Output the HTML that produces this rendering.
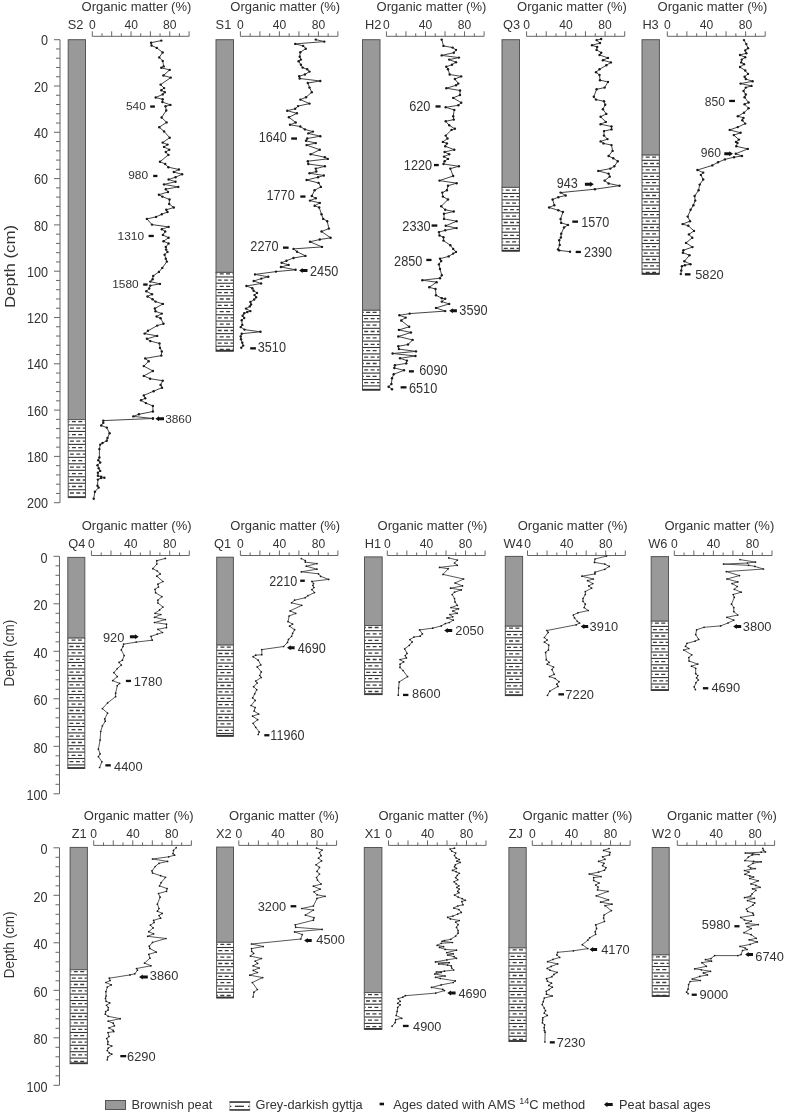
<!DOCTYPE html>
<html><head><meta charset="utf-8"><style>
html,body{margin:0;padding:0;background:#fff;}
svg{display:block;will-change:transform;}
text{font-family:"Liberation Sans", sans-serif;}
</style></head><body>
<svg width="787" height="1115" viewBox="0 0 787 1115">
<rect width="787" height="1115" fill="#fff"/>
<line x1="60" y1="39.7" x2="60" y2="502.7" stroke="#666" stroke-width="1"/>
<line x1="54" y1="39.70" x2="60" y2="39.70" stroke="#666" stroke-width="1"/>
<text transform="translate(40.90,45.30) scale(1.0,1.09)" text-anchor="start" font-size="12.6" fill="#333">0</text>
<line x1="56" y1="48.96" x2="60" y2="48.96" stroke="#666" stroke-width="1"/>
<line x1="56" y1="58.22" x2="60" y2="58.22" stroke="#666" stroke-width="1"/>
<line x1="56" y1="67.48" x2="60" y2="67.48" stroke="#666" stroke-width="1"/>
<line x1="56" y1="76.74" x2="60" y2="76.74" stroke="#666" stroke-width="1"/>
<line x1="54" y1="86.00" x2="60" y2="86.00" stroke="#666" stroke-width="1"/>
<text transform="translate(33.89,91.60) scale(1.0,1.09)" text-anchor="start" font-size="12.6" fill="#333">20</text>
<line x1="56" y1="95.26" x2="60" y2="95.26" stroke="#666" stroke-width="1"/>
<line x1="56" y1="104.52" x2="60" y2="104.52" stroke="#666" stroke-width="1"/>
<line x1="56" y1="113.78" x2="60" y2="113.78" stroke="#666" stroke-width="1"/>
<line x1="56" y1="123.04" x2="60" y2="123.04" stroke="#666" stroke-width="1"/>
<line x1="54" y1="132.30" x2="60" y2="132.30" stroke="#666" stroke-width="1"/>
<text transform="translate(33.89,137.90) scale(1.0,1.09)" text-anchor="start" font-size="12.6" fill="#333">40</text>
<line x1="56" y1="141.56" x2="60" y2="141.56" stroke="#666" stroke-width="1"/>
<line x1="56" y1="150.82" x2="60" y2="150.82" stroke="#666" stroke-width="1"/>
<line x1="56" y1="160.08" x2="60" y2="160.08" stroke="#666" stroke-width="1"/>
<line x1="56" y1="169.34" x2="60" y2="169.34" stroke="#666" stroke-width="1"/>
<line x1="54" y1="178.60" x2="60" y2="178.60" stroke="#666" stroke-width="1"/>
<text transform="translate(33.89,184.20) scale(1.0,1.09)" text-anchor="start" font-size="12.6" fill="#333">60</text>
<line x1="56" y1="187.86" x2="60" y2="187.86" stroke="#666" stroke-width="1"/>
<line x1="56" y1="197.12" x2="60" y2="197.12" stroke="#666" stroke-width="1"/>
<line x1="56" y1="206.38" x2="60" y2="206.38" stroke="#666" stroke-width="1"/>
<line x1="56" y1="215.64" x2="60" y2="215.64" stroke="#666" stroke-width="1"/>
<line x1="54" y1="224.90" x2="60" y2="224.90" stroke="#666" stroke-width="1"/>
<text transform="translate(33.89,230.50) scale(1.0,1.09)" text-anchor="start" font-size="12.6" fill="#333">80</text>
<line x1="56" y1="234.16" x2="60" y2="234.16" stroke="#666" stroke-width="1"/>
<line x1="56" y1="243.42" x2="60" y2="243.42" stroke="#666" stroke-width="1"/>
<line x1="56" y1="252.68" x2="60" y2="252.68" stroke="#666" stroke-width="1"/>
<line x1="56" y1="261.94" x2="60" y2="261.94" stroke="#666" stroke-width="1"/>
<line x1="54" y1="271.20" x2="60" y2="271.20" stroke="#666" stroke-width="1"/>
<text transform="translate(26.89,276.80) scale(1.0,1.09)" text-anchor="start" font-size="12.6" fill="#333">100</text>
<line x1="56" y1="280.46" x2="60" y2="280.46" stroke="#666" stroke-width="1"/>
<line x1="56" y1="289.72" x2="60" y2="289.72" stroke="#666" stroke-width="1"/>
<line x1="56" y1="298.98" x2="60" y2="298.98" stroke="#666" stroke-width="1"/>
<line x1="56" y1="308.24" x2="60" y2="308.24" stroke="#666" stroke-width="1"/>
<line x1="54" y1="317.50" x2="60" y2="317.50" stroke="#666" stroke-width="1"/>
<text transform="translate(26.89,323.10) scale(1.0,1.09)" text-anchor="start" font-size="12.6" fill="#333">120</text>
<line x1="56" y1="326.76" x2="60" y2="326.76" stroke="#666" stroke-width="1"/>
<line x1="56" y1="336.02" x2="60" y2="336.02" stroke="#666" stroke-width="1"/>
<line x1="56" y1="345.28" x2="60" y2="345.28" stroke="#666" stroke-width="1"/>
<line x1="56" y1="354.54" x2="60" y2="354.54" stroke="#666" stroke-width="1"/>
<line x1="54" y1="363.80" x2="60" y2="363.80" stroke="#666" stroke-width="1"/>
<text transform="translate(26.89,369.40) scale(1.0,1.09)" text-anchor="start" font-size="12.6" fill="#333">140</text>
<line x1="56" y1="373.06" x2="60" y2="373.06" stroke="#666" stroke-width="1"/>
<line x1="56" y1="382.32" x2="60" y2="382.32" stroke="#666" stroke-width="1"/>
<line x1="56" y1="391.58" x2="60" y2="391.58" stroke="#666" stroke-width="1"/>
<line x1="56" y1="400.84" x2="60" y2="400.84" stroke="#666" stroke-width="1"/>
<line x1="54" y1="410.10" x2="60" y2="410.10" stroke="#666" stroke-width="1"/>
<text transform="translate(26.89,415.70) scale(1.0,1.09)" text-anchor="start" font-size="12.6" fill="#333">160</text>
<line x1="56" y1="419.36" x2="60" y2="419.36" stroke="#666" stroke-width="1"/>
<line x1="56" y1="428.62" x2="60" y2="428.62" stroke="#666" stroke-width="1"/>
<line x1="56" y1="437.88" x2="60" y2="437.88" stroke="#666" stroke-width="1"/>
<line x1="56" y1="447.14" x2="60" y2="447.14" stroke="#666" stroke-width="1"/>
<line x1="54" y1="456.40" x2="60" y2="456.40" stroke="#666" stroke-width="1"/>
<text transform="translate(26.89,462.00) scale(1.0,1.09)" text-anchor="start" font-size="12.6" fill="#333">180</text>
<line x1="56" y1="465.66" x2="60" y2="465.66" stroke="#666" stroke-width="1"/>
<line x1="56" y1="474.92" x2="60" y2="474.92" stroke="#666" stroke-width="1"/>
<line x1="56" y1="484.18" x2="60" y2="484.18" stroke="#666" stroke-width="1"/>
<line x1="56" y1="493.44" x2="60" y2="493.44" stroke="#666" stroke-width="1"/>
<line x1="54" y1="502.70" x2="60" y2="502.70" stroke="#666" stroke-width="1"/>
<text transform="translate(26.89,508.30) scale(1.0,1.09)" text-anchor="start" font-size="12.6" fill="#333">200</text>
<text transform="translate(14.6,266.5) rotate(-90) scale(1.16,1)" text-anchor="middle" font-size="14.5" fill="#333">Depth (cm)</text>
<line x1="59.5" y1="556.3" x2="59.5" y2="793.8" stroke="#666" stroke-width="1"/>
<line x1="53.5" y1="556.30" x2="59.5" y2="556.30" stroke="#666" stroke-width="1"/>
<text transform="translate(40.50,562.50) scale(1.0,1.09)" text-anchor="start" font-size="12.6" fill="#333">0</text>
<line x1="55.5" y1="565.80" x2="59.5" y2="565.80" stroke="#666" stroke-width="1"/>
<line x1="55.5" y1="575.30" x2="59.5" y2="575.30" stroke="#666" stroke-width="1"/>
<line x1="55.5" y1="584.80" x2="59.5" y2="584.80" stroke="#666" stroke-width="1"/>
<line x1="55.5" y1="594.30" x2="59.5" y2="594.30" stroke="#666" stroke-width="1"/>
<line x1="53.5" y1="603.80" x2="59.5" y2="603.80" stroke="#666" stroke-width="1"/>
<text transform="translate(33.49,610.00) scale(1.0,1.09)" text-anchor="start" font-size="12.6" fill="#333">20</text>
<line x1="55.5" y1="613.30" x2="59.5" y2="613.30" stroke="#666" stroke-width="1"/>
<line x1="55.5" y1="622.80" x2="59.5" y2="622.80" stroke="#666" stroke-width="1"/>
<line x1="55.5" y1="632.30" x2="59.5" y2="632.30" stroke="#666" stroke-width="1"/>
<line x1="55.5" y1="641.80" x2="59.5" y2="641.80" stroke="#666" stroke-width="1"/>
<line x1="53.5" y1="651.30" x2="59.5" y2="651.30" stroke="#666" stroke-width="1"/>
<text transform="translate(33.49,657.50) scale(1.0,1.09)" text-anchor="start" font-size="12.6" fill="#333">40</text>
<line x1="55.5" y1="660.80" x2="59.5" y2="660.80" stroke="#666" stroke-width="1"/>
<line x1="55.5" y1="670.30" x2="59.5" y2="670.30" stroke="#666" stroke-width="1"/>
<line x1="55.5" y1="679.80" x2="59.5" y2="679.80" stroke="#666" stroke-width="1"/>
<line x1="55.5" y1="689.30" x2="59.5" y2="689.30" stroke="#666" stroke-width="1"/>
<line x1="53.5" y1="698.80" x2="59.5" y2="698.80" stroke="#666" stroke-width="1"/>
<text transform="translate(33.49,705.00) scale(1.0,1.09)" text-anchor="start" font-size="12.6" fill="#333">60</text>
<line x1="55.5" y1="708.30" x2="59.5" y2="708.30" stroke="#666" stroke-width="1"/>
<line x1="55.5" y1="717.80" x2="59.5" y2="717.80" stroke="#666" stroke-width="1"/>
<line x1="55.5" y1="727.30" x2="59.5" y2="727.30" stroke="#666" stroke-width="1"/>
<line x1="55.5" y1="736.80" x2="59.5" y2="736.80" stroke="#666" stroke-width="1"/>
<line x1="53.5" y1="746.30" x2="59.5" y2="746.30" stroke="#666" stroke-width="1"/>
<text transform="translate(33.49,752.50) scale(1.0,1.09)" text-anchor="start" font-size="12.6" fill="#333">80</text>
<line x1="55.5" y1="755.80" x2="59.5" y2="755.80" stroke="#666" stroke-width="1"/>
<line x1="55.5" y1="765.30" x2="59.5" y2="765.30" stroke="#666" stroke-width="1"/>
<line x1="55.5" y1="774.80" x2="59.5" y2="774.80" stroke="#666" stroke-width="1"/>
<line x1="55.5" y1="784.30" x2="59.5" y2="784.30" stroke="#666" stroke-width="1"/>
<line x1="53.5" y1="793.80" x2="59.5" y2="793.80" stroke="#666" stroke-width="1"/>
<text transform="translate(26.49,800.00) scale(1.0,1.09)" text-anchor="start" font-size="12.6" fill="#333">100</text>
<text transform="translate(14.3,653.1) rotate(-90) scale(0.9,1)" text-anchor="middle" font-size="15" fill="#333">Depth (cm)</text>
<line x1="59.5" y1="847.8" x2="59.5" y2="1085.3" stroke="#666" stroke-width="1"/>
<line x1="53.5" y1="847.80" x2="59.5" y2="847.80" stroke="#666" stroke-width="1"/>
<text transform="translate(40.50,854.00) scale(1.0,1.09)" text-anchor="start" font-size="12.6" fill="#333">0</text>
<line x1="55.5" y1="857.30" x2="59.5" y2="857.30" stroke="#666" stroke-width="1"/>
<line x1="55.5" y1="866.80" x2="59.5" y2="866.80" stroke="#666" stroke-width="1"/>
<line x1="55.5" y1="876.30" x2="59.5" y2="876.30" stroke="#666" stroke-width="1"/>
<line x1="55.5" y1="885.80" x2="59.5" y2="885.80" stroke="#666" stroke-width="1"/>
<line x1="53.5" y1="895.30" x2="59.5" y2="895.30" stroke="#666" stroke-width="1"/>
<text transform="translate(33.49,901.50) scale(1.0,1.09)" text-anchor="start" font-size="12.6" fill="#333">20</text>
<line x1="55.5" y1="904.80" x2="59.5" y2="904.80" stroke="#666" stroke-width="1"/>
<line x1="55.5" y1="914.30" x2="59.5" y2="914.30" stroke="#666" stroke-width="1"/>
<line x1="55.5" y1="923.80" x2="59.5" y2="923.80" stroke="#666" stroke-width="1"/>
<line x1="55.5" y1="933.30" x2="59.5" y2="933.30" stroke="#666" stroke-width="1"/>
<line x1="53.5" y1="942.80" x2="59.5" y2="942.80" stroke="#666" stroke-width="1"/>
<text transform="translate(33.49,949.00) scale(1.0,1.09)" text-anchor="start" font-size="12.6" fill="#333">40</text>
<line x1="55.5" y1="952.30" x2="59.5" y2="952.30" stroke="#666" stroke-width="1"/>
<line x1="55.5" y1="961.80" x2="59.5" y2="961.80" stroke="#666" stroke-width="1"/>
<line x1="55.5" y1="971.30" x2="59.5" y2="971.30" stroke="#666" stroke-width="1"/>
<line x1="55.5" y1="980.80" x2="59.5" y2="980.80" stroke="#666" stroke-width="1"/>
<line x1="53.5" y1="990.30" x2="59.5" y2="990.30" stroke="#666" stroke-width="1"/>
<text transform="translate(33.49,996.50) scale(1.0,1.09)" text-anchor="start" font-size="12.6" fill="#333">60</text>
<line x1="55.5" y1="999.80" x2="59.5" y2="999.80" stroke="#666" stroke-width="1"/>
<line x1="55.5" y1="1009.30" x2="59.5" y2="1009.30" stroke="#666" stroke-width="1"/>
<line x1="55.5" y1="1018.80" x2="59.5" y2="1018.80" stroke="#666" stroke-width="1"/>
<line x1="55.5" y1="1028.30" x2="59.5" y2="1028.30" stroke="#666" stroke-width="1"/>
<line x1="53.5" y1="1037.80" x2="59.5" y2="1037.80" stroke="#666" stroke-width="1"/>
<text transform="translate(33.49,1044.00) scale(1.0,1.09)" text-anchor="start" font-size="12.6" fill="#333">80</text>
<line x1="55.5" y1="1047.30" x2="59.5" y2="1047.30" stroke="#666" stroke-width="1"/>
<line x1="55.5" y1="1056.80" x2="59.5" y2="1056.80" stroke="#666" stroke-width="1"/>
<line x1="55.5" y1="1066.30" x2="59.5" y2="1066.30" stroke="#666" stroke-width="1"/>
<line x1="55.5" y1="1075.80" x2="59.5" y2="1075.80" stroke="#666" stroke-width="1"/>
<line x1="53.5" y1="1085.30" x2="59.5" y2="1085.30" stroke="#666" stroke-width="1"/>
<text transform="translate(26.49,1091.50) scale(1.0,1.09)" text-anchor="start" font-size="12.6" fill="#333">100</text>
<text transform="translate(14.3,944.8) rotate(-90) scale(0.9,1)" text-anchor="middle" font-size="15" fill="#333">Depth (cm)</text>
<rect x="68.2" y="39.7" width="17.30" height="379.90" fill="#999" stroke="#555" stroke-width="1"/>
<rect x="68.2" y="419.6" width="17.30" height="78.00" fill="#fff" stroke="#555" stroke-width="1"/>
<line x1="68.70" y1="421.70" x2="85.00" y2="421.70" stroke="#3a3a3a" stroke-width="1.3" stroke-dasharray="4.0 2.4" stroke-dashoffset="3.2"/>
<line x1="68.2" y1="424.94" x2="85.5" y2="424.94" stroke="#333" stroke-width="1.1"/>
<line x1="68.70" y1="428.18" x2="85.00" y2="428.18" stroke="#3a3a3a" stroke-width="1.3" stroke-dasharray="4.0 2.4" stroke-dashoffset="5.2"/>
<line x1="68.2" y1="431.42" x2="85.5" y2="431.42" stroke="#333" stroke-width="1.1"/>
<line x1="68.70" y1="434.66" x2="85.00" y2="434.66" stroke="#3a3a3a" stroke-width="1.3" stroke-dasharray="4.0 2.4" stroke-dashoffset="3.2"/>
<line x1="68.2" y1="437.90" x2="85.5" y2="437.90" stroke="#333" stroke-width="1.1"/>
<line x1="68.70" y1="441.14" x2="85.00" y2="441.14" stroke="#3a3a3a" stroke-width="1.3" stroke-dasharray="4.0 2.4" stroke-dashoffset="5.2"/>
<line x1="68.2" y1="444.38" x2="85.5" y2="444.38" stroke="#333" stroke-width="1.1"/>
<line x1="68.70" y1="447.62" x2="85.00" y2="447.62" stroke="#3a3a3a" stroke-width="1.3" stroke-dasharray="4.0 2.4" stroke-dashoffset="3.2"/>
<line x1="68.2" y1="450.86" x2="85.5" y2="450.86" stroke="#333" stroke-width="1.1"/>
<line x1="68.70" y1="454.10" x2="85.00" y2="454.10" stroke="#3a3a3a" stroke-width="1.3" stroke-dasharray="4.0 2.4" stroke-dashoffset="5.2"/>
<line x1="68.2" y1="457.34" x2="85.5" y2="457.34" stroke="#333" stroke-width="1.1"/>
<line x1="68.70" y1="460.58" x2="85.00" y2="460.58" stroke="#3a3a3a" stroke-width="1.3" stroke-dasharray="4.0 2.4" stroke-dashoffset="3.2"/>
<line x1="68.2" y1="463.82" x2="85.5" y2="463.82" stroke="#333" stroke-width="1.1"/>
<line x1="68.70" y1="467.06" x2="85.00" y2="467.06" stroke="#3a3a3a" stroke-width="1.3" stroke-dasharray="4.0 2.4" stroke-dashoffset="5.2"/>
<line x1="68.2" y1="470.30" x2="85.5" y2="470.30" stroke="#333" stroke-width="1.1"/>
<line x1="68.70" y1="473.54" x2="85.00" y2="473.54" stroke="#3a3a3a" stroke-width="1.3" stroke-dasharray="4.0 2.4" stroke-dashoffset="3.2"/>
<line x1="68.2" y1="476.78" x2="85.5" y2="476.78" stroke="#333" stroke-width="1.1"/>
<line x1="68.70" y1="480.02" x2="85.00" y2="480.02" stroke="#3a3a3a" stroke-width="1.3" stroke-dasharray="4.0 2.4" stroke-dashoffset="5.2"/>
<line x1="68.2" y1="483.26" x2="85.5" y2="483.26" stroke="#333" stroke-width="1.1"/>
<line x1="68.70" y1="486.50" x2="85.00" y2="486.50" stroke="#3a3a3a" stroke-width="1.3" stroke-dasharray="4.0 2.4" stroke-dashoffset="3.2"/>
<line x1="68.2" y1="489.74" x2="85.5" y2="489.74" stroke="#333" stroke-width="1.1"/>
<line x1="68.70" y1="492.98" x2="85.00" y2="492.98" stroke="#3a3a3a" stroke-width="1.3" stroke-dasharray="4.0 2.4" stroke-dashoffset="5.2"/>
<line x1="68.2" y1="497.00" x2="85.5" y2="497.00" stroke="#333" stroke-width="1.6"/>
<line x1="92.3" y1="36.3" x2="189.1" y2="36.3" stroke="#666" stroke-width="1"/>
<line x1="92.30" y1="31.299999999999997" x2="92.30" y2="36.3" stroke="#666" stroke-width="1"/>
<line x1="101.98" y1="33.3" x2="101.98" y2="36.3" stroke="#666" stroke-width="1"/>
<line x1="111.66" y1="31.299999999999997" x2="111.66" y2="36.3" stroke="#666" stroke-width="1"/>
<line x1="121.34" y1="33.3" x2="121.34" y2="36.3" stroke="#666" stroke-width="1"/>
<line x1="131.02" y1="31.299999999999997" x2="131.02" y2="36.3" stroke="#666" stroke-width="1"/>
<line x1="140.70" y1="33.3" x2="140.70" y2="36.3" stroke="#666" stroke-width="1"/>
<line x1="150.38" y1="31.299999999999997" x2="150.38" y2="36.3" stroke="#666" stroke-width="1"/>
<line x1="160.06" y1="33.3" x2="160.06" y2="36.3" stroke="#666" stroke-width="1"/>
<line x1="169.74" y1="31.299999999999997" x2="169.74" y2="36.3" stroke="#666" stroke-width="1"/>
<line x1="179.42" y1="33.3" x2="179.42" y2="36.3" stroke="#666" stroke-width="1"/>
<line x1="189.10" y1="31.299999999999997" x2="189.10" y2="36.3" stroke="#666" stroke-width="1"/>
<text transform="translate(88.94,28.70) scale(1.0,1.0)" text-anchor="start" font-size="12.1" fill="#333">0</text>
<text transform="translate(124.40,28.70) scale(1.0,1.0)" text-anchor="start" font-size="12.1" fill="#333">40</text>
<text transform="translate(162.99,28.70) scale(1.0,1.0)" text-anchor="start" font-size="12.1" fill="#333">80</text>
<text transform="translate(81.52,11.20) scale(1.0,1.0)" text-anchor="start" font-size="13.0" fill="#333">Organic matter (%)</text>
<text transform="translate(67.80,28.60) scale(1.0,1.0)" text-anchor="start" font-size="12.8" fill="#333">S2</text>
<rect x="216" y="39.7" width="17.50" height="232.70" fill="#999" stroke="#555" stroke-width="1"/>
<rect x="216" y="272.4" width="17.50" height="78.80" fill="#fff" stroke="#555" stroke-width="1"/>
<line x1="216.50" y1="273.80" x2="233.00" y2="273.80" stroke="#3a3a3a" stroke-width="1.3" stroke-dasharray="4.0 2.4" stroke-dashoffset="3.2"/>
<line x1="216" y1="276.95" x2="233.5" y2="276.95" stroke="#333" stroke-width="1.1"/>
<line x1="216.50" y1="280.10" x2="233.00" y2="280.10" stroke="#3a3a3a" stroke-width="1.3" stroke-dasharray="4.0 2.4" stroke-dashoffset="5.2"/>
<line x1="216" y1="283.25" x2="233.5" y2="283.25" stroke="#333" stroke-width="1.1"/>
<line x1="216.50" y1="286.40" x2="233.00" y2="286.40" stroke="#3a3a3a" stroke-width="1.3" stroke-dasharray="4.0 2.4" stroke-dashoffset="3.2"/>
<line x1="216" y1="289.55" x2="233.5" y2="289.55" stroke="#333" stroke-width="1.1"/>
<line x1="216.50" y1="292.70" x2="233.00" y2="292.70" stroke="#3a3a3a" stroke-width="1.3" stroke-dasharray="4.0 2.4" stroke-dashoffset="5.2"/>
<line x1="216" y1="295.85" x2="233.5" y2="295.85" stroke="#333" stroke-width="1.1"/>
<line x1="216.50" y1="299.00" x2="233.00" y2="299.00" stroke="#3a3a3a" stroke-width="1.3" stroke-dasharray="4.0 2.4" stroke-dashoffset="3.2"/>
<line x1="216" y1="302.15" x2="233.5" y2="302.15" stroke="#333" stroke-width="1.1"/>
<line x1="216.50" y1="305.30" x2="233.00" y2="305.30" stroke="#3a3a3a" stroke-width="1.3" stroke-dasharray="4.0 2.4" stroke-dashoffset="5.2"/>
<line x1="216" y1="308.45" x2="233.5" y2="308.45" stroke="#333" stroke-width="1.1"/>
<line x1="216.50" y1="311.60" x2="233.00" y2="311.60" stroke="#3a3a3a" stroke-width="1.3" stroke-dasharray="4.0 2.4" stroke-dashoffset="3.2"/>
<line x1="216" y1="314.75" x2="233.5" y2="314.75" stroke="#333" stroke-width="1.1"/>
<line x1="216.50" y1="317.90" x2="233.00" y2="317.90" stroke="#3a3a3a" stroke-width="1.3" stroke-dasharray="4.0 2.4" stroke-dashoffset="5.2"/>
<line x1="216" y1="321.05" x2="233.5" y2="321.05" stroke="#333" stroke-width="1.1"/>
<line x1="216.50" y1="324.20" x2="233.00" y2="324.20" stroke="#3a3a3a" stroke-width="1.3" stroke-dasharray="4.0 2.4" stroke-dashoffset="3.2"/>
<line x1="216" y1="327.35" x2="233.5" y2="327.35" stroke="#333" stroke-width="1.1"/>
<line x1="216.50" y1="330.50" x2="233.00" y2="330.50" stroke="#3a3a3a" stroke-width="1.3" stroke-dasharray="4.0 2.4" stroke-dashoffset="5.2"/>
<line x1="216" y1="333.65" x2="233.5" y2="333.65" stroke="#333" stroke-width="1.1"/>
<line x1="216.50" y1="336.80" x2="233.00" y2="336.80" stroke="#3a3a3a" stroke-width="1.3" stroke-dasharray="4.0 2.4" stroke-dashoffset="3.2"/>
<line x1="216" y1="339.95" x2="233.5" y2="339.95" stroke="#333" stroke-width="1.1"/>
<line x1="216.50" y1="343.10" x2="233.00" y2="343.10" stroke="#3a3a3a" stroke-width="1.3" stroke-dasharray="4.0 2.4" stroke-dashoffset="5.2"/>
<line x1="216" y1="346.25" x2="233.5" y2="346.25" stroke="#333" stroke-width="1.1"/>
<line x1="216.50" y1="349.40" x2="233.00" y2="349.40" stroke="#3a3a3a" stroke-width="1.3" stroke-dasharray="4.0 2.4" stroke-dashoffset="3.2"/>
<line x1="216" y1="350.60" x2="233.5" y2="350.60" stroke="#333" stroke-width="1.6"/>
<line x1="240.4" y1="36.3" x2="337.9" y2="36.3" stroke="#666" stroke-width="1"/>
<line x1="240.40" y1="31.299999999999997" x2="240.40" y2="36.3" stroke="#666" stroke-width="1"/>
<line x1="250.15" y1="33.3" x2="250.15" y2="36.3" stroke="#666" stroke-width="1"/>
<line x1="259.90" y1="31.299999999999997" x2="259.90" y2="36.3" stroke="#666" stroke-width="1"/>
<line x1="269.65" y1="33.3" x2="269.65" y2="36.3" stroke="#666" stroke-width="1"/>
<line x1="279.40" y1="31.299999999999997" x2="279.40" y2="36.3" stroke="#666" stroke-width="1"/>
<line x1="289.15" y1="33.3" x2="289.15" y2="36.3" stroke="#666" stroke-width="1"/>
<line x1="298.90" y1="31.299999999999997" x2="298.90" y2="36.3" stroke="#666" stroke-width="1"/>
<line x1="308.65" y1="33.3" x2="308.65" y2="36.3" stroke="#666" stroke-width="1"/>
<line x1="318.40" y1="31.299999999999997" x2="318.40" y2="36.3" stroke="#666" stroke-width="1"/>
<line x1="328.15" y1="33.3" x2="328.15" y2="36.3" stroke="#666" stroke-width="1"/>
<line x1="337.90" y1="31.299999999999997" x2="337.90" y2="36.3" stroke="#666" stroke-width="1"/>
<text transform="translate(237.04,28.70) scale(1.0,1.0)" text-anchor="start" font-size="12.1" fill="#333">0</text>
<text transform="translate(272.78,28.70) scale(1.0,1.0)" text-anchor="start" font-size="12.1" fill="#333">40</text>
<text transform="translate(311.65,28.70) scale(1.0,1.0)" text-anchor="start" font-size="12.1" fill="#333">80</text>
<text transform="translate(230.32,11.20) scale(1.0,1.0)" text-anchor="start" font-size="13.0" fill="#333">Organic matter (%)</text>
<text transform="translate(215.60,28.60) scale(1.0,1.0)" text-anchor="start" font-size="12.8" fill="#333">S1</text>
<rect x="362.5" y="39.7" width="17.50" height="270.60" fill="#999" stroke="#555" stroke-width="1"/>
<rect x="362.5" y="310.3" width="17.50" height="79.90" fill="#fff" stroke="#555" stroke-width="1"/>
<line x1="363.00" y1="312.30" x2="379.50" y2="312.30" stroke="#3a3a3a" stroke-width="1.3" stroke-dasharray="4.0 2.4" stroke-dashoffset="3.2"/>
<line x1="362.5" y1="315.50" x2="380" y2="315.50" stroke="#333" stroke-width="1.1"/>
<line x1="363.00" y1="318.70" x2="379.50" y2="318.70" stroke="#3a3a3a" stroke-width="1.3" stroke-dasharray="4.0 2.4" stroke-dashoffset="5.2"/>
<line x1="362.5" y1="321.90" x2="380" y2="321.90" stroke="#333" stroke-width="1.1"/>
<line x1="363.00" y1="325.10" x2="379.50" y2="325.10" stroke="#3a3a3a" stroke-width="1.3" stroke-dasharray="4.0 2.4" stroke-dashoffset="3.2"/>
<line x1="362.5" y1="328.30" x2="380" y2="328.30" stroke="#333" stroke-width="1.1"/>
<line x1="363.00" y1="331.50" x2="379.50" y2="331.50" stroke="#3a3a3a" stroke-width="1.3" stroke-dasharray="4.0 2.4" stroke-dashoffset="5.2"/>
<line x1="362.5" y1="334.70" x2="380" y2="334.70" stroke="#333" stroke-width="1.1"/>
<line x1="363.00" y1="337.90" x2="379.50" y2="337.90" stroke="#3a3a3a" stroke-width="1.3" stroke-dasharray="4.0 2.4" stroke-dashoffset="3.2"/>
<line x1="362.5" y1="341.10" x2="380" y2="341.10" stroke="#333" stroke-width="1.1"/>
<line x1="363.00" y1="344.30" x2="379.50" y2="344.30" stroke="#3a3a3a" stroke-width="1.3" stroke-dasharray="4.0 2.4" stroke-dashoffset="5.2"/>
<line x1="362.5" y1="347.50" x2="380" y2="347.50" stroke="#333" stroke-width="1.1"/>
<line x1="363.00" y1="350.70" x2="379.50" y2="350.70" stroke="#3a3a3a" stroke-width="1.3" stroke-dasharray="4.0 2.4" stroke-dashoffset="3.2"/>
<line x1="362.5" y1="353.90" x2="380" y2="353.90" stroke="#333" stroke-width="1.1"/>
<line x1="363.00" y1="357.10" x2="379.50" y2="357.10" stroke="#3a3a3a" stroke-width="1.3" stroke-dasharray="4.0 2.4" stroke-dashoffset="5.2"/>
<line x1="362.5" y1="360.30" x2="380" y2="360.30" stroke="#333" stroke-width="1.1"/>
<line x1="363.00" y1="363.50" x2="379.50" y2="363.50" stroke="#3a3a3a" stroke-width="1.3" stroke-dasharray="4.0 2.4" stroke-dashoffset="3.2"/>
<line x1="362.5" y1="366.70" x2="380" y2="366.70" stroke="#333" stroke-width="1.1"/>
<line x1="363.00" y1="369.90" x2="379.50" y2="369.90" stroke="#3a3a3a" stroke-width="1.3" stroke-dasharray="4.0 2.4" stroke-dashoffset="5.2"/>
<line x1="362.5" y1="373.10" x2="380" y2="373.10" stroke="#333" stroke-width="1.1"/>
<line x1="363.00" y1="376.30" x2="379.50" y2="376.30" stroke="#3a3a3a" stroke-width="1.3" stroke-dasharray="4.0 2.4" stroke-dashoffset="3.2"/>
<line x1="362.5" y1="379.50" x2="380" y2="379.50" stroke="#333" stroke-width="1.1"/>
<line x1="363.00" y1="382.70" x2="379.50" y2="382.70" stroke="#3a3a3a" stroke-width="1.3" stroke-dasharray="4.0 2.4" stroke-dashoffset="5.2"/>
<line x1="362.5" y1="385.90" x2="380" y2="385.90" stroke="#333" stroke-width="1.1"/>
<line x1="362.5" y1="389.60" x2="380" y2="389.60" stroke="#333" stroke-width="1.6"/>
<line x1="386.4" y1="36.3" x2="484.1" y2="36.3" stroke="#666" stroke-width="1"/>
<line x1="386.40" y1="31.299999999999997" x2="386.40" y2="36.3" stroke="#666" stroke-width="1"/>
<line x1="396.17" y1="33.3" x2="396.17" y2="36.3" stroke="#666" stroke-width="1"/>
<line x1="405.94" y1="31.299999999999997" x2="405.94" y2="36.3" stroke="#666" stroke-width="1"/>
<line x1="415.71" y1="33.3" x2="415.71" y2="36.3" stroke="#666" stroke-width="1"/>
<line x1="425.48" y1="31.299999999999997" x2="425.48" y2="36.3" stroke="#666" stroke-width="1"/>
<line x1="435.25" y1="33.3" x2="435.25" y2="36.3" stroke="#666" stroke-width="1"/>
<line x1="445.02" y1="31.299999999999997" x2="445.02" y2="36.3" stroke="#666" stroke-width="1"/>
<line x1="454.79" y1="33.3" x2="454.79" y2="36.3" stroke="#666" stroke-width="1"/>
<line x1="464.56" y1="31.299999999999997" x2="464.56" y2="36.3" stroke="#666" stroke-width="1"/>
<line x1="474.33" y1="33.3" x2="474.33" y2="36.3" stroke="#666" stroke-width="1"/>
<line x1="484.10" y1="31.299999999999997" x2="484.10" y2="36.3" stroke="#666" stroke-width="1"/>
<text transform="translate(383.04,28.70) scale(1.0,1.0)" text-anchor="start" font-size="12.1" fill="#333">0</text>
<text transform="translate(418.86,28.70) scale(1.0,1.0)" text-anchor="start" font-size="12.1" fill="#333">40</text>
<text transform="translate(457.81,28.70) scale(1.0,1.0)" text-anchor="start" font-size="12.1" fill="#333">80</text>
<text transform="translate(376.52,11.20) scale(1.0,1.0)" text-anchor="start" font-size="13.0" fill="#333">Organic matter (%)</text>
<text transform="translate(365.02,28.60) scale(1.0,1.0)" text-anchor="start" font-size="12.8" fill="#333">H2</text>
<rect x="502" y="39.7" width="17.50" height="147.70" fill="#999" stroke="#555" stroke-width="1"/>
<rect x="502" y="187.4" width="17.50" height="63.80" fill="#fff" stroke="#555" stroke-width="1"/>
<line x1="502.50" y1="190.20" x2="519.00" y2="190.20" stroke="#3a3a3a" stroke-width="1.3" stroke-dasharray="4.0 2.4" stroke-dashoffset="3.2"/>
<line x1="502" y1="193.43" x2="519.5" y2="193.43" stroke="#333" stroke-width="1.1"/>
<line x1="502.50" y1="196.66" x2="519.00" y2="196.66" stroke="#3a3a3a" stroke-width="1.3" stroke-dasharray="4.0 2.4" stroke-dashoffset="5.2"/>
<line x1="502" y1="199.89" x2="519.5" y2="199.89" stroke="#333" stroke-width="1.1"/>
<line x1="502.50" y1="203.12" x2="519.00" y2="203.12" stroke="#3a3a3a" stroke-width="1.3" stroke-dasharray="4.0 2.4" stroke-dashoffset="3.2"/>
<line x1="502" y1="206.35" x2="519.5" y2="206.35" stroke="#333" stroke-width="1.1"/>
<line x1="502.50" y1="209.58" x2="519.00" y2="209.58" stroke="#3a3a3a" stroke-width="1.3" stroke-dasharray="4.0 2.4" stroke-dashoffset="5.2"/>
<line x1="502" y1="212.81" x2="519.5" y2="212.81" stroke="#333" stroke-width="1.1"/>
<line x1="502.50" y1="216.04" x2="519.00" y2="216.04" stroke="#3a3a3a" stroke-width="1.3" stroke-dasharray="4.0 2.4" stroke-dashoffset="3.2"/>
<line x1="502" y1="219.27" x2="519.5" y2="219.27" stroke="#333" stroke-width="1.1"/>
<line x1="502.50" y1="222.50" x2="519.00" y2="222.50" stroke="#3a3a3a" stroke-width="1.3" stroke-dasharray="4.0 2.4" stroke-dashoffset="5.2"/>
<line x1="502" y1="225.73" x2="519.5" y2="225.73" stroke="#333" stroke-width="1.1"/>
<line x1="502.50" y1="228.96" x2="519.00" y2="228.96" stroke="#3a3a3a" stroke-width="1.3" stroke-dasharray="4.0 2.4" stroke-dashoffset="3.2"/>
<line x1="502" y1="232.19" x2="519.5" y2="232.19" stroke="#333" stroke-width="1.1"/>
<line x1="502.50" y1="235.42" x2="519.00" y2="235.42" stroke="#3a3a3a" stroke-width="1.3" stroke-dasharray="4.0 2.4" stroke-dashoffset="5.2"/>
<line x1="502" y1="238.65" x2="519.5" y2="238.65" stroke="#333" stroke-width="1.1"/>
<line x1="502.50" y1="241.88" x2="519.00" y2="241.88" stroke="#3a3a3a" stroke-width="1.3" stroke-dasharray="4.0 2.4" stroke-dashoffset="3.2"/>
<line x1="502" y1="245.11" x2="519.5" y2="245.11" stroke="#333" stroke-width="1.1"/>
<line x1="502.50" y1="248.34" x2="519.00" y2="248.34" stroke="#3a3a3a" stroke-width="1.3" stroke-dasharray="4.0 2.4" stroke-dashoffset="5.2"/>
<line x1="502" y1="250.60" x2="519.5" y2="250.60" stroke="#333" stroke-width="1.6"/>
<line x1="526.6" y1="36.3" x2="624.7" y2="36.3" stroke="#666" stroke-width="1"/>
<line x1="526.60" y1="31.299999999999997" x2="526.60" y2="36.3" stroke="#666" stroke-width="1"/>
<line x1="536.41" y1="33.3" x2="536.41" y2="36.3" stroke="#666" stroke-width="1"/>
<line x1="546.22" y1="31.299999999999997" x2="546.22" y2="36.3" stroke="#666" stroke-width="1"/>
<line x1="556.03" y1="33.3" x2="556.03" y2="36.3" stroke="#666" stroke-width="1"/>
<line x1="565.84" y1="31.299999999999997" x2="565.84" y2="36.3" stroke="#666" stroke-width="1"/>
<line x1="575.65" y1="33.3" x2="575.65" y2="36.3" stroke="#666" stroke-width="1"/>
<line x1="585.46" y1="31.299999999999997" x2="585.46" y2="36.3" stroke="#666" stroke-width="1"/>
<line x1="595.27" y1="33.3" x2="595.27" y2="36.3" stroke="#666" stroke-width="1"/>
<line x1="605.08" y1="31.299999999999997" x2="605.08" y2="36.3" stroke="#666" stroke-width="1"/>
<line x1="614.89" y1="33.3" x2="614.89" y2="36.3" stroke="#666" stroke-width="1"/>
<line x1="624.70" y1="31.299999999999997" x2="624.70" y2="36.3" stroke="#666" stroke-width="1"/>
<text transform="translate(523.24,28.70) scale(1.0,1.0)" text-anchor="start" font-size="12.1" fill="#333">0</text>
<text transform="translate(559.22,28.70) scale(1.0,1.0)" text-anchor="start" font-size="12.1" fill="#333">40</text>
<text transform="translate(598.33,28.70) scale(1.0,1.0)" text-anchor="start" font-size="12.1" fill="#333">80</text>
<text transform="translate(517.12,11.20) scale(1.0,1.0)" text-anchor="start" font-size="13.0" fill="#333">Organic matter (%)</text>
<text transform="translate(502.95,28.60) scale(1.0,1.0)" text-anchor="start" font-size="12.8" fill="#333">Q3</text>
<rect x="642" y="39.7" width="17.40" height="115.40" fill="#999" stroke="#555" stroke-width="1"/>
<rect x="642" y="155.1" width="17.40" height="119.20" fill="#fff" stroke="#555" stroke-width="1"/>
<line x1="642.50" y1="157.10" x2="658.90" y2="157.10" stroke="#3a3a3a" stroke-width="1.3" stroke-dasharray="4.0 2.4" stroke-dashoffset="3.2"/>
<line x1="642" y1="160.30" x2="659.4" y2="160.30" stroke="#333" stroke-width="1.1"/>
<line x1="642.50" y1="163.50" x2="658.90" y2="163.50" stroke="#3a3a3a" stroke-width="1.3" stroke-dasharray="4.0 2.4" stroke-dashoffset="5.2"/>
<line x1="642" y1="166.70" x2="659.4" y2="166.70" stroke="#333" stroke-width="1.1"/>
<line x1="642.50" y1="169.90" x2="658.90" y2="169.90" stroke="#3a3a3a" stroke-width="1.3" stroke-dasharray="4.0 2.4" stroke-dashoffset="3.2"/>
<line x1="642" y1="173.10" x2="659.4" y2="173.10" stroke="#333" stroke-width="1.1"/>
<line x1="642.50" y1="176.30" x2="658.90" y2="176.30" stroke="#3a3a3a" stroke-width="1.3" stroke-dasharray="4.0 2.4" stroke-dashoffset="5.2"/>
<line x1="642" y1="179.50" x2="659.4" y2="179.50" stroke="#333" stroke-width="1.1"/>
<line x1="642.50" y1="182.70" x2="658.90" y2="182.70" stroke="#3a3a3a" stroke-width="1.3" stroke-dasharray="4.0 2.4" stroke-dashoffset="3.2"/>
<line x1="642" y1="185.90" x2="659.4" y2="185.90" stroke="#333" stroke-width="1.1"/>
<line x1="642.50" y1="189.10" x2="658.90" y2="189.10" stroke="#3a3a3a" stroke-width="1.3" stroke-dasharray="4.0 2.4" stroke-dashoffset="5.2"/>
<line x1="642" y1="192.30" x2="659.4" y2="192.30" stroke="#333" stroke-width="1.1"/>
<line x1="642.50" y1="195.50" x2="658.90" y2="195.50" stroke="#3a3a3a" stroke-width="1.3" stroke-dasharray="4.0 2.4" stroke-dashoffset="3.2"/>
<line x1="642" y1="198.70" x2="659.4" y2="198.70" stroke="#333" stroke-width="1.1"/>
<line x1="642.50" y1="201.90" x2="658.90" y2="201.90" stroke="#3a3a3a" stroke-width="1.3" stroke-dasharray="4.0 2.4" stroke-dashoffset="5.2"/>
<line x1="642" y1="205.10" x2="659.4" y2="205.10" stroke="#333" stroke-width="1.1"/>
<line x1="642.50" y1="208.30" x2="658.90" y2="208.30" stroke="#3a3a3a" stroke-width="1.3" stroke-dasharray="4.0 2.4" stroke-dashoffset="3.2"/>
<line x1="642" y1="211.50" x2="659.4" y2="211.50" stroke="#333" stroke-width="1.1"/>
<line x1="642.50" y1="214.70" x2="658.90" y2="214.70" stroke="#3a3a3a" stroke-width="1.3" stroke-dasharray="4.0 2.4" stroke-dashoffset="5.2"/>
<line x1="642" y1="217.90" x2="659.4" y2="217.90" stroke="#333" stroke-width="1.1"/>
<line x1="642.50" y1="221.10" x2="658.90" y2="221.10" stroke="#3a3a3a" stroke-width="1.3" stroke-dasharray="4.0 2.4" stroke-dashoffset="3.2"/>
<line x1="642" y1="224.30" x2="659.4" y2="224.30" stroke="#333" stroke-width="1.1"/>
<line x1="642.50" y1="227.50" x2="658.90" y2="227.50" stroke="#3a3a3a" stroke-width="1.3" stroke-dasharray="4.0 2.4" stroke-dashoffset="5.2"/>
<line x1="642" y1="230.70" x2="659.4" y2="230.70" stroke="#333" stroke-width="1.1"/>
<line x1="642.50" y1="233.90" x2="658.90" y2="233.90" stroke="#3a3a3a" stroke-width="1.3" stroke-dasharray="4.0 2.4" stroke-dashoffset="3.2"/>
<line x1="642" y1="237.10" x2="659.4" y2="237.10" stroke="#333" stroke-width="1.1"/>
<line x1="642.50" y1="240.30" x2="658.90" y2="240.30" stroke="#3a3a3a" stroke-width="1.3" stroke-dasharray="4.0 2.4" stroke-dashoffset="5.2"/>
<line x1="642" y1="243.50" x2="659.4" y2="243.50" stroke="#333" stroke-width="1.1"/>
<line x1="642.50" y1="246.70" x2="658.90" y2="246.70" stroke="#3a3a3a" stroke-width="1.3" stroke-dasharray="4.0 2.4" stroke-dashoffset="3.2"/>
<line x1="642" y1="249.90" x2="659.4" y2="249.90" stroke="#333" stroke-width="1.1"/>
<line x1="642.50" y1="253.10" x2="658.90" y2="253.10" stroke="#3a3a3a" stroke-width="1.3" stroke-dasharray="4.0 2.4" stroke-dashoffset="5.2"/>
<line x1="642" y1="256.30" x2="659.4" y2="256.30" stroke="#333" stroke-width="1.1"/>
<line x1="642.50" y1="259.50" x2="658.90" y2="259.50" stroke="#3a3a3a" stroke-width="1.3" stroke-dasharray="4.0 2.4" stroke-dashoffset="3.2"/>
<line x1="642" y1="262.70" x2="659.4" y2="262.70" stroke="#333" stroke-width="1.1"/>
<line x1="642.50" y1="265.90" x2="658.90" y2="265.90" stroke="#3a3a3a" stroke-width="1.3" stroke-dasharray="4.0 2.4" stroke-dashoffset="5.2"/>
<line x1="642" y1="269.10" x2="659.4" y2="269.10" stroke="#333" stroke-width="1.1"/>
<line x1="642.50" y1="272.30" x2="658.90" y2="272.30" stroke="#3a3a3a" stroke-width="1.3" stroke-dasharray="4.0 2.4" stroke-dashoffset="3.2"/>
<line x1="642" y1="273.70" x2="659.4" y2="273.70" stroke="#333" stroke-width="1.6"/>
<line x1="667.3" y1="36.3" x2="765.2" y2="36.3" stroke="#666" stroke-width="1"/>
<line x1="667.30" y1="31.299999999999997" x2="667.30" y2="36.3" stroke="#666" stroke-width="1"/>
<line x1="677.09" y1="33.3" x2="677.09" y2="36.3" stroke="#666" stroke-width="1"/>
<line x1="686.88" y1="31.299999999999997" x2="686.88" y2="36.3" stroke="#666" stroke-width="1"/>
<line x1="696.67" y1="33.3" x2="696.67" y2="36.3" stroke="#666" stroke-width="1"/>
<line x1="706.46" y1="31.299999999999997" x2="706.46" y2="36.3" stroke="#666" stroke-width="1"/>
<line x1="716.25" y1="33.3" x2="716.25" y2="36.3" stroke="#666" stroke-width="1"/>
<line x1="726.04" y1="31.299999999999997" x2="726.04" y2="36.3" stroke="#666" stroke-width="1"/>
<line x1="735.83" y1="33.3" x2="735.83" y2="36.3" stroke="#666" stroke-width="1"/>
<line x1="745.62" y1="31.299999999999997" x2="745.62" y2="36.3" stroke="#666" stroke-width="1"/>
<line x1="755.41" y1="33.3" x2="755.41" y2="36.3" stroke="#666" stroke-width="1"/>
<line x1="765.20" y1="31.299999999999997" x2="765.20" y2="36.3" stroke="#666" stroke-width="1"/>
<text transform="translate(663.94,28.70) scale(1.0,1.0)" text-anchor="start" font-size="12.1" fill="#333">0</text>
<text transform="translate(699.84,28.70) scale(1.0,1.0)" text-anchor="start" font-size="12.1" fill="#333">40</text>
<text transform="translate(738.87,28.70) scale(1.0,1.0)" text-anchor="start" font-size="12.1" fill="#333">80</text>
<text transform="translate(657.62,11.20) scale(1.0,1.0)" text-anchor="start" font-size="13.0" fill="#333">Organic matter (%)</text>
<text transform="translate(642.38,28.60) scale(1.0,1.0)" text-anchor="start" font-size="12.8" fill="#333">H3</text>
<polyline points="161.3,40.6 151.1,42.7 151.5,45.5 156.8,47.9 162.7,52.5 159.2,57.4 162.7,60.9 163.7,66.4 161.3,67.8 169.7,69.9 163.4,75.5 170.8,77.6 160.6,84.6 164.1,88.1 161.3,90.2 164.8,92.3 162.7,94.4 155.7,97.5 162.7,99.3 162.4,102.0 170.4,104.9 165.5,106.3 166.2,110.5 161.6,117.5 166.6,122.4 159.2,127.2 164.1,131.4 169.7,137.7 162.7,142.6 167.5,144.6 164.0,146.9 169.2,149.7 165.8,152.0 168.4,154.9 160.0,161.7 165.2,164.0 168.4,167.2 178.9,169.5 173.8,172.0 182.1,174.3 175.5,177.2 168.6,179.5 175.5,181.7 164.0,184.4 178.3,186.9 165.8,189.2 168.0,192.0 158.9,194.7 162.3,196.6 169.5,199.5 169.2,204.0 173.8,207.5 166.3,209.8 167.5,212.0 161.8,214.3 156.0,216.9 146.9,218.9 152.0,224.6 168.6,226.9 161.8,229.2 165.2,231.5 162.9,234.9 168.6,237.8 163.5,241.2 168.6,243.5 165.8,246.9 166.1,249.6 167.5,251.9 164.6,254.7 165.8,258.7 166.9,261.6 162.3,267.9 158.9,271.9 153.2,275.9 152.6,279.3 150.3,281.6 160.0,283.9 150.3,285.6 149.2,288.5 146.3,291.3 152.0,294.2 147.5,296.5 152.6,299.3 155.5,301.6 162.9,303.9 154.9,308.5 155.5,311.3 161.8,313.6 156.6,316.5 160.6,318.2 163.5,323.7 157.2,325.6 148.0,330.8 144.6,333.6 157.2,335.9 146.9,338.8 150.3,341.1 159.5,343.4 160.0,347.9 161.8,351.4 161.3,355.6 145.2,358.4 148.7,361.2 143.8,366.1 152.9,371.0 143.8,375.9 150.1,378.7 162.7,380.7 160.6,384.9 162.0,387.7 153.6,391.2 143.8,395.4 145.2,398.2 141.0,400.3 145.9,403.1 152.9,405.9 152.9,411.5 138.9,414.3 133.3,416.4 152.9,418.5" fill="none" stroke="#3a3a3a" stroke-width="0.95" stroke-linejoin="round"/>
<circle cx="161.3" cy="40.6" r="1.2" fill="#1a1a1a"/>
<circle cx="151.1" cy="42.7" r="1.2" fill="#1a1a1a"/>
<circle cx="151.5" cy="45.5" r="1.2" fill="#1a1a1a"/>
<circle cx="156.8" cy="47.9" r="1.2" fill="#1a1a1a"/>
<circle cx="162.7" cy="52.5" r="1.2" fill="#1a1a1a"/>
<circle cx="159.2" cy="57.4" r="1.2" fill="#1a1a1a"/>
<circle cx="162.7" cy="60.9" r="1.2" fill="#1a1a1a"/>
<circle cx="163.7" cy="66.4" r="1.2" fill="#1a1a1a"/>
<circle cx="161.3" cy="67.8" r="1.2" fill="#1a1a1a"/>
<circle cx="169.7" cy="69.9" r="1.2" fill="#1a1a1a"/>
<circle cx="163.4" cy="75.5" r="1.2" fill="#1a1a1a"/>
<circle cx="170.8" cy="77.6" r="1.2" fill="#1a1a1a"/>
<circle cx="160.6" cy="84.6" r="1.2" fill="#1a1a1a"/>
<circle cx="164.1" cy="88.1" r="1.2" fill="#1a1a1a"/>
<circle cx="161.3" cy="90.2" r="1.2" fill="#1a1a1a"/>
<circle cx="164.8" cy="92.3" r="1.2" fill="#1a1a1a"/>
<circle cx="162.7" cy="94.4" r="1.2" fill="#1a1a1a"/>
<circle cx="155.7" cy="97.5" r="1.2" fill="#1a1a1a"/>
<circle cx="162.7" cy="99.3" r="1.2" fill="#1a1a1a"/>
<circle cx="162.4" cy="102.0" r="1.2" fill="#1a1a1a"/>
<circle cx="170.4" cy="104.9" r="1.2" fill="#1a1a1a"/>
<circle cx="165.5" cy="106.3" r="1.2" fill="#1a1a1a"/>
<circle cx="166.2" cy="110.5" r="1.2" fill="#1a1a1a"/>
<circle cx="161.6" cy="117.5" r="1.2" fill="#1a1a1a"/>
<circle cx="166.6" cy="122.4" r="1.2" fill="#1a1a1a"/>
<circle cx="159.2" cy="127.2" r="1.2" fill="#1a1a1a"/>
<circle cx="164.1" cy="131.4" r="1.2" fill="#1a1a1a"/>
<circle cx="169.7" cy="137.7" r="1.2" fill="#1a1a1a"/>
<circle cx="162.7" cy="142.6" r="1.2" fill="#1a1a1a"/>
<circle cx="167.5" cy="144.6" r="1.2" fill="#1a1a1a"/>
<circle cx="164.0" cy="146.9" r="1.2" fill="#1a1a1a"/>
<circle cx="169.2" cy="149.7" r="1.2" fill="#1a1a1a"/>
<circle cx="165.8" cy="152.0" r="1.2" fill="#1a1a1a"/>
<circle cx="168.4" cy="154.9" r="1.2" fill="#1a1a1a"/>
<circle cx="160.0" cy="161.7" r="1.2" fill="#1a1a1a"/>
<circle cx="165.2" cy="164.0" r="1.2" fill="#1a1a1a"/>
<circle cx="168.4" cy="167.2" r="1.2" fill="#1a1a1a"/>
<circle cx="178.9" cy="169.5" r="1.2" fill="#1a1a1a"/>
<circle cx="173.8" cy="172.0" r="1.2" fill="#1a1a1a"/>
<circle cx="182.1" cy="174.3" r="1.2" fill="#1a1a1a"/>
<circle cx="175.5" cy="177.2" r="1.2" fill="#1a1a1a"/>
<circle cx="168.6" cy="179.5" r="1.2" fill="#1a1a1a"/>
<circle cx="175.5" cy="181.7" r="1.2" fill="#1a1a1a"/>
<circle cx="164.0" cy="184.4" r="1.2" fill="#1a1a1a"/>
<circle cx="178.3" cy="186.9" r="1.2" fill="#1a1a1a"/>
<circle cx="165.8" cy="189.2" r="1.2" fill="#1a1a1a"/>
<circle cx="168.0" cy="192.0" r="1.2" fill="#1a1a1a"/>
<circle cx="158.9" cy="194.7" r="1.2" fill="#1a1a1a"/>
<circle cx="162.3" cy="196.6" r="1.2" fill="#1a1a1a"/>
<circle cx="169.5" cy="199.5" r="1.2" fill="#1a1a1a"/>
<circle cx="169.2" cy="204.0" r="1.2" fill="#1a1a1a"/>
<circle cx="173.8" cy="207.5" r="1.2" fill="#1a1a1a"/>
<circle cx="166.3" cy="209.8" r="1.2" fill="#1a1a1a"/>
<circle cx="167.5" cy="212.0" r="1.2" fill="#1a1a1a"/>
<circle cx="161.8" cy="214.3" r="1.2" fill="#1a1a1a"/>
<circle cx="156.0" cy="216.9" r="1.2" fill="#1a1a1a"/>
<circle cx="146.9" cy="218.9" r="1.2" fill="#1a1a1a"/>
<circle cx="152.0" cy="224.6" r="1.2" fill="#1a1a1a"/>
<circle cx="168.6" cy="226.9" r="1.2" fill="#1a1a1a"/>
<circle cx="161.8" cy="229.2" r="1.2" fill="#1a1a1a"/>
<circle cx="165.2" cy="231.5" r="1.2" fill="#1a1a1a"/>
<circle cx="162.9" cy="234.9" r="1.2" fill="#1a1a1a"/>
<circle cx="168.6" cy="237.8" r="1.2" fill="#1a1a1a"/>
<circle cx="163.5" cy="241.2" r="1.2" fill="#1a1a1a"/>
<circle cx="168.6" cy="243.5" r="1.2" fill="#1a1a1a"/>
<circle cx="165.8" cy="246.9" r="1.2" fill="#1a1a1a"/>
<circle cx="166.1" cy="249.6" r="1.2" fill="#1a1a1a"/>
<circle cx="167.5" cy="251.9" r="1.2" fill="#1a1a1a"/>
<circle cx="164.6" cy="254.7" r="1.2" fill="#1a1a1a"/>
<circle cx="165.8" cy="258.7" r="1.2" fill="#1a1a1a"/>
<circle cx="166.9" cy="261.6" r="1.2" fill="#1a1a1a"/>
<circle cx="162.3" cy="267.9" r="1.2" fill="#1a1a1a"/>
<circle cx="158.9" cy="271.9" r="1.2" fill="#1a1a1a"/>
<circle cx="153.2" cy="275.9" r="1.2" fill="#1a1a1a"/>
<circle cx="152.6" cy="279.3" r="1.2" fill="#1a1a1a"/>
<circle cx="150.3" cy="281.6" r="1.2" fill="#1a1a1a"/>
<circle cx="160.0" cy="283.9" r="1.2" fill="#1a1a1a"/>
<circle cx="150.3" cy="285.6" r="1.2" fill="#1a1a1a"/>
<circle cx="149.2" cy="288.5" r="1.2" fill="#1a1a1a"/>
<circle cx="146.3" cy="291.3" r="1.2" fill="#1a1a1a"/>
<circle cx="152.0" cy="294.2" r="1.2" fill="#1a1a1a"/>
<circle cx="147.5" cy="296.5" r="1.2" fill="#1a1a1a"/>
<circle cx="152.6" cy="299.3" r="1.2" fill="#1a1a1a"/>
<circle cx="155.5" cy="301.6" r="1.2" fill="#1a1a1a"/>
<circle cx="162.9" cy="303.9" r="1.2" fill="#1a1a1a"/>
<circle cx="154.9" cy="308.5" r="1.2" fill="#1a1a1a"/>
<circle cx="155.5" cy="311.3" r="1.2" fill="#1a1a1a"/>
<circle cx="161.8" cy="313.6" r="1.2" fill="#1a1a1a"/>
<circle cx="156.6" cy="316.5" r="1.2" fill="#1a1a1a"/>
<circle cx="160.6" cy="318.2" r="1.2" fill="#1a1a1a"/>
<circle cx="163.5" cy="323.7" r="1.2" fill="#1a1a1a"/>
<circle cx="157.2" cy="325.6" r="1.2" fill="#1a1a1a"/>
<circle cx="148.0" cy="330.8" r="1.2" fill="#1a1a1a"/>
<circle cx="144.6" cy="333.6" r="1.2" fill="#1a1a1a"/>
<circle cx="157.2" cy="335.9" r="1.2" fill="#1a1a1a"/>
<circle cx="146.9" cy="338.8" r="1.2" fill="#1a1a1a"/>
<circle cx="150.3" cy="341.1" r="1.2" fill="#1a1a1a"/>
<circle cx="159.5" cy="343.4" r="1.2" fill="#1a1a1a"/>
<circle cx="160.0" cy="347.9" r="1.2" fill="#1a1a1a"/>
<circle cx="161.8" cy="351.4" r="1.2" fill="#1a1a1a"/>
<circle cx="161.3" cy="355.6" r="1.2" fill="#1a1a1a"/>
<circle cx="145.2" cy="358.4" r="1.2" fill="#1a1a1a"/>
<circle cx="148.7" cy="361.2" r="1.2" fill="#1a1a1a"/>
<circle cx="143.8" cy="366.1" r="1.2" fill="#1a1a1a"/>
<circle cx="152.9" cy="371.0" r="1.2" fill="#1a1a1a"/>
<circle cx="143.8" cy="375.9" r="1.2" fill="#1a1a1a"/>
<circle cx="150.1" cy="378.7" r="1.2" fill="#1a1a1a"/>
<circle cx="162.7" cy="380.7" r="1.2" fill="#1a1a1a"/>
<circle cx="160.6" cy="384.9" r="1.2" fill="#1a1a1a"/>
<circle cx="162.0" cy="387.7" r="1.2" fill="#1a1a1a"/>
<circle cx="153.6" cy="391.2" r="1.2" fill="#1a1a1a"/>
<circle cx="143.8" cy="395.4" r="1.2" fill="#1a1a1a"/>
<circle cx="145.2" cy="398.2" r="1.2" fill="#1a1a1a"/>
<circle cx="141.0" cy="400.3" r="1.2" fill="#1a1a1a"/>
<circle cx="145.9" cy="403.1" r="1.2" fill="#1a1a1a"/>
<circle cx="152.9" cy="405.9" r="1.2" fill="#1a1a1a"/>
<circle cx="152.9" cy="411.5" r="1.2" fill="#1a1a1a"/>
<circle cx="138.9" cy="414.3" r="1.2" fill="#1a1a1a"/>
<circle cx="133.3" cy="416.4" r="1.2" fill="#1a1a1a"/>
<circle cx="152.9" cy="418.5" r="1.2" fill="#1a1a1a"/>
<polyline points="152.9,418.5 103.3,420.6 103.3,422.7 101.2,425.5 106.8,427.6 109.6,433.2 107.5,438.0 106.7,440.8 102.5,443.0 100.2,444.6 99.4,449.1 99.4,457.5 98.3,460.2 100.2,462.5 97.5,465.2 98.7,468.2 100.2,470.9 97.9,472.8 97.9,475.8 101.0,476.6 104.4,477.7 101.0,478.1 97.9,479.6 97.5,485.7 98.7,487.6 94.9,491.8 93.7,498.7" fill="none" stroke="#3a3a3a" stroke-width="0.95" stroke-linejoin="round"/>
<circle cx="152.9" cy="418.5" r="1.2" fill="#1a1a1a"/>
<circle cx="103.3" cy="420.6" r="1.2" fill="#1a1a1a"/>
<circle cx="103.3" cy="422.7" r="1.2" fill="#1a1a1a"/>
<circle cx="101.2" cy="425.5" r="1.2" fill="#1a1a1a"/>
<circle cx="106.8" cy="427.6" r="1.2" fill="#1a1a1a"/>
<circle cx="109.6" cy="433.2" r="1.2" fill="#1a1a1a"/>
<circle cx="107.5" cy="438.0" r="1.2" fill="#1a1a1a"/>
<circle cx="106.7" cy="440.8" r="1.2" fill="#1a1a1a"/>
<circle cx="102.5" cy="443.0" r="1.2" fill="#1a1a1a"/>
<circle cx="100.2" cy="444.6" r="1.2" fill="#1a1a1a"/>
<circle cx="99.4" cy="449.1" r="1.2" fill="#1a1a1a"/>
<circle cx="99.4" cy="457.5" r="1.2" fill="#1a1a1a"/>
<circle cx="98.3" cy="460.2" r="1.2" fill="#1a1a1a"/>
<circle cx="100.2" cy="462.5" r="1.2" fill="#1a1a1a"/>
<circle cx="97.5" cy="465.2" r="1.2" fill="#1a1a1a"/>
<circle cx="98.7" cy="468.2" r="1.2" fill="#1a1a1a"/>
<circle cx="100.2" cy="470.9" r="1.2" fill="#1a1a1a"/>
<circle cx="97.9" cy="472.8" r="1.2" fill="#1a1a1a"/>
<circle cx="97.9" cy="475.8" r="1.2" fill="#1a1a1a"/>
<circle cx="101.0" cy="476.6" r="1.2" fill="#1a1a1a"/>
<circle cx="104.4" cy="477.7" r="1.2" fill="#1a1a1a"/>
<circle cx="101.0" cy="478.1" r="1.2" fill="#1a1a1a"/>
<circle cx="97.9" cy="479.6" r="1.2" fill="#1a1a1a"/>
<circle cx="97.5" cy="485.7" r="1.2" fill="#1a1a1a"/>
<circle cx="98.7" cy="487.6" r="1.2" fill="#1a1a1a"/>
<circle cx="94.9" cy="491.8" r="1.2" fill="#1a1a1a"/>
<circle cx="93.7" cy="498.7" r="1.2" fill="#1a1a1a"/>
<polyline points="315.8,39.6 324.3,41.6 295.2,43.9 303.2,45.9 305.8,48.7 300.3,52.2 299.7,56.7 300.9,59.6 298.6,61.3 300.9,64.7 302.6,67.6 307.2,69.3 309.5,71.6 304.9,74.5 299.2,76.2 299.7,78.5 320.3,81.0 307.8,83.0 309.5,87.6 311.8,92.2 306.0,97.3 300.3,99.6 309.5,103.6 298.0,106.1 295.2,108.8 287.2,110.7 296.9,113.3 288.9,117.3 295.7,122.5 290.0,124.8 300.3,126.5 304.9,129.4 312.9,131.6 308.3,133.4 320.3,136.2 307.2,138.5 306.0,140.8 315.8,143.1 306.6,145.1 319.8,149.7 310.6,154.3 324.9,157.2 327.8,158.9 307.8,161.2 308.3,164.0 324.9,166.3 315.8,168.6 316.3,171.5 309.5,173.2 323.8,175.5 318.0,177.2 306.6,180.0 318.6,182.9 320.9,186.9 314.6,190.3 311.8,196.0 315.8,198.3 310.0,200.6 319.8,202.9 314.6,205.8 319.2,207.5 321.5,214.3 323.2,218.9 327.2,221.2 328.9,228.6 321.5,231.5 330.6,237.8 319.8,239.5 310.0,241.8 322.0,246.9 293.5,248.9 297.0,251.7 305.4,255.9 293.5,258.0 286.5,260.7 281.6,262.8 288.6,264.9 280.9,267.0 295.6,269.8 276.0,271.6 255.0,274.4 268.3,276.8 261.3,278.6 253.7,281.0 261.1,283.5 246.4,286.0 252.3,288.2 253.6,290.7 257.0,292.9 254.5,295.1 256.1,297.3 254.2,299.5 250.4,302.0 251.1,304.5 249.8,306.4 246.0,308.6 250.4,311.1 247.3,312.0 244.2,313.3 242.6,315.8 244.2,318.0 241.7,320.2 242.3,324.9 240.7,327.1 244.5,329.6 260.5,331.8 241.7,333.7 240.7,336.5 241.0,339.3 242.3,342.8 243.2,345.6 241.3,347.8" fill="none" stroke="#3a3a3a" stroke-width="0.95" stroke-linejoin="round"/>
<circle cx="315.8" cy="39.6" r="1.2" fill="#1a1a1a"/>
<circle cx="324.3" cy="41.6" r="1.2" fill="#1a1a1a"/>
<circle cx="295.2" cy="43.9" r="1.2" fill="#1a1a1a"/>
<circle cx="303.2" cy="45.9" r="1.2" fill="#1a1a1a"/>
<circle cx="305.8" cy="48.7" r="1.2" fill="#1a1a1a"/>
<circle cx="300.3" cy="52.2" r="1.2" fill="#1a1a1a"/>
<circle cx="299.7" cy="56.7" r="1.2" fill="#1a1a1a"/>
<circle cx="300.9" cy="59.6" r="1.2" fill="#1a1a1a"/>
<circle cx="298.6" cy="61.3" r="1.2" fill="#1a1a1a"/>
<circle cx="300.9" cy="64.7" r="1.2" fill="#1a1a1a"/>
<circle cx="302.6" cy="67.6" r="1.2" fill="#1a1a1a"/>
<circle cx="307.2" cy="69.3" r="1.2" fill="#1a1a1a"/>
<circle cx="309.5" cy="71.6" r="1.2" fill="#1a1a1a"/>
<circle cx="304.9" cy="74.5" r="1.2" fill="#1a1a1a"/>
<circle cx="299.2" cy="76.2" r="1.2" fill="#1a1a1a"/>
<circle cx="299.7" cy="78.5" r="1.2" fill="#1a1a1a"/>
<circle cx="320.3" cy="81.0" r="1.2" fill="#1a1a1a"/>
<circle cx="307.8" cy="83.0" r="1.2" fill="#1a1a1a"/>
<circle cx="309.5" cy="87.6" r="1.2" fill="#1a1a1a"/>
<circle cx="311.8" cy="92.2" r="1.2" fill="#1a1a1a"/>
<circle cx="306.0" cy="97.3" r="1.2" fill="#1a1a1a"/>
<circle cx="300.3" cy="99.6" r="1.2" fill="#1a1a1a"/>
<circle cx="309.5" cy="103.6" r="1.2" fill="#1a1a1a"/>
<circle cx="298.0" cy="106.1" r="1.2" fill="#1a1a1a"/>
<circle cx="295.2" cy="108.8" r="1.2" fill="#1a1a1a"/>
<circle cx="287.2" cy="110.7" r="1.2" fill="#1a1a1a"/>
<circle cx="296.9" cy="113.3" r="1.2" fill="#1a1a1a"/>
<circle cx="288.9" cy="117.3" r="1.2" fill="#1a1a1a"/>
<circle cx="295.7" cy="122.5" r="1.2" fill="#1a1a1a"/>
<circle cx="290.0" cy="124.8" r="1.2" fill="#1a1a1a"/>
<circle cx="300.3" cy="126.5" r="1.2" fill="#1a1a1a"/>
<circle cx="304.9" cy="129.4" r="1.2" fill="#1a1a1a"/>
<circle cx="312.9" cy="131.6" r="1.2" fill="#1a1a1a"/>
<circle cx="308.3" cy="133.4" r="1.2" fill="#1a1a1a"/>
<circle cx="320.3" cy="136.2" r="1.2" fill="#1a1a1a"/>
<circle cx="307.2" cy="138.5" r="1.2" fill="#1a1a1a"/>
<circle cx="306.0" cy="140.8" r="1.2" fill="#1a1a1a"/>
<circle cx="315.8" cy="143.1" r="1.2" fill="#1a1a1a"/>
<circle cx="306.6" cy="145.1" r="1.2" fill="#1a1a1a"/>
<circle cx="319.8" cy="149.7" r="1.2" fill="#1a1a1a"/>
<circle cx="310.6" cy="154.3" r="1.2" fill="#1a1a1a"/>
<circle cx="324.9" cy="157.2" r="1.2" fill="#1a1a1a"/>
<circle cx="327.8" cy="158.9" r="1.2" fill="#1a1a1a"/>
<circle cx="307.8" cy="161.2" r="1.2" fill="#1a1a1a"/>
<circle cx="308.3" cy="164.0" r="1.2" fill="#1a1a1a"/>
<circle cx="324.9" cy="166.3" r="1.2" fill="#1a1a1a"/>
<circle cx="315.8" cy="168.6" r="1.2" fill="#1a1a1a"/>
<circle cx="316.3" cy="171.5" r="1.2" fill="#1a1a1a"/>
<circle cx="309.5" cy="173.2" r="1.2" fill="#1a1a1a"/>
<circle cx="323.8" cy="175.5" r="1.2" fill="#1a1a1a"/>
<circle cx="318.0" cy="177.2" r="1.2" fill="#1a1a1a"/>
<circle cx="306.6" cy="180.0" r="1.2" fill="#1a1a1a"/>
<circle cx="318.6" cy="182.9" r="1.2" fill="#1a1a1a"/>
<circle cx="320.9" cy="186.9" r="1.2" fill="#1a1a1a"/>
<circle cx="314.6" cy="190.3" r="1.2" fill="#1a1a1a"/>
<circle cx="311.8" cy="196.0" r="1.2" fill="#1a1a1a"/>
<circle cx="315.8" cy="198.3" r="1.2" fill="#1a1a1a"/>
<circle cx="310.0" cy="200.6" r="1.2" fill="#1a1a1a"/>
<circle cx="319.8" cy="202.9" r="1.2" fill="#1a1a1a"/>
<circle cx="314.6" cy="205.8" r="1.2" fill="#1a1a1a"/>
<circle cx="319.2" cy="207.5" r="1.2" fill="#1a1a1a"/>
<circle cx="321.5" cy="214.3" r="1.2" fill="#1a1a1a"/>
<circle cx="323.2" cy="218.9" r="1.2" fill="#1a1a1a"/>
<circle cx="327.2" cy="221.2" r="1.2" fill="#1a1a1a"/>
<circle cx="328.9" cy="228.6" r="1.2" fill="#1a1a1a"/>
<circle cx="321.5" cy="231.5" r="1.2" fill="#1a1a1a"/>
<circle cx="330.6" cy="237.8" r="1.2" fill="#1a1a1a"/>
<circle cx="319.8" cy="239.5" r="1.2" fill="#1a1a1a"/>
<circle cx="310.0" cy="241.8" r="1.2" fill="#1a1a1a"/>
<circle cx="322.0" cy="246.9" r="1.2" fill="#1a1a1a"/>
<circle cx="293.5" cy="248.9" r="1.2" fill="#1a1a1a"/>
<circle cx="297.0" cy="251.7" r="1.2" fill="#1a1a1a"/>
<circle cx="305.4" cy="255.9" r="1.2" fill="#1a1a1a"/>
<circle cx="293.5" cy="258.0" r="1.2" fill="#1a1a1a"/>
<circle cx="286.5" cy="260.7" r="1.2" fill="#1a1a1a"/>
<circle cx="281.6" cy="262.8" r="1.2" fill="#1a1a1a"/>
<circle cx="288.6" cy="264.9" r="1.2" fill="#1a1a1a"/>
<circle cx="280.9" cy="267.0" r="1.2" fill="#1a1a1a"/>
<circle cx="295.6" cy="269.8" r="1.2" fill="#1a1a1a"/>
<circle cx="276.0" cy="271.6" r="1.2" fill="#1a1a1a"/>
<circle cx="255.0" cy="274.4" r="1.2" fill="#1a1a1a"/>
<circle cx="268.3" cy="276.8" r="1.2" fill="#1a1a1a"/>
<circle cx="261.3" cy="278.6" r="1.2" fill="#1a1a1a"/>
<circle cx="253.7" cy="281.0" r="1.2" fill="#1a1a1a"/>
<circle cx="261.1" cy="283.5" r="1.2" fill="#1a1a1a"/>
<circle cx="246.4" cy="286.0" r="1.2" fill="#1a1a1a"/>
<circle cx="252.3" cy="288.2" r="1.2" fill="#1a1a1a"/>
<circle cx="253.6" cy="290.7" r="1.2" fill="#1a1a1a"/>
<circle cx="257.0" cy="292.9" r="1.2" fill="#1a1a1a"/>
<circle cx="254.5" cy="295.1" r="1.2" fill="#1a1a1a"/>
<circle cx="256.1" cy="297.3" r="1.2" fill="#1a1a1a"/>
<circle cx="254.2" cy="299.5" r="1.2" fill="#1a1a1a"/>
<circle cx="250.4" cy="302.0" r="1.2" fill="#1a1a1a"/>
<circle cx="251.1" cy="304.5" r="1.2" fill="#1a1a1a"/>
<circle cx="249.8" cy="306.4" r="1.2" fill="#1a1a1a"/>
<circle cx="246.0" cy="308.6" r="1.2" fill="#1a1a1a"/>
<circle cx="250.4" cy="311.1" r="1.2" fill="#1a1a1a"/>
<circle cx="247.3" cy="312.0" r="1.2" fill="#1a1a1a"/>
<circle cx="244.2" cy="313.3" r="1.2" fill="#1a1a1a"/>
<circle cx="242.6" cy="315.8" r="1.2" fill="#1a1a1a"/>
<circle cx="244.2" cy="318.0" r="1.2" fill="#1a1a1a"/>
<circle cx="241.7" cy="320.2" r="1.2" fill="#1a1a1a"/>
<circle cx="242.3" cy="324.9" r="1.2" fill="#1a1a1a"/>
<circle cx="240.7" cy="327.1" r="1.2" fill="#1a1a1a"/>
<circle cx="244.5" cy="329.6" r="1.2" fill="#1a1a1a"/>
<circle cx="260.5" cy="331.8" r="1.2" fill="#1a1a1a"/>
<circle cx="241.7" cy="333.7" r="1.2" fill="#1a1a1a"/>
<circle cx="240.7" cy="336.5" r="1.2" fill="#1a1a1a"/>
<circle cx="241.0" cy="339.3" r="1.2" fill="#1a1a1a"/>
<circle cx="242.3" cy="342.8" r="1.2" fill="#1a1a1a"/>
<circle cx="243.2" cy="345.6" r="1.2" fill="#1a1a1a"/>
<circle cx="241.3" cy="347.8" r="1.2" fill="#1a1a1a"/>
<polyline points="441.7,39.6 443.5,45.9 452.6,47.6 456.0,49.9 453.8,52.7 441.7,55.4 458.9,57.6 449.2,59.6 456.0,62.2 452.0,64.7 446.3,66.8 448.0,69.3 449.7,74.5 461.2,76.4 454.9,79.0 458.3,83.6 456.0,85.3 446.3,88.2 460.0,90.5 460.0,95.0 453.2,97.9 461.2,102.7 458.3,105.3 445.7,107.3 454.3,109.9 453.2,116.2 453.8,119.6 445.7,121.3 449.2,125.3 454.9,128.8 451.5,129.9 445.7,135.6 447.5,138.5 442.9,141.9 446.9,143.4 445.2,146.3 454.3,149.7 444.6,152.0 449.2,154.3 444.0,156.6 448.0,158.9 444.6,161.2 443.5,164.0 458.9,166.3 450.3,168.6 453.2,176.0 439.5,180.6 456.6,183.2 448.0,185.7 446.9,190.3 442.3,192.6 442.9,196.6 448.0,199.5 441.2,206.3 445.2,209.8 453.8,211.5 444.0,213.8 444.0,218.9 456.6,221.2 445.7,225.8 456.6,228.1 445.2,230.3 438.9,232.1 439.5,235.5 443.5,237.2 443.5,240.6 450.3,245.2 453.2,249.0 456.0,251.9 453.2,253.6 448.6,256.4 440.0,258.7 441.2,261.0 438.9,264.4 440.0,269.0 441.8,275.3 440.0,278.2 422.3,280.2 436.6,282.2 429.2,287.3 435.5,289.0 436.0,295.3 441.8,298.2 445.2,298.8 441.8,301.6 449.2,303.9 436.0,307.9 445.2,311.1 409.7,313.6 399.4,315.3 405.7,317.6 401.2,320.5 409.2,326.8 398.9,329.9 410.9,332.5 398.3,336.5 412.6,339.9 408.0,344.5 398.3,346.3 398.9,349.1 416.0,351.4 392.6,353.5 415.5,356.0 400.0,358.3 406.9,360.6 406.3,363.4 394.9,365.2 394.3,368.0 404.0,370.3 393.7,374.3 392.0,378.3 391.4,384.0 388.6,386.7 392.0,389.2" fill="none" stroke="#3a3a3a" stroke-width="0.95" stroke-linejoin="round"/>
<circle cx="441.7" cy="39.6" r="1.2" fill="#1a1a1a"/>
<circle cx="443.5" cy="45.9" r="1.2" fill="#1a1a1a"/>
<circle cx="452.6" cy="47.6" r="1.2" fill="#1a1a1a"/>
<circle cx="456.0" cy="49.9" r="1.2" fill="#1a1a1a"/>
<circle cx="453.8" cy="52.7" r="1.2" fill="#1a1a1a"/>
<circle cx="441.7" cy="55.4" r="1.2" fill="#1a1a1a"/>
<circle cx="458.9" cy="57.6" r="1.2" fill="#1a1a1a"/>
<circle cx="449.2" cy="59.6" r="1.2" fill="#1a1a1a"/>
<circle cx="456.0" cy="62.2" r="1.2" fill="#1a1a1a"/>
<circle cx="452.0" cy="64.7" r="1.2" fill="#1a1a1a"/>
<circle cx="446.3" cy="66.8" r="1.2" fill="#1a1a1a"/>
<circle cx="448.0" cy="69.3" r="1.2" fill="#1a1a1a"/>
<circle cx="449.7" cy="74.5" r="1.2" fill="#1a1a1a"/>
<circle cx="461.2" cy="76.4" r="1.2" fill="#1a1a1a"/>
<circle cx="454.9" cy="79.0" r="1.2" fill="#1a1a1a"/>
<circle cx="458.3" cy="83.6" r="1.2" fill="#1a1a1a"/>
<circle cx="456.0" cy="85.3" r="1.2" fill="#1a1a1a"/>
<circle cx="446.3" cy="88.2" r="1.2" fill="#1a1a1a"/>
<circle cx="460.0" cy="90.5" r="1.2" fill="#1a1a1a"/>
<circle cx="460.0" cy="95.0" r="1.2" fill="#1a1a1a"/>
<circle cx="453.2" cy="97.9" r="1.2" fill="#1a1a1a"/>
<circle cx="461.2" cy="102.7" r="1.2" fill="#1a1a1a"/>
<circle cx="458.3" cy="105.3" r="1.2" fill="#1a1a1a"/>
<circle cx="445.7" cy="107.3" r="1.2" fill="#1a1a1a"/>
<circle cx="454.3" cy="109.9" r="1.2" fill="#1a1a1a"/>
<circle cx="453.2" cy="116.2" r="1.2" fill="#1a1a1a"/>
<circle cx="453.8" cy="119.6" r="1.2" fill="#1a1a1a"/>
<circle cx="445.7" cy="121.3" r="1.2" fill="#1a1a1a"/>
<circle cx="449.2" cy="125.3" r="1.2" fill="#1a1a1a"/>
<circle cx="454.9" cy="128.8" r="1.2" fill="#1a1a1a"/>
<circle cx="451.5" cy="129.9" r="1.2" fill="#1a1a1a"/>
<circle cx="445.7" cy="135.6" r="1.2" fill="#1a1a1a"/>
<circle cx="447.5" cy="138.5" r="1.2" fill="#1a1a1a"/>
<circle cx="442.9" cy="141.9" r="1.2" fill="#1a1a1a"/>
<circle cx="446.9" cy="143.4" r="1.2" fill="#1a1a1a"/>
<circle cx="445.2" cy="146.3" r="1.2" fill="#1a1a1a"/>
<circle cx="454.3" cy="149.7" r="1.2" fill="#1a1a1a"/>
<circle cx="444.6" cy="152.0" r="1.2" fill="#1a1a1a"/>
<circle cx="449.2" cy="154.3" r="1.2" fill="#1a1a1a"/>
<circle cx="444.0" cy="156.6" r="1.2" fill="#1a1a1a"/>
<circle cx="448.0" cy="158.9" r="1.2" fill="#1a1a1a"/>
<circle cx="444.6" cy="161.2" r="1.2" fill="#1a1a1a"/>
<circle cx="443.5" cy="164.0" r="1.2" fill="#1a1a1a"/>
<circle cx="458.9" cy="166.3" r="1.2" fill="#1a1a1a"/>
<circle cx="450.3" cy="168.6" r="1.2" fill="#1a1a1a"/>
<circle cx="453.2" cy="176.0" r="1.2" fill="#1a1a1a"/>
<circle cx="439.5" cy="180.6" r="1.2" fill="#1a1a1a"/>
<circle cx="456.6" cy="183.2" r="1.2" fill="#1a1a1a"/>
<circle cx="448.0" cy="185.7" r="1.2" fill="#1a1a1a"/>
<circle cx="446.9" cy="190.3" r="1.2" fill="#1a1a1a"/>
<circle cx="442.3" cy="192.6" r="1.2" fill="#1a1a1a"/>
<circle cx="442.9" cy="196.6" r="1.2" fill="#1a1a1a"/>
<circle cx="448.0" cy="199.5" r="1.2" fill="#1a1a1a"/>
<circle cx="441.2" cy="206.3" r="1.2" fill="#1a1a1a"/>
<circle cx="445.2" cy="209.8" r="1.2" fill="#1a1a1a"/>
<circle cx="453.8" cy="211.5" r="1.2" fill="#1a1a1a"/>
<circle cx="444.0" cy="213.8" r="1.2" fill="#1a1a1a"/>
<circle cx="444.0" cy="218.9" r="1.2" fill="#1a1a1a"/>
<circle cx="456.6" cy="221.2" r="1.2" fill="#1a1a1a"/>
<circle cx="445.7" cy="225.8" r="1.2" fill="#1a1a1a"/>
<circle cx="456.6" cy="228.1" r="1.2" fill="#1a1a1a"/>
<circle cx="445.2" cy="230.3" r="1.2" fill="#1a1a1a"/>
<circle cx="438.9" cy="232.1" r="1.2" fill="#1a1a1a"/>
<circle cx="439.5" cy="235.5" r="1.2" fill="#1a1a1a"/>
<circle cx="443.5" cy="237.2" r="1.2" fill="#1a1a1a"/>
<circle cx="443.5" cy="240.6" r="1.2" fill="#1a1a1a"/>
<circle cx="450.3" cy="245.2" r="1.2" fill="#1a1a1a"/>
<circle cx="453.2" cy="249.0" r="1.2" fill="#1a1a1a"/>
<circle cx="456.0" cy="251.9" r="1.2" fill="#1a1a1a"/>
<circle cx="453.2" cy="253.6" r="1.2" fill="#1a1a1a"/>
<circle cx="448.6" cy="256.4" r="1.2" fill="#1a1a1a"/>
<circle cx="440.0" cy="258.7" r="1.2" fill="#1a1a1a"/>
<circle cx="441.2" cy="261.0" r="1.2" fill="#1a1a1a"/>
<circle cx="438.9" cy="264.4" r="1.2" fill="#1a1a1a"/>
<circle cx="440.0" cy="269.0" r="1.2" fill="#1a1a1a"/>
<circle cx="441.8" cy="275.3" r="1.2" fill="#1a1a1a"/>
<circle cx="440.0" cy="278.2" r="1.2" fill="#1a1a1a"/>
<circle cx="422.3" cy="280.2" r="1.2" fill="#1a1a1a"/>
<circle cx="436.6" cy="282.2" r="1.2" fill="#1a1a1a"/>
<circle cx="429.2" cy="287.3" r="1.2" fill="#1a1a1a"/>
<circle cx="435.5" cy="289.0" r="1.2" fill="#1a1a1a"/>
<circle cx="436.0" cy="295.3" r="1.2" fill="#1a1a1a"/>
<circle cx="441.8" cy="298.2" r="1.2" fill="#1a1a1a"/>
<circle cx="445.2" cy="298.8" r="1.2" fill="#1a1a1a"/>
<circle cx="441.8" cy="301.6" r="1.2" fill="#1a1a1a"/>
<circle cx="449.2" cy="303.9" r="1.2" fill="#1a1a1a"/>
<circle cx="436.0" cy="307.9" r="1.2" fill="#1a1a1a"/>
<circle cx="445.2" cy="311.1" r="1.2" fill="#1a1a1a"/>
<circle cx="409.7" cy="313.6" r="1.2" fill="#1a1a1a"/>
<circle cx="399.4" cy="315.3" r="1.2" fill="#1a1a1a"/>
<circle cx="405.7" cy="317.6" r="1.2" fill="#1a1a1a"/>
<circle cx="401.2" cy="320.5" r="1.2" fill="#1a1a1a"/>
<circle cx="409.2" cy="326.8" r="1.2" fill="#1a1a1a"/>
<circle cx="398.9" cy="329.9" r="1.2" fill="#1a1a1a"/>
<circle cx="410.9" cy="332.5" r="1.2" fill="#1a1a1a"/>
<circle cx="398.3" cy="336.5" r="1.2" fill="#1a1a1a"/>
<circle cx="412.6" cy="339.9" r="1.2" fill="#1a1a1a"/>
<circle cx="408.0" cy="344.5" r="1.2" fill="#1a1a1a"/>
<circle cx="398.3" cy="346.3" r="1.2" fill="#1a1a1a"/>
<circle cx="398.9" cy="349.1" r="1.2" fill="#1a1a1a"/>
<circle cx="416.0" cy="351.4" r="1.2" fill="#1a1a1a"/>
<circle cx="392.6" cy="353.5" r="1.2" fill="#1a1a1a"/>
<circle cx="415.5" cy="356.0" r="1.2" fill="#1a1a1a"/>
<circle cx="400.0" cy="358.3" r="1.2" fill="#1a1a1a"/>
<circle cx="406.9" cy="360.6" r="1.2" fill="#1a1a1a"/>
<circle cx="406.3" cy="363.4" r="1.2" fill="#1a1a1a"/>
<circle cx="394.9" cy="365.2" r="1.2" fill="#1a1a1a"/>
<circle cx="394.3" cy="368.0" r="1.2" fill="#1a1a1a"/>
<circle cx="404.0" cy="370.3" r="1.2" fill="#1a1a1a"/>
<circle cx="393.7" cy="374.3" r="1.2" fill="#1a1a1a"/>
<circle cx="392.0" cy="378.3" r="1.2" fill="#1a1a1a"/>
<circle cx="391.4" cy="384.0" r="1.2" fill="#1a1a1a"/>
<circle cx="388.6" cy="386.7" r="1.2" fill="#1a1a1a"/>
<circle cx="392.0" cy="389.2" r="1.2" fill="#1a1a1a"/>
<polyline points="601.2,39.0 596.6,40.1 600.0,43.0 592.0,45.3 597.2,47.0 596.6,49.9 601.2,52.7 599.5,55.0 608.0,57.9 602.9,60.2 610.9,62.4 606.3,65.3 599.5,69.3 596.0,72.2 599.5,75.0 600.0,80.2 608.0,81.9 604.6,87.6 596.6,89.3 593.8,96.8 596.0,99.6 604.0,101.3 605.2,104.8 602.9,109.3 606.3,113.9 600.6,116.8 605.8,121.9 600.6,124.2 611.5,126.5 611.5,129.4 604.0,131.1 604.0,135.6 607.5,139.1 600.6,141.4 603.5,143.4 611.5,145.1 612.6,150.9 608.6,156.0 613.2,158.3 617.8,161.2 614.3,166.3 610.3,168.6 598.3,170.9 608.6,173.7 609.8,176.6 604.6,180.6 608.6,183.5 619.5,185.7 594.9,189.2 560.6,192.6 565.7,195.5 558.3,197.2 552.6,199.5 554.3,205.2 549.1,207.5 558.3,210.3 562.9,212.0 560.6,218.9 561.2,222.9 568.0,224.9 564.0,227.5 561.2,233.8 560.9,237.4 559.2,240.3 559.7,244.9 558.0,249.4 559.2,250.4 570.0,251.7" fill="none" stroke="#3a3a3a" stroke-width="0.95" stroke-linejoin="round"/>
<circle cx="601.2" cy="39.0" r="1.2" fill="#1a1a1a"/>
<circle cx="596.6" cy="40.1" r="1.2" fill="#1a1a1a"/>
<circle cx="600.0" cy="43.0" r="1.2" fill="#1a1a1a"/>
<circle cx="592.0" cy="45.3" r="1.2" fill="#1a1a1a"/>
<circle cx="597.2" cy="47.0" r="1.2" fill="#1a1a1a"/>
<circle cx="596.6" cy="49.9" r="1.2" fill="#1a1a1a"/>
<circle cx="601.2" cy="52.7" r="1.2" fill="#1a1a1a"/>
<circle cx="599.5" cy="55.0" r="1.2" fill="#1a1a1a"/>
<circle cx="608.0" cy="57.9" r="1.2" fill="#1a1a1a"/>
<circle cx="602.9" cy="60.2" r="1.2" fill="#1a1a1a"/>
<circle cx="610.9" cy="62.4" r="1.2" fill="#1a1a1a"/>
<circle cx="606.3" cy="65.3" r="1.2" fill="#1a1a1a"/>
<circle cx="599.5" cy="69.3" r="1.2" fill="#1a1a1a"/>
<circle cx="596.0" cy="72.2" r="1.2" fill="#1a1a1a"/>
<circle cx="599.5" cy="75.0" r="1.2" fill="#1a1a1a"/>
<circle cx="600.0" cy="80.2" r="1.2" fill="#1a1a1a"/>
<circle cx="608.0" cy="81.9" r="1.2" fill="#1a1a1a"/>
<circle cx="604.6" cy="87.6" r="1.2" fill="#1a1a1a"/>
<circle cx="596.6" cy="89.3" r="1.2" fill="#1a1a1a"/>
<circle cx="593.8" cy="96.8" r="1.2" fill="#1a1a1a"/>
<circle cx="596.0" cy="99.6" r="1.2" fill="#1a1a1a"/>
<circle cx="604.0" cy="101.3" r="1.2" fill="#1a1a1a"/>
<circle cx="605.2" cy="104.8" r="1.2" fill="#1a1a1a"/>
<circle cx="602.9" cy="109.3" r="1.2" fill="#1a1a1a"/>
<circle cx="606.3" cy="113.9" r="1.2" fill="#1a1a1a"/>
<circle cx="600.6" cy="116.8" r="1.2" fill="#1a1a1a"/>
<circle cx="605.8" cy="121.9" r="1.2" fill="#1a1a1a"/>
<circle cx="600.6" cy="124.2" r="1.2" fill="#1a1a1a"/>
<circle cx="611.5" cy="126.5" r="1.2" fill="#1a1a1a"/>
<circle cx="611.5" cy="129.4" r="1.2" fill="#1a1a1a"/>
<circle cx="604.0" cy="131.1" r="1.2" fill="#1a1a1a"/>
<circle cx="604.0" cy="135.6" r="1.2" fill="#1a1a1a"/>
<circle cx="607.5" cy="139.1" r="1.2" fill="#1a1a1a"/>
<circle cx="600.6" cy="141.4" r="1.2" fill="#1a1a1a"/>
<circle cx="603.5" cy="143.4" r="1.2" fill="#1a1a1a"/>
<circle cx="611.5" cy="145.1" r="1.2" fill="#1a1a1a"/>
<circle cx="612.6" cy="150.9" r="1.2" fill="#1a1a1a"/>
<circle cx="608.6" cy="156.0" r="1.2" fill="#1a1a1a"/>
<circle cx="613.2" cy="158.3" r="1.2" fill="#1a1a1a"/>
<circle cx="617.8" cy="161.2" r="1.2" fill="#1a1a1a"/>
<circle cx="614.3" cy="166.3" r="1.2" fill="#1a1a1a"/>
<circle cx="610.3" cy="168.6" r="1.2" fill="#1a1a1a"/>
<circle cx="598.3" cy="170.9" r="1.2" fill="#1a1a1a"/>
<circle cx="608.6" cy="173.7" r="1.2" fill="#1a1a1a"/>
<circle cx="609.8" cy="176.6" r="1.2" fill="#1a1a1a"/>
<circle cx="604.6" cy="180.6" r="1.2" fill="#1a1a1a"/>
<circle cx="608.6" cy="183.5" r="1.2" fill="#1a1a1a"/>
<circle cx="619.5" cy="185.7" r="1.2" fill="#1a1a1a"/>
<circle cx="594.9" cy="189.2" r="1.2" fill="#1a1a1a"/>
<circle cx="560.6" cy="192.6" r="1.2" fill="#1a1a1a"/>
<circle cx="565.7" cy="195.5" r="1.2" fill="#1a1a1a"/>
<circle cx="558.3" cy="197.2" r="1.2" fill="#1a1a1a"/>
<circle cx="552.6" cy="199.5" r="1.2" fill="#1a1a1a"/>
<circle cx="554.3" cy="205.2" r="1.2" fill="#1a1a1a"/>
<circle cx="549.1" cy="207.5" r="1.2" fill="#1a1a1a"/>
<circle cx="558.3" cy="210.3" r="1.2" fill="#1a1a1a"/>
<circle cx="562.9" cy="212.0" r="1.2" fill="#1a1a1a"/>
<circle cx="560.6" cy="218.9" r="1.2" fill="#1a1a1a"/>
<circle cx="561.2" cy="222.9" r="1.2" fill="#1a1a1a"/>
<circle cx="568.0" cy="224.9" r="1.2" fill="#1a1a1a"/>
<circle cx="564.0" cy="227.5" r="1.2" fill="#1a1a1a"/>
<circle cx="561.2" cy="233.8" r="1.2" fill="#1a1a1a"/>
<circle cx="560.9" cy="237.4" r="1.2" fill="#1a1a1a"/>
<circle cx="559.2" cy="240.3" r="1.2" fill="#1a1a1a"/>
<circle cx="559.7" cy="244.9" r="1.2" fill="#1a1a1a"/>
<circle cx="558.0" cy="249.4" r="1.2" fill="#1a1a1a"/>
<circle cx="559.2" cy="250.4" r="1.2" fill="#1a1a1a"/>
<circle cx="570.0" cy="251.7" r="1.2" fill="#1a1a1a"/>
<polyline points="744.0,40.1 746.3,44.1 748.0,48.2 745.2,50.4 746.3,53.3 740.0,55.0 745.2,57.3 741.8,59.6 741.2,62.4 744.0,64.2 740.0,67.0 745.2,70.5 748.0,73.9 744.6,76.7 745.8,79.0 752.6,81.3 740.6,83.6 751.5,85.9 745.8,87.6 743.5,91.0 745.8,94.5 744.6,97.3 748.6,102.5 744.6,104.2 748.6,108.2 744.0,112.8 737.8,116.2 743.5,117.9 742.3,120.2 745.2,123.6 737.8,127.1 729.7,129.9 740.6,132.8 733.8,135.1 738.9,139.6 736.0,141.9 737.5,142.9 736.3,146.3 747.8,148.9 735.8,153.7 742.0,156.0 734.0,157.2 724.9,159.4 718.0,162.3 712.3,165.4 697.4,170.0 703.2,172.6 700.9,174.9 703.2,179.5 699.7,184.6 698.6,190.3 694.6,196.0 695.2,200.6 693.4,205.2 690.6,209.8 687.7,216.6 690.0,221.2 682.6,224.1 688.3,225.8 694.0,230.9 688.9,234.4 692.3,237.8 686.0,242.9 692.5,247.1 683.4,250.2 682.9,252.7 689.5,255.2 684.4,261.3 690.5,264.2 684.9,265.2 681.9,266.2 681.3,270.5 680.8,274.1" fill="none" stroke="#3a3a3a" stroke-width="0.95" stroke-linejoin="round"/>
<circle cx="744.0" cy="40.1" r="1.2" fill="#1a1a1a"/>
<circle cx="746.3" cy="44.1" r="1.2" fill="#1a1a1a"/>
<circle cx="748.0" cy="48.2" r="1.2" fill="#1a1a1a"/>
<circle cx="745.2" cy="50.4" r="1.2" fill="#1a1a1a"/>
<circle cx="746.3" cy="53.3" r="1.2" fill="#1a1a1a"/>
<circle cx="740.0" cy="55.0" r="1.2" fill="#1a1a1a"/>
<circle cx="745.2" cy="57.3" r="1.2" fill="#1a1a1a"/>
<circle cx="741.8" cy="59.6" r="1.2" fill="#1a1a1a"/>
<circle cx="741.2" cy="62.4" r="1.2" fill="#1a1a1a"/>
<circle cx="744.0" cy="64.2" r="1.2" fill="#1a1a1a"/>
<circle cx="740.0" cy="67.0" r="1.2" fill="#1a1a1a"/>
<circle cx="745.2" cy="70.5" r="1.2" fill="#1a1a1a"/>
<circle cx="748.0" cy="73.9" r="1.2" fill="#1a1a1a"/>
<circle cx="744.6" cy="76.7" r="1.2" fill="#1a1a1a"/>
<circle cx="745.8" cy="79.0" r="1.2" fill="#1a1a1a"/>
<circle cx="752.6" cy="81.3" r="1.2" fill="#1a1a1a"/>
<circle cx="740.6" cy="83.6" r="1.2" fill="#1a1a1a"/>
<circle cx="751.5" cy="85.9" r="1.2" fill="#1a1a1a"/>
<circle cx="745.8" cy="87.6" r="1.2" fill="#1a1a1a"/>
<circle cx="743.5" cy="91.0" r="1.2" fill="#1a1a1a"/>
<circle cx="745.8" cy="94.5" r="1.2" fill="#1a1a1a"/>
<circle cx="744.6" cy="97.3" r="1.2" fill="#1a1a1a"/>
<circle cx="748.6" cy="102.5" r="1.2" fill="#1a1a1a"/>
<circle cx="744.6" cy="104.2" r="1.2" fill="#1a1a1a"/>
<circle cx="748.6" cy="108.2" r="1.2" fill="#1a1a1a"/>
<circle cx="744.0" cy="112.8" r="1.2" fill="#1a1a1a"/>
<circle cx="737.8" cy="116.2" r="1.2" fill="#1a1a1a"/>
<circle cx="743.5" cy="117.9" r="1.2" fill="#1a1a1a"/>
<circle cx="742.3" cy="120.2" r="1.2" fill="#1a1a1a"/>
<circle cx="745.2" cy="123.6" r="1.2" fill="#1a1a1a"/>
<circle cx="737.8" cy="127.1" r="1.2" fill="#1a1a1a"/>
<circle cx="729.7" cy="129.9" r="1.2" fill="#1a1a1a"/>
<circle cx="740.6" cy="132.8" r="1.2" fill="#1a1a1a"/>
<circle cx="733.8" cy="135.1" r="1.2" fill="#1a1a1a"/>
<circle cx="738.9" cy="139.6" r="1.2" fill="#1a1a1a"/>
<circle cx="736.0" cy="141.9" r="1.2" fill="#1a1a1a"/>
<circle cx="737.5" cy="142.9" r="1.2" fill="#1a1a1a"/>
<circle cx="736.3" cy="146.3" r="1.2" fill="#1a1a1a"/>
<circle cx="747.8" cy="148.9" r="1.2" fill="#1a1a1a"/>
<circle cx="735.8" cy="153.7" r="1.2" fill="#1a1a1a"/>
<circle cx="742.0" cy="156.0" r="1.2" fill="#1a1a1a"/>
<circle cx="734.0" cy="157.2" r="1.2" fill="#1a1a1a"/>
<circle cx="724.9" cy="159.4" r="1.2" fill="#1a1a1a"/>
<circle cx="718.0" cy="162.3" r="1.2" fill="#1a1a1a"/>
<circle cx="712.3" cy="165.4" r="1.2" fill="#1a1a1a"/>
<circle cx="697.4" cy="170.0" r="1.2" fill="#1a1a1a"/>
<circle cx="703.2" cy="172.6" r="1.2" fill="#1a1a1a"/>
<circle cx="700.9" cy="174.9" r="1.2" fill="#1a1a1a"/>
<circle cx="703.2" cy="179.5" r="1.2" fill="#1a1a1a"/>
<circle cx="699.7" cy="184.6" r="1.2" fill="#1a1a1a"/>
<circle cx="698.6" cy="190.3" r="1.2" fill="#1a1a1a"/>
<circle cx="694.6" cy="196.0" r="1.2" fill="#1a1a1a"/>
<circle cx="695.2" cy="200.6" r="1.2" fill="#1a1a1a"/>
<circle cx="693.4" cy="205.2" r="1.2" fill="#1a1a1a"/>
<circle cx="690.6" cy="209.8" r="1.2" fill="#1a1a1a"/>
<circle cx="687.7" cy="216.6" r="1.2" fill="#1a1a1a"/>
<circle cx="690.0" cy="221.2" r="1.2" fill="#1a1a1a"/>
<circle cx="682.6" cy="224.1" r="1.2" fill="#1a1a1a"/>
<circle cx="688.3" cy="225.8" r="1.2" fill="#1a1a1a"/>
<circle cx="694.0" cy="230.9" r="1.2" fill="#1a1a1a"/>
<circle cx="688.9" cy="234.4" r="1.2" fill="#1a1a1a"/>
<circle cx="692.3" cy="237.8" r="1.2" fill="#1a1a1a"/>
<circle cx="686.0" cy="242.9" r="1.2" fill="#1a1a1a"/>
<circle cx="692.5" cy="247.1" r="1.2" fill="#1a1a1a"/>
<circle cx="683.4" cy="250.2" r="1.2" fill="#1a1a1a"/>
<circle cx="682.9" cy="252.7" r="1.2" fill="#1a1a1a"/>
<circle cx="689.5" cy="255.2" r="1.2" fill="#1a1a1a"/>
<circle cx="684.4" cy="261.3" r="1.2" fill="#1a1a1a"/>
<circle cx="690.5" cy="264.2" r="1.2" fill="#1a1a1a"/>
<circle cx="684.9" cy="265.2" r="1.2" fill="#1a1a1a"/>
<circle cx="681.9" cy="266.2" r="1.2" fill="#1a1a1a"/>
<circle cx="681.3" cy="270.5" r="1.2" fill="#1a1a1a"/>
<circle cx="680.8" cy="274.1" r="1.2" fill="#1a1a1a"/>
<rect x="150.2" y="105.4" width="4.7" height="2.3" fill="#111"/>
<text transform="translate(125.93,109.90) scale(1.0,0.92)" text-anchor="start" font-size="11.9" fill="#333">540</text>
<rect x="153.2" y="174.8" width="4.2" height="2.3" fill="#111"/>
<text transform="translate(128.23,179.20) scale(1.0,0.92)" text-anchor="start" font-size="11.9" fill="#333">980</text>
<rect x="148.6" y="234.8" width="5.2" height="2.3" fill="#111"/>
<text transform="translate(117.61,240.00) scale(1.0,0.92)" text-anchor="start" font-size="11.9" fill="#333">1310</text>
<rect x="143.2" y="283.4" width="4.4" height="2.3" fill="#111"/>
<text transform="translate(112.21,287.80) scale(1.0,0.92)" text-anchor="start" font-size="11.9" fill="#333">1580</text>
<path d="M155.4,418.7 L159.0,416.2 L159.0,417.2 L164.0,417.2 L164.0,420.2 L159.0,420.2 L159.0,421.2 Z" fill="#111"/>
<text transform="translate(165.15,423.30) scale(1.0,0.92)" text-anchor="start" font-size="11.9" fill="#333">3860</text>
<rect x="291.2" y="137.4" width="5.8" height="2.3" fill="#111"/>
<text transform="translate(258.66,142.30) scale(1.0,1.12)" text-anchor="start" font-size="12.7" fill="#333">1640</text>
<rect x="300.3" y="195.4" width="5.2" height="2.3" fill="#111"/>
<text transform="translate(266.46,199.70) scale(1.0,1.12)" text-anchor="start" font-size="12.7" fill="#333">1770</text>
<rect x="283.0" y="246.5" width="5.6" height="2.3" fill="#111"/>
<text transform="translate(250.36,251.40) scale(1.0,1.12)" text-anchor="start" font-size="12.7" fill="#333">2270</text>
<path d="M299.1,270.5 L302.7,268.0 L302.7,269.0 L307.5,269.0 L307.5,272.0 L302.7,272.0 L302.7,273.0 Z" fill="#111"/>
<text transform="translate(310.06,275.50) scale(1.0,1.12)" text-anchor="start" font-size="12.7" fill="#333">2450</text>
<rect x="250.2" y="347.2" width="5.7" height="2.3" fill="#111"/>
<text transform="translate(257.72,352.20) scale(1.0,1.12)" text-anchor="start" font-size="12.7" fill="#333">3510</text>
<rect x="435.5" y="105.3" width="5.1" height="2.3" fill="#111"/>
<text transform="translate(409.14,110.80) scale(1.0,1.1)" text-anchor="start" font-size="12.75" fill="#333">620</text>
<rect x="434.0" y="163.9" width="4.8" height="2.3" fill="#111"/>
<text transform="translate(403.85,169.90) scale(1.0,1.1)" text-anchor="start" font-size="12.75" fill="#333">1220</text>
<rect x="431.6" y="224.4" width="5.7" height="2.3" fill="#111"/>
<text transform="translate(402.35,230.70) scale(1.0,1.1)" text-anchor="start" font-size="12.75" fill="#333">2330</text>
<rect x="426.3" y="258.8" width="5.2" height="2.3" fill="#111"/>
<text transform="translate(394.05,265.80) scale(1.0,1.1)" text-anchor="start" font-size="12.75" fill="#333">2850</text>
<path d="M449.2,310.8 L452.8,308.3 L452.8,309.3 L456.9,309.3 L456.9,312.3 L452.8,312.3 L452.8,313.3 Z" fill="#111"/>
<text transform="translate(459.32,315.30) scale(1.0,1.1)" text-anchor="start" font-size="12.75" fill="#333">3590</text>
<rect x="408.9" y="370.2" width="5.0" height="2.3" fill="#111"/>
<text transform="translate(419.25,375.00) scale(1.0,1.1)" text-anchor="start" font-size="12.75" fill="#333">6090</text>
<rect x="400.6" y="386.2" width="5.9" height="2.3" fill="#111"/>
<text transform="translate(408.95,392.50) scale(1.0,1.1)" text-anchor="start" font-size="12.75" fill="#333">6510</text>
<path d="M593.8,184.3 L590.2,181.8 L590.2,182.8 L584.9,182.8 L584.9,185.8 L590.2,185.8 L590.2,186.8 Z" fill="#111"/>
<text transform="translate(556.85,188.10) scale(1.0,1.1)" text-anchor="start" font-size="12.6" fill="#333">943</text>
<rect x="572.3" y="220.5" width="5.7" height="2.3" fill="#111"/>
<text transform="translate(581.24,226.60) scale(1.0,1.1)" text-anchor="start" font-size="12.6" fill="#333">1570</text>
<rect x="575.7" y="250.8" width="5.2" height="2.3" fill="#111"/>
<text transform="translate(584.07,256.90) scale(1.0,1.1)" text-anchor="start" font-size="12.6" fill="#333">2390</text>
<rect x="729.2" y="99.8" width="5.8" height="2.3" fill="#111"/>
<text transform="translate(704.70,106.00) scale(1.0,1.1)" text-anchor="start" font-size="12.1" fill="#333">850</text>
<path d="M732.9,153.7 L729.3,151.2 L729.3,152.2 L724.3,152.2 L724.3,155.2 L729.3,155.2 L729.3,156.2 Z" fill="#111"/>
<text transform="translate(700.80,156.90) scale(1.0,1.1)" text-anchor="start" font-size="12.1" fill="#333">960</text>
<rect x="684.9" y="273.2" width="5.6" height="2.3" fill="#111"/>
<text transform="translate(695.19,278.90) scale(1.0,1.05)" text-anchor="start" font-size="12.8" fill="#333">5820</text>
<rect x="67.8" y="557.4" width="17.00" height="80.70" fill="#999" stroke="#555" stroke-width="1"/>
<rect x="67.8" y="638.1" width="17.00" height="130.40" fill="#fff" stroke="#555" stroke-width="1"/>
<line x1="68.30" y1="640.10" x2="84.30" y2="640.10" stroke="#3a3a3a" stroke-width="1.3" stroke-dasharray="4.0 2.4" stroke-dashoffset="3.2"/>
<line x1="67.8" y1="643.30" x2="84.8" y2="643.30" stroke="#333" stroke-width="1.1"/>
<line x1="68.30" y1="646.50" x2="84.30" y2="646.50" stroke="#3a3a3a" stroke-width="1.3" stroke-dasharray="4.0 2.4" stroke-dashoffset="5.2"/>
<line x1="67.8" y1="649.70" x2="84.8" y2="649.70" stroke="#333" stroke-width="1.1"/>
<line x1="68.30" y1="652.90" x2="84.30" y2="652.90" stroke="#3a3a3a" stroke-width="1.3" stroke-dasharray="4.0 2.4" stroke-dashoffset="3.2"/>
<line x1="67.8" y1="656.10" x2="84.8" y2="656.10" stroke="#333" stroke-width="1.1"/>
<line x1="68.30" y1="659.30" x2="84.30" y2="659.30" stroke="#3a3a3a" stroke-width="1.3" stroke-dasharray="4.0 2.4" stroke-dashoffset="5.2"/>
<line x1="67.8" y1="662.50" x2="84.8" y2="662.50" stroke="#333" stroke-width="1.1"/>
<line x1="68.30" y1="665.70" x2="84.30" y2="665.70" stroke="#3a3a3a" stroke-width="1.3" stroke-dasharray="4.0 2.4" stroke-dashoffset="3.2"/>
<line x1="67.8" y1="668.90" x2="84.8" y2="668.90" stroke="#333" stroke-width="1.1"/>
<line x1="68.30" y1="672.10" x2="84.30" y2="672.10" stroke="#3a3a3a" stroke-width="1.3" stroke-dasharray="4.0 2.4" stroke-dashoffset="5.2"/>
<line x1="67.8" y1="675.30" x2="84.8" y2="675.30" stroke="#333" stroke-width="1.1"/>
<line x1="68.30" y1="678.50" x2="84.30" y2="678.50" stroke="#3a3a3a" stroke-width="1.3" stroke-dasharray="4.0 2.4" stroke-dashoffset="3.2"/>
<line x1="67.8" y1="681.70" x2="84.8" y2="681.70" stroke="#333" stroke-width="1.1"/>
<line x1="68.30" y1="684.90" x2="84.30" y2="684.90" stroke="#3a3a3a" stroke-width="1.3" stroke-dasharray="4.0 2.4" stroke-dashoffset="5.2"/>
<line x1="67.8" y1="688.10" x2="84.8" y2="688.10" stroke="#333" stroke-width="1.1"/>
<line x1="68.30" y1="691.30" x2="84.30" y2="691.30" stroke="#3a3a3a" stroke-width="1.3" stroke-dasharray="4.0 2.4" stroke-dashoffset="3.2"/>
<line x1="67.8" y1="694.50" x2="84.8" y2="694.50" stroke="#333" stroke-width="1.1"/>
<line x1="68.30" y1="697.70" x2="84.30" y2="697.70" stroke="#3a3a3a" stroke-width="1.3" stroke-dasharray="4.0 2.4" stroke-dashoffset="5.2"/>
<line x1="67.8" y1="700.90" x2="84.8" y2="700.90" stroke="#333" stroke-width="1.1"/>
<line x1="68.30" y1="704.10" x2="84.30" y2="704.10" stroke="#3a3a3a" stroke-width="1.3" stroke-dasharray="4.0 2.4" stroke-dashoffset="3.2"/>
<line x1="67.8" y1="707.30" x2="84.8" y2="707.30" stroke="#333" stroke-width="1.1"/>
<line x1="68.30" y1="710.50" x2="84.30" y2="710.50" stroke="#3a3a3a" stroke-width="1.3" stroke-dasharray="4.0 2.4" stroke-dashoffset="5.2"/>
<line x1="67.8" y1="713.70" x2="84.8" y2="713.70" stroke="#333" stroke-width="1.1"/>
<line x1="68.30" y1="716.90" x2="84.30" y2="716.90" stroke="#3a3a3a" stroke-width="1.3" stroke-dasharray="4.0 2.4" stroke-dashoffset="3.2"/>
<line x1="67.8" y1="720.10" x2="84.8" y2="720.10" stroke="#333" stroke-width="1.1"/>
<line x1="68.30" y1="723.30" x2="84.30" y2="723.30" stroke="#3a3a3a" stroke-width="1.3" stroke-dasharray="4.0 2.4" stroke-dashoffset="5.2"/>
<line x1="67.8" y1="726.50" x2="84.8" y2="726.50" stroke="#333" stroke-width="1.1"/>
<line x1="68.30" y1="729.70" x2="84.30" y2="729.70" stroke="#3a3a3a" stroke-width="1.3" stroke-dasharray="4.0 2.4" stroke-dashoffset="3.2"/>
<line x1="67.8" y1="732.90" x2="84.8" y2="732.90" stroke="#333" stroke-width="1.1"/>
<line x1="68.30" y1="736.10" x2="84.30" y2="736.10" stroke="#3a3a3a" stroke-width="1.3" stroke-dasharray="4.0 2.4" stroke-dashoffset="5.2"/>
<line x1="67.8" y1="739.30" x2="84.8" y2="739.30" stroke="#333" stroke-width="1.1"/>
<line x1="68.30" y1="742.50" x2="84.30" y2="742.50" stroke="#3a3a3a" stroke-width="1.3" stroke-dasharray="4.0 2.4" stroke-dashoffset="3.2"/>
<line x1="67.8" y1="745.70" x2="84.8" y2="745.70" stroke="#333" stroke-width="1.1"/>
<line x1="68.30" y1="748.90" x2="84.30" y2="748.90" stroke="#3a3a3a" stroke-width="1.3" stroke-dasharray="4.0 2.4" stroke-dashoffset="5.2"/>
<line x1="67.8" y1="752.10" x2="84.8" y2="752.10" stroke="#333" stroke-width="1.1"/>
<line x1="68.30" y1="755.30" x2="84.30" y2="755.30" stroke="#3a3a3a" stroke-width="1.3" stroke-dasharray="4.0 2.4" stroke-dashoffset="3.2"/>
<line x1="67.8" y1="758.50" x2="84.8" y2="758.50" stroke="#333" stroke-width="1.1"/>
<line x1="68.30" y1="761.70" x2="84.30" y2="761.70" stroke="#3a3a3a" stroke-width="1.3" stroke-dasharray="4.0 2.4" stroke-dashoffset="5.2"/>
<line x1="67.8" y1="764.90" x2="84.8" y2="764.90" stroke="#333" stroke-width="1.1"/>
<line x1="67.8" y1="767.90" x2="84.8" y2="767.90" stroke="#333" stroke-width="1.6"/>
<line x1="91.4" y1="555.5" x2="189.3" y2="555.5" stroke="#666" stroke-width="1"/>
<line x1="91.40" y1="550.5" x2="91.40" y2="555.5" stroke="#666" stroke-width="1"/>
<line x1="101.19" y1="552.5" x2="101.19" y2="555.5" stroke="#666" stroke-width="1"/>
<line x1="110.98" y1="550.5" x2="110.98" y2="555.5" stroke="#666" stroke-width="1"/>
<line x1="120.77" y1="552.5" x2="120.77" y2="555.5" stroke="#666" stroke-width="1"/>
<line x1="130.56" y1="550.5" x2="130.56" y2="555.5" stroke="#666" stroke-width="1"/>
<line x1="140.35" y1="552.5" x2="140.35" y2="555.5" stroke="#666" stroke-width="1"/>
<line x1="150.14" y1="550.5" x2="150.14" y2="555.5" stroke="#666" stroke-width="1"/>
<line x1="159.93" y1="552.5" x2="159.93" y2="555.5" stroke="#666" stroke-width="1"/>
<line x1="169.72" y1="550.5" x2="169.72" y2="555.5" stroke="#666" stroke-width="1"/>
<line x1="179.51" y1="552.5" x2="179.51" y2="555.5" stroke="#666" stroke-width="1"/>
<line x1="189.30" y1="550.5" x2="189.30" y2="555.5" stroke="#666" stroke-width="1"/>
<text transform="translate(88.04,547.90) scale(1.0,1.0)" text-anchor="start" font-size="12.1" fill="#333">0</text>
<text transform="translate(123.94,547.90) scale(1.0,1.0)" text-anchor="start" font-size="12.1" fill="#333">40</text>
<text transform="translate(162.97,547.90) scale(1.0,1.0)" text-anchor="start" font-size="12.1" fill="#333">80</text>
<text transform="translate(81.72,530.40) scale(1.0,1.0)" text-anchor="start" font-size="13.0" fill="#333">Organic matter (%)</text>
<text transform="translate(68.25,547.50) scale(1.0,1.0)" text-anchor="start" font-size="12.8" fill="#333">Q4</text>
<rect x="216.7" y="557.2" width="16.70" height="87.90" fill="#999" stroke="#555" stroke-width="1"/>
<rect x="216.7" y="645.1" width="16.70" height="91.20" fill="#fff" stroke="#555" stroke-width="1"/>
<line x1="217.20" y1="647.10" x2="232.90" y2="647.10" stroke="#3a3a3a" stroke-width="1.3" stroke-dasharray="4.0 2.4" stroke-dashoffset="3.2"/>
<line x1="216.7" y1="650.30" x2="233.4" y2="650.30" stroke="#333" stroke-width="1.1"/>
<line x1="217.20" y1="653.50" x2="232.90" y2="653.50" stroke="#3a3a3a" stroke-width="1.3" stroke-dasharray="4.0 2.4" stroke-dashoffset="5.2"/>
<line x1="216.7" y1="656.70" x2="233.4" y2="656.70" stroke="#333" stroke-width="1.1"/>
<line x1="217.20" y1="659.90" x2="232.90" y2="659.90" stroke="#3a3a3a" stroke-width="1.3" stroke-dasharray="4.0 2.4" stroke-dashoffset="3.2"/>
<line x1="216.7" y1="663.10" x2="233.4" y2="663.10" stroke="#333" stroke-width="1.1"/>
<line x1="217.20" y1="666.30" x2="232.90" y2="666.30" stroke="#3a3a3a" stroke-width="1.3" stroke-dasharray="4.0 2.4" stroke-dashoffset="5.2"/>
<line x1="216.7" y1="669.50" x2="233.4" y2="669.50" stroke="#333" stroke-width="1.1"/>
<line x1="217.20" y1="672.70" x2="232.90" y2="672.70" stroke="#3a3a3a" stroke-width="1.3" stroke-dasharray="4.0 2.4" stroke-dashoffset="3.2"/>
<line x1="216.7" y1="675.90" x2="233.4" y2="675.90" stroke="#333" stroke-width="1.1"/>
<line x1="217.20" y1="679.10" x2="232.90" y2="679.10" stroke="#3a3a3a" stroke-width="1.3" stroke-dasharray="4.0 2.4" stroke-dashoffset="5.2"/>
<line x1="216.7" y1="682.30" x2="233.4" y2="682.30" stroke="#333" stroke-width="1.1"/>
<line x1="217.20" y1="685.50" x2="232.90" y2="685.50" stroke="#3a3a3a" stroke-width="1.3" stroke-dasharray="4.0 2.4" stroke-dashoffset="3.2"/>
<line x1="216.7" y1="688.70" x2="233.4" y2="688.70" stroke="#333" stroke-width="1.1"/>
<line x1="217.20" y1="691.90" x2="232.90" y2="691.90" stroke="#3a3a3a" stroke-width="1.3" stroke-dasharray="4.0 2.4" stroke-dashoffset="5.2"/>
<line x1="216.7" y1="695.10" x2="233.4" y2="695.10" stroke="#333" stroke-width="1.1"/>
<line x1="217.20" y1="698.30" x2="232.90" y2="698.30" stroke="#3a3a3a" stroke-width="1.3" stroke-dasharray="4.0 2.4" stroke-dashoffset="3.2"/>
<line x1="216.7" y1="701.50" x2="233.4" y2="701.50" stroke="#333" stroke-width="1.1"/>
<line x1="217.20" y1="704.70" x2="232.90" y2="704.70" stroke="#3a3a3a" stroke-width="1.3" stroke-dasharray="4.0 2.4" stroke-dashoffset="5.2"/>
<line x1="216.7" y1="707.90" x2="233.4" y2="707.90" stroke="#333" stroke-width="1.1"/>
<line x1="217.20" y1="711.10" x2="232.90" y2="711.10" stroke="#3a3a3a" stroke-width="1.3" stroke-dasharray="4.0 2.4" stroke-dashoffset="3.2"/>
<line x1="216.7" y1="714.30" x2="233.4" y2="714.30" stroke="#333" stroke-width="1.1"/>
<line x1="217.20" y1="717.50" x2="232.90" y2="717.50" stroke="#3a3a3a" stroke-width="1.3" stroke-dasharray="4.0 2.4" stroke-dashoffset="5.2"/>
<line x1="216.7" y1="720.70" x2="233.4" y2="720.70" stroke="#333" stroke-width="1.1"/>
<line x1="217.20" y1="723.90" x2="232.90" y2="723.90" stroke="#3a3a3a" stroke-width="1.3" stroke-dasharray="4.0 2.4" stroke-dashoffset="3.2"/>
<line x1="216.7" y1="727.10" x2="233.4" y2="727.10" stroke="#333" stroke-width="1.1"/>
<line x1="217.20" y1="730.30" x2="232.90" y2="730.30" stroke="#3a3a3a" stroke-width="1.3" stroke-dasharray="4.0 2.4" stroke-dashoffset="5.2"/>
<line x1="216.7" y1="733.50" x2="233.4" y2="733.50" stroke="#333" stroke-width="1.1"/>
<line x1="216.7" y1="735.70" x2="233.4" y2="735.70" stroke="#333" stroke-width="1.6"/>
<line x1="240.4" y1="555.5" x2="337.9" y2="555.5" stroke="#666" stroke-width="1"/>
<line x1="240.40" y1="550.5" x2="240.40" y2="555.5" stroke="#666" stroke-width="1"/>
<line x1="250.15" y1="552.5" x2="250.15" y2="555.5" stroke="#666" stroke-width="1"/>
<line x1="259.90" y1="550.5" x2="259.90" y2="555.5" stroke="#666" stroke-width="1"/>
<line x1="269.65" y1="552.5" x2="269.65" y2="555.5" stroke="#666" stroke-width="1"/>
<line x1="279.40" y1="550.5" x2="279.40" y2="555.5" stroke="#666" stroke-width="1"/>
<line x1="289.15" y1="552.5" x2="289.15" y2="555.5" stroke="#666" stroke-width="1"/>
<line x1="298.90" y1="550.5" x2="298.90" y2="555.5" stroke="#666" stroke-width="1"/>
<line x1="308.65" y1="552.5" x2="308.65" y2="555.5" stroke="#666" stroke-width="1"/>
<line x1="318.40" y1="550.5" x2="318.40" y2="555.5" stroke="#666" stroke-width="1"/>
<line x1="328.15" y1="552.5" x2="328.15" y2="555.5" stroke="#666" stroke-width="1"/>
<line x1="337.90" y1="550.5" x2="337.90" y2="555.5" stroke="#666" stroke-width="1"/>
<text transform="translate(237.04,547.90) scale(1.0,1.0)" text-anchor="start" font-size="12.1" fill="#333">0</text>
<text transform="translate(272.78,547.90) scale(1.0,1.0)" text-anchor="start" font-size="12.1" fill="#333">40</text>
<text transform="translate(311.65,547.90) scale(1.0,1.0)" text-anchor="start" font-size="12.1" fill="#333">80</text>
<text transform="translate(230.32,530.40) scale(1.0,1.0)" text-anchor="start" font-size="13.0" fill="#333">Organic matter (%)</text>
<text transform="translate(213.98,547.50) scale(1.0,1.0)" text-anchor="start" font-size="12.8" fill="#333">Q1</text>
<rect x="364.5" y="556.9" width="17.70" height="68.60" fill="#999" stroke="#555" stroke-width="1"/>
<rect x="364.5" y="625.5" width="17.70" height="69.10" fill="#fff" stroke="#555" stroke-width="1"/>
<line x1="365.00" y1="627.50" x2="381.70" y2="627.50" stroke="#3a3a3a" stroke-width="1.3" stroke-dasharray="4.0 2.4" stroke-dashoffset="3.2"/>
<line x1="364.5" y1="630.70" x2="382.2" y2="630.70" stroke="#333" stroke-width="1.1"/>
<line x1="365.00" y1="633.90" x2="381.70" y2="633.90" stroke="#3a3a3a" stroke-width="1.3" stroke-dasharray="4.0 2.4" stroke-dashoffset="5.2"/>
<line x1="364.5" y1="637.10" x2="382.2" y2="637.10" stroke="#333" stroke-width="1.1"/>
<line x1="365.00" y1="640.30" x2="381.70" y2="640.30" stroke="#3a3a3a" stroke-width="1.3" stroke-dasharray="4.0 2.4" stroke-dashoffset="3.2"/>
<line x1="364.5" y1="643.50" x2="382.2" y2="643.50" stroke="#333" stroke-width="1.1"/>
<line x1="365.00" y1="646.70" x2="381.70" y2="646.70" stroke="#3a3a3a" stroke-width="1.3" stroke-dasharray="4.0 2.4" stroke-dashoffset="5.2"/>
<line x1="364.5" y1="649.90" x2="382.2" y2="649.90" stroke="#333" stroke-width="1.1"/>
<line x1="365.00" y1="653.10" x2="381.70" y2="653.10" stroke="#3a3a3a" stroke-width="1.3" stroke-dasharray="4.0 2.4" stroke-dashoffset="3.2"/>
<line x1="364.5" y1="656.30" x2="382.2" y2="656.30" stroke="#333" stroke-width="1.1"/>
<line x1="365.00" y1="659.50" x2="381.70" y2="659.50" stroke="#3a3a3a" stroke-width="1.3" stroke-dasharray="4.0 2.4" stroke-dashoffset="5.2"/>
<line x1="364.5" y1="662.70" x2="382.2" y2="662.70" stroke="#333" stroke-width="1.1"/>
<line x1="365.00" y1="665.90" x2="381.70" y2="665.90" stroke="#3a3a3a" stroke-width="1.3" stroke-dasharray="4.0 2.4" stroke-dashoffset="3.2"/>
<line x1="364.5" y1="669.10" x2="382.2" y2="669.10" stroke="#333" stroke-width="1.1"/>
<line x1="365.00" y1="672.30" x2="381.70" y2="672.30" stroke="#3a3a3a" stroke-width="1.3" stroke-dasharray="4.0 2.4" stroke-dashoffset="5.2"/>
<line x1="364.5" y1="675.50" x2="382.2" y2="675.50" stroke="#333" stroke-width="1.1"/>
<line x1="365.00" y1="678.70" x2="381.70" y2="678.70" stroke="#3a3a3a" stroke-width="1.3" stroke-dasharray="4.0 2.4" stroke-dashoffset="3.2"/>
<line x1="364.5" y1="681.90" x2="382.2" y2="681.90" stroke="#333" stroke-width="1.1"/>
<line x1="365.00" y1="685.10" x2="381.70" y2="685.10" stroke="#3a3a3a" stroke-width="1.3" stroke-dasharray="4.0 2.4" stroke-dashoffset="5.2"/>
<line x1="364.5" y1="688.30" x2="382.2" y2="688.30" stroke="#333" stroke-width="1.1"/>
<line x1="365.00" y1="691.50" x2="381.70" y2="691.50" stroke="#3a3a3a" stroke-width="1.3" stroke-dasharray="4.0 2.4" stroke-dashoffset="3.2"/>
<line x1="364.5" y1="694.00" x2="382.2" y2="694.00" stroke="#333" stroke-width="1.6"/>
<line x1="387.3" y1="555.5" x2="485.1" y2="555.5" stroke="#666" stroke-width="1"/>
<line x1="387.30" y1="550.5" x2="387.30" y2="555.5" stroke="#666" stroke-width="1"/>
<line x1="397.08" y1="552.5" x2="397.08" y2="555.5" stroke="#666" stroke-width="1"/>
<line x1="406.86" y1="550.5" x2="406.86" y2="555.5" stroke="#666" stroke-width="1"/>
<line x1="416.64" y1="552.5" x2="416.64" y2="555.5" stroke="#666" stroke-width="1"/>
<line x1="426.42" y1="550.5" x2="426.42" y2="555.5" stroke="#666" stroke-width="1"/>
<line x1="436.20" y1="552.5" x2="436.20" y2="555.5" stroke="#666" stroke-width="1"/>
<line x1="445.98" y1="550.5" x2="445.98" y2="555.5" stroke="#666" stroke-width="1"/>
<line x1="455.76" y1="552.5" x2="455.76" y2="555.5" stroke="#666" stroke-width="1"/>
<line x1="465.54" y1="550.5" x2="465.54" y2="555.5" stroke="#666" stroke-width="1"/>
<line x1="475.32" y1="552.5" x2="475.32" y2="555.5" stroke="#666" stroke-width="1"/>
<line x1="485.10" y1="550.5" x2="485.10" y2="555.5" stroke="#666" stroke-width="1"/>
<text transform="translate(383.94,547.90) scale(1.0,1.0)" text-anchor="start" font-size="12.1" fill="#333">0</text>
<text transform="translate(419.80,547.90) scale(1.0,1.0)" text-anchor="start" font-size="12.1" fill="#333">40</text>
<text transform="translate(458.79,547.90) scale(1.0,1.0)" text-anchor="start" font-size="12.1" fill="#333">80</text>
<text transform="translate(377.52,530.40) scale(1.0,1.0)" text-anchor="start" font-size="13.0" fill="#333">Organic matter (%)</text>
<text transform="translate(364.82,547.50) scale(1.0,1.0)" text-anchor="start" font-size="12.8" fill="#333">H1</text>
<rect x="505.3" y="556.4" width="17.30" height="69.80" fill="#999" stroke="#555" stroke-width="1"/>
<rect x="505.3" y="626.2" width="17.30" height="69.40" fill="#fff" stroke="#555" stroke-width="1"/>
<line x1="505.80" y1="628.20" x2="522.10" y2="628.20" stroke="#3a3a3a" stroke-width="1.3" stroke-dasharray="4.0 2.4" stroke-dashoffset="3.2"/>
<line x1="505.3" y1="631.40" x2="522.6" y2="631.40" stroke="#333" stroke-width="1.1"/>
<line x1="505.80" y1="634.60" x2="522.10" y2="634.60" stroke="#3a3a3a" stroke-width="1.3" stroke-dasharray="4.0 2.4" stroke-dashoffset="5.2"/>
<line x1="505.3" y1="637.80" x2="522.6" y2="637.80" stroke="#333" stroke-width="1.1"/>
<line x1="505.80" y1="641.00" x2="522.10" y2="641.00" stroke="#3a3a3a" stroke-width="1.3" stroke-dasharray="4.0 2.4" stroke-dashoffset="3.2"/>
<line x1="505.3" y1="644.20" x2="522.6" y2="644.20" stroke="#333" stroke-width="1.1"/>
<line x1="505.80" y1="647.40" x2="522.10" y2="647.40" stroke="#3a3a3a" stroke-width="1.3" stroke-dasharray="4.0 2.4" stroke-dashoffset="5.2"/>
<line x1="505.3" y1="650.60" x2="522.6" y2="650.60" stroke="#333" stroke-width="1.1"/>
<line x1="505.80" y1="653.80" x2="522.10" y2="653.80" stroke="#3a3a3a" stroke-width="1.3" stroke-dasharray="4.0 2.4" stroke-dashoffset="3.2"/>
<line x1="505.3" y1="657.00" x2="522.6" y2="657.00" stroke="#333" stroke-width="1.1"/>
<line x1="505.80" y1="660.20" x2="522.10" y2="660.20" stroke="#3a3a3a" stroke-width="1.3" stroke-dasharray="4.0 2.4" stroke-dashoffset="5.2"/>
<line x1="505.3" y1="663.40" x2="522.6" y2="663.40" stroke="#333" stroke-width="1.1"/>
<line x1="505.80" y1="666.60" x2="522.10" y2="666.60" stroke="#3a3a3a" stroke-width="1.3" stroke-dasharray="4.0 2.4" stroke-dashoffset="3.2"/>
<line x1="505.3" y1="669.80" x2="522.6" y2="669.80" stroke="#333" stroke-width="1.1"/>
<line x1="505.80" y1="673.00" x2="522.10" y2="673.00" stroke="#3a3a3a" stroke-width="1.3" stroke-dasharray="4.0 2.4" stroke-dashoffset="5.2"/>
<line x1="505.3" y1="676.20" x2="522.6" y2="676.20" stroke="#333" stroke-width="1.1"/>
<line x1="505.80" y1="679.40" x2="522.10" y2="679.40" stroke="#3a3a3a" stroke-width="1.3" stroke-dasharray="4.0 2.4" stroke-dashoffset="3.2"/>
<line x1="505.3" y1="682.60" x2="522.6" y2="682.60" stroke="#333" stroke-width="1.1"/>
<line x1="505.80" y1="685.80" x2="522.10" y2="685.80" stroke="#3a3a3a" stroke-width="1.3" stroke-dasharray="4.0 2.4" stroke-dashoffset="5.2"/>
<line x1="505.3" y1="689.00" x2="522.6" y2="689.00" stroke="#333" stroke-width="1.1"/>
<line x1="505.80" y1="692.20" x2="522.10" y2="692.20" stroke="#3a3a3a" stroke-width="1.3" stroke-dasharray="4.0 2.4" stroke-dashoffset="3.2"/>
<line x1="505.3" y1="695.00" x2="522.6" y2="695.00" stroke="#333" stroke-width="1.6"/>
<line x1="527.5" y1="555.5" x2="625.3" y2="555.5" stroke="#666" stroke-width="1"/>
<line x1="527.50" y1="550.5" x2="527.50" y2="555.5" stroke="#666" stroke-width="1"/>
<line x1="537.28" y1="552.5" x2="537.28" y2="555.5" stroke="#666" stroke-width="1"/>
<line x1="547.06" y1="550.5" x2="547.06" y2="555.5" stroke="#666" stroke-width="1"/>
<line x1="556.84" y1="552.5" x2="556.84" y2="555.5" stroke="#666" stroke-width="1"/>
<line x1="566.62" y1="550.5" x2="566.62" y2="555.5" stroke="#666" stroke-width="1"/>
<line x1="576.40" y1="552.5" x2="576.40" y2="555.5" stroke="#666" stroke-width="1"/>
<line x1="586.18" y1="550.5" x2="586.18" y2="555.5" stroke="#666" stroke-width="1"/>
<line x1="595.96" y1="552.5" x2="595.96" y2="555.5" stroke="#666" stroke-width="1"/>
<line x1="605.74" y1="550.5" x2="605.74" y2="555.5" stroke="#666" stroke-width="1"/>
<line x1="615.52" y1="552.5" x2="615.52" y2="555.5" stroke="#666" stroke-width="1"/>
<line x1="625.30" y1="550.5" x2="625.30" y2="555.5" stroke="#666" stroke-width="1"/>
<text transform="translate(524.14,547.90) scale(1.0,1.0)" text-anchor="start" font-size="12.1" fill="#333">0</text>
<text transform="translate(560.00,547.90) scale(1.0,1.0)" text-anchor="start" font-size="12.1" fill="#333">40</text>
<text transform="translate(598.99,547.90) scale(1.0,1.0)" text-anchor="start" font-size="12.1" fill="#333">80</text>
<text transform="translate(517.72,530.40) scale(1.0,1.0)" text-anchor="start" font-size="13.0" fill="#333">Organic matter (%)</text>
<text transform="translate(503.56,547.50) scale(1.0,1.0)" text-anchor="start" font-size="12.8" fill="#333">W4</text>
<rect x="651.2" y="556.6" width="17.30" height="64.60" fill="#999" stroke="#555" stroke-width="1"/>
<rect x="651.2" y="621.2" width="17.30" height="69.30" fill="#fff" stroke="#555" stroke-width="1"/>
<line x1="651.70" y1="623.20" x2="668.00" y2="623.20" stroke="#3a3a3a" stroke-width="1.3" stroke-dasharray="4.0 2.4" stroke-dashoffset="3.2"/>
<line x1="651.2" y1="626.40" x2="668.5" y2="626.40" stroke="#333" stroke-width="1.1"/>
<line x1="651.70" y1="629.60" x2="668.00" y2="629.60" stroke="#3a3a3a" stroke-width="1.3" stroke-dasharray="4.0 2.4" stroke-dashoffset="5.2"/>
<line x1="651.2" y1="632.80" x2="668.5" y2="632.80" stroke="#333" stroke-width="1.1"/>
<line x1="651.70" y1="636.00" x2="668.00" y2="636.00" stroke="#3a3a3a" stroke-width="1.3" stroke-dasharray="4.0 2.4" stroke-dashoffset="3.2"/>
<line x1="651.2" y1="639.20" x2="668.5" y2="639.20" stroke="#333" stroke-width="1.1"/>
<line x1="651.70" y1="642.40" x2="668.00" y2="642.40" stroke="#3a3a3a" stroke-width="1.3" stroke-dasharray="4.0 2.4" stroke-dashoffset="5.2"/>
<line x1="651.2" y1="645.60" x2="668.5" y2="645.60" stroke="#333" stroke-width="1.1"/>
<line x1="651.70" y1="648.80" x2="668.00" y2="648.80" stroke="#3a3a3a" stroke-width="1.3" stroke-dasharray="4.0 2.4" stroke-dashoffset="3.2"/>
<line x1="651.2" y1="652.00" x2="668.5" y2="652.00" stroke="#333" stroke-width="1.1"/>
<line x1="651.70" y1="655.20" x2="668.00" y2="655.20" stroke="#3a3a3a" stroke-width="1.3" stroke-dasharray="4.0 2.4" stroke-dashoffset="5.2"/>
<line x1="651.2" y1="658.40" x2="668.5" y2="658.40" stroke="#333" stroke-width="1.1"/>
<line x1="651.70" y1="661.60" x2="668.00" y2="661.60" stroke="#3a3a3a" stroke-width="1.3" stroke-dasharray="4.0 2.4" stroke-dashoffset="3.2"/>
<line x1="651.2" y1="664.80" x2="668.5" y2="664.80" stroke="#333" stroke-width="1.1"/>
<line x1="651.70" y1="668.00" x2="668.00" y2="668.00" stroke="#3a3a3a" stroke-width="1.3" stroke-dasharray="4.0 2.4" stroke-dashoffset="5.2"/>
<line x1="651.2" y1="671.20" x2="668.5" y2="671.20" stroke="#333" stroke-width="1.1"/>
<line x1="651.70" y1="674.40" x2="668.00" y2="674.40" stroke="#3a3a3a" stroke-width="1.3" stroke-dasharray="4.0 2.4" stroke-dashoffset="3.2"/>
<line x1="651.2" y1="677.60" x2="668.5" y2="677.60" stroke="#333" stroke-width="1.1"/>
<line x1="651.70" y1="680.80" x2="668.00" y2="680.80" stroke="#3a3a3a" stroke-width="1.3" stroke-dasharray="4.0 2.4" stroke-dashoffset="5.2"/>
<line x1="651.2" y1="684.00" x2="668.5" y2="684.00" stroke="#333" stroke-width="1.1"/>
<line x1="651.70" y1="687.20" x2="668.00" y2="687.20" stroke="#3a3a3a" stroke-width="1.3" stroke-dasharray="4.0 2.4" stroke-dashoffset="3.2"/>
<line x1="651.2" y1="689.90" x2="668.5" y2="689.90" stroke="#333" stroke-width="1.6"/>
<line x1="674.3" y1="555.5" x2="772.0" y2="555.5" stroke="#666" stroke-width="1"/>
<line x1="674.30" y1="550.5" x2="674.30" y2="555.5" stroke="#666" stroke-width="1"/>
<line x1="684.07" y1="552.5" x2="684.07" y2="555.5" stroke="#666" stroke-width="1"/>
<line x1="693.84" y1="550.5" x2="693.84" y2="555.5" stroke="#666" stroke-width="1"/>
<line x1="703.61" y1="552.5" x2="703.61" y2="555.5" stroke="#666" stroke-width="1"/>
<line x1="713.38" y1="550.5" x2="713.38" y2="555.5" stroke="#666" stroke-width="1"/>
<line x1="723.15" y1="552.5" x2="723.15" y2="555.5" stroke="#666" stroke-width="1"/>
<line x1="732.92" y1="550.5" x2="732.92" y2="555.5" stroke="#666" stroke-width="1"/>
<line x1="742.69" y1="552.5" x2="742.69" y2="555.5" stroke="#666" stroke-width="1"/>
<line x1="752.46" y1="550.5" x2="752.46" y2="555.5" stroke="#666" stroke-width="1"/>
<line x1="762.23" y1="552.5" x2="762.23" y2="555.5" stroke="#666" stroke-width="1"/>
<line x1="772.00" y1="550.5" x2="772.00" y2="555.5" stroke="#666" stroke-width="1"/>
<text transform="translate(670.94,547.90) scale(1.0,1.0)" text-anchor="start" font-size="12.1" fill="#333">0</text>
<text transform="translate(706.76,547.90) scale(1.0,1.0)" text-anchor="start" font-size="12.1" fill="#333">40</text>
<text transform="translate(745.71,547.90) scale(1.0,1.0)" text-anchor="start" font-size="12.1" fill="#333">80</text>
<text transform="translate(664.42,530.40) scale(1.0,1.0)" text-anchor="start" font-size="13.0" fill="#333">Organic matter (%)</text>
<text transform="translate(648.26,547.50) scale(1.0,1.0)" text-anchor="start" font-size="12.8" fill="#333">W6</text>
<polyline points="165.3,558.4 156.8,560.7 156.8,564.1 152.8,568.7 157.3,571.0 160.2,573.9 156.8,576.2 163.0,581.5 157.9,584.2 158.5,587.0 155.0,589.3 155.6,592.7 161.9,596.7 157.9,600.2 157.9,603.0 163.0,607.0 159.6,609.9 155.0,613.3 160.8,614.5 154.5,617.3 165.3,619.6 154.5,622.5 166.5,624.2 166.5,627.6 157.9,629.3 162.5,632.5 157.3,634.1 151.0,636.4 152.2,640.2 136.2,642.1 123.6,644.2 123.0,646.5 121.3,649.9 124.2,655.6 122.4,660.2 119.0,662.3 121.3,665.1 117.3,668.6 113.9,672.6 117.3,676.6 112.7,680.6 119.6,683.4 117.3,685.7 115.6,693.2 115.6,696.6 107.6,702.9 102.4,708.6 107.6,713.2 104.7,718.9 105.3,721.2 102.4,725.8 100.7,731.5 100.1,740.1 98.4,749.2 100.1,753.8 98.4,756.6 101.9,761.8 99.6,767.5" fill="none" stroke="#3a3a3a" stroke-width="0.85" stroke-linejoin="round"/>
<circle cx="165.3" cy="558.4" r="0.85" fill="#1a1a1a"/>
<circle cx="156.8" cy="560.7" r="0.85" fill="#1a1a1a"/>
<circle cx="156.8" cy="564.1" r="0.85" fill="#1a1a1a"/>
<circle cx="152.8" cy="568.7" r="0.85" fill="#1a1a1a"/>
<circle cx="157.3" cy="571.0" r="0.85" fill="#1a1a1a"/>
<circle cx="160.2" cy="573.9" r="0.85" fill="#1a1a1a"/>
<circle cx="156.8" cy="576.2" r="0.85" fill="#1a1a1a"/>
<circle cx="163.0" cy="581.5" r="0.85" fill="#1a1a1a"/>
<circle cx="157.9" cy="584.2" r="0.85" fill="#1a1a1a"/>
<circle cx="158.5" cy="587.0" r="0.85" fill="#1a1a1a"/>
<circle cx="155.0" cy="589.3" r="0.85" fill="#1a1a1a"/>
<circle cx="155.6" cy="592.7" r="0.85" fill="#1a1a1a"/>
<circle cx="161.9" cy="596.7" r="0.85" fill="#1a1a1a"/>
<circle cx="157.9" cy="600.2" r="0.85" fill="#1a1a1a"/>
<circle cx="157.9" cy="603.0" r="0.85" fill="#1a1a1a"/>
<circle cx="163.0" cy="607.0" r="0.85" fill="#1a1a1a"/>
<circle cx="159.6" cy="609.9" r="0.85" fill="#1a1a1a"/>
<circle cx="155.0" cy="613.3" r="0.85" fill="#1a1a1a"/>
<circle cx="160.8" cy="614.5" r="0.85" fill="#1a1a1a"/>
<circle cx="154.5" cy="617.3" r="0.85" fill="#1a1a1a"/>
<circle cx="165.3" cy="619.6" r="0.85" fill="#1a1a1a"/>
<circle cx="154.5" cy="622.5" r="0.85" fill="#1a1a1a"/>
<circle cx="166.5" cy="624.2" r="0.85" fill="#1a1a1a"/>
<circle cx="166.5" cy="627.6" r="0.85" fill="#1a1a1a"/>
<circle cx="157.9" cy="629.3" r="0.85" fill="#1a1a1a"/>
<circle cx="162.5" cy="632.5" r="0.85" fill="#1a1a1a"/>
<circle cx="157.3" cy="634.1" r="0.85" fill="#1a1a1a"/>
<circle cx="151.0" cy="636.4" r="0.85" fill="#1a1a1a"/>
<circle cx="152.2" cy="640.2" r="0.85" fill="#1a1a1a"/>
<circle cx="136.2" cy="642.1" r="0.85" fill="#1a1a1a"/>
<circle cx="123.6" cy="644.2" r="0.85" fill="#1a1a1a"/>
<circle cx="123.0" cy="646.5" r="0.85" fill="#1a1a1a"/>
<circle cx="121.3" cy="649.9" r="0.85" fill="#1a1a1a"/>
<circle cx="124.2" cy="655.6" r="0.85" fill="#1a1a1a"/>
<circle cx="122.4" cy="660.2" r="0.85" fill="#1a1a1a"/>
<circle cx="119.0" cy="662.3" r="0.85" fill="#1a1a1a"/>
<circle cx="121.3" cy="665.1" r="0.85" fill="#1a1a1a"/>
<circle cx="117.3" cy="668.6" r="0.85" fill="#1a1a1a"/>
<circle cx="113.9" cy="672.6" r="0.85" fill="#1a1a1a"/>
<circle cx="117.3" cy="676.6" r="0.85" fill="#1a1a1a"/>
<circle cx="112.7" cy="680.6" r="0.85" fill="#1a1a1a"/>
<circle cx="119.6" cy="683.4" r="0.85" fill="#1a1a1a"/>
<circle cx="117.3" cy="685.7" r="0.85" fill="#1a1a1a"/>
<circle cx="115.6" cy="693.2" r="0.85" fill="#1a1a1a"/>
<circle cx="115.6" cy="696.6" r="0.85" fill="#1a1a1a"/>
<circle cx="107.6" cy="702.9" r="0.85" fill="#1a1a1a"/>
<circle cx="102.4" cy="708.6" r="0.85" fill="#1a1a1a"/>
<circle cx="107.6" cy="713.2" r="0.85" fill="#1a1a1a"/>
<circle cx="104.7" cy="718.9" r="0.85" fill="#1a1a1a"/>
<circle cx="105.3" cy="721.2" r="0.85" fill="#1a1a1a"/>
<circle cx="102.4" cy="725.8" r="0.85" fill="#1a1a1a"/>
<circle cx="100.7" cy="731.5" r="0.85" fill="#1a1a1a"/>
<circle cx="100.1" cy="740.1" r="0.85" fill="#1a1a1a"/>
<circle cx="98.4" cy="749.2" r="0.85" fill="#1a1a1a"/>
<circle cx="100.1" cy="753.8" r="0.85" fill="#1a1a1a"/>
<circle cx="98.4" cy="756.6" r="0.85" fill="#1a1a1a"/>
<circle cx="101.9" cy="761.8" r="0.85" fill="#1a1a1a"/>
<circle cx="99.6" cy="767.5" r="0.85" fill="#1a1a1a"/>
<polyline points="301.3,558.6 305.3,560.6 305.3,562.1 317.0,563.6 306.3,566.2 317.0,569.2 301.3,571.8 318.5,573.8 320.6,576.3 328.7,579.4 311.9,581.4 313.5,583.5 312.9,585.5 314.0,587.5 311.9,589.6 314.5,592.6 307.9,595.7 305.3,597.7 294.6,600.2 291.6,602.8 301.8,605.3 290.1,610.9 295.7,613.4 289.1,616.0 288.0,621.6 292.6,624.1 289.6,626.2 294.6,629.7 292.6,633.3 291.6,636.3 288.5,639.4 287.5,642.4 283.6,646.5 261.8,649.6 261.8,654.7 255.7,655.2 253.1,656.7 258.2,660.2 260.8,664.8 257.2,666.9 261.3,671.9 259.7,675.5 261.3,677.5 255.7,681.1 257.2,683.1 253.6,686.7 256.7,689.7 254.7,693.8 252.6,697.9 255.2,700.4 251.1,705.5 255.2,707.5 254.1,711.1 258.7,714.1 252.6,716.2 257.7,719.7 253.1,723.3 255.7,727.3 259.2,731.9 258.2,734.5" fill="none" stroke="#3a3a3a" stroke-width="0.85" stroke-linejoin="round"/>
<circle cx="301.3" cy="558.6" r="0.85" fill="#1a1a1a"/>
<circle cx="305.3" cy="560.6" r="0.85" fill="#1a1a1a"/>
<circle cx="305.3" cy="562.1" r="0.85" fill="#1a1a1a"/>
<circle cx="317.0" cy="563.6" r="0.85" fill="#1a1a1a"/>
<circle cx="306.3" cy="566.2" r="0.85" fill="#1a1a1a"/>
<circle cx="317.0" cy="569.2" r="0.85" fill="#1a1a1a"/>
<circle cx="301.3" cy="571.8" r="0.85" fill="#1a1a1a"/>
<circle cx="318.5" cy="573.8" r="0.85" fill="#1a1a1a"/>
<circle cx="320.6" cy="576.3" r="0.85" fill="#1a1a1a"/>
<circle cx="328.7" cy="579.4" r="0.85" fill="#1a1a1a"/>
<circle cx="311.9" cy="581.4" r="0.85" fill="#1a1a1a"/>
<circle cx="313.5" cy="583.5" r="0.85" fill="#1a1a1a"/>
<circle cx="312.9" cy="585.5" r="0.85" fill="#1a1a1a"/>
<circle cx="314.0" cy="587.5" r="0.85" fill="#1a1a1a"/>
<circle cx="311.9" cy="589.6" r="0.85" fill="#1a1a1a"/>
<circle cx="314.5" cy="592.6" r="0.85" fill="#1a1a1a"/>
<circle cx="307.9" cy="595.7" r="0.85" fill="#1a1a1a"/>
<circle cx="305.3" cy="597.7" r="0.85" fill="#1a1a1a"/>
<circle cx="294.6" cy="600.2" r="0.85" fill="#1a1a1a"/>
<circle cx="291.6" cy="602.8" r="0.85" fill="#1a1a1a"/>
<circle cx="301.8" cy="605.3" r="0.85" fill="#1a1a1a"/>
<circle cx="290.1" cy="610.9" r="0.85" fill="#1a1a1a"/>
<circle cx="295.7" cy="613.4" r="0.85" fill="#1a1a1a"/>
<circle cx="289.1" cy="616.0" r="0.85" fill="#1a1a1a"/>
<circle cx="288.0" cy="621.6" r="0.85" fill="#1a1a1a"/>
<circle cx="292.6" cy="624.1" r="0.85" fill="#1a1a1a"/>
<circle cx="289.6" cy="626.2" r="0.85" fill="#1a1a1a"/>
<circle cx="294.6" cy="629.7" r="0.85" fill="#1a1a1a"/>
<circle cx="292.6" cy="633.3" r="0.85" fill="#1a1a1a"/>
<circle cx="291.6" cy="636.3" r="0.85" fill="#1a1a1a"/>
<circle cx="288.5" cy="639.4" r="0.85" fill="#1a1a1a"/>
<circle cx="287.5" cy="642.4" r="0.85" fill="#1a1a1a"/>
<circle cx="283.6" cy="646.5" r="0.85" fill="#1a1a1a"/>
<circle cx="261.8" cy="649.6" r="0.85" fill="#1a1a1a"/>
<circle cx="261.8" cy="654.7" r="0.85" fill="#1a1a1a"/>
<circle cx="255.7" cy="655.2" r="0.85" fill="#1a1a1a"/>
<circle cx="253.1" cy="656.7" r="0.85" fill="#1a1a1a"/>
<circle cx="258.2" cy="660.2" r="0.85" fill="#1a1a1a"/>
<circle cx="260.8" cy="664.8" r="0.85" fill="#1a1a1a"/>
<circle cx="257.2" cy="666.9" r="0.85" fill="#1a1a1a"/>
<circle cx="261.3" cy="671.9" r="0.85" fill="#1a1a1a"/>
<circle cx="259.7" cy="675.5" r="0.85" fill="#1a1a1a"/>
<circle cx="261.3" cy="677.5" r="0.85" fill="#1a1a1a"/>
<circle cx="255.7" cy="681.1" r="0.85" fill="#1a1a1a"/>
<circle cx="257.2" cy="683.1" r="0.85" fill="#1a1a1a"/>
<circle cx="253.6" cy="686.7" r="0.85" fill="#1a1a1a"/>
<circle cx="256.7" cy="689.7" r="0.85" fill="#1a1a1a"/>
<circle cx="254.7" cy="693.8" r="0.85" fill="#1a1a1a"/>
<circle cx="252.6" cy="697.9" r="0.85" fill="#1a1a1a"/>
<circle cx="255.2" cy="700.4" r="0.85" fill="#1a1a1a"/>
<circle cx="251.1" cy="705.5" r="0.85" fill="#1a1a1a"/>
<circle cx="255.2" cy="707.5" r="0.85" fill="#1a1a1a"/>
<circle cx="254.1" cy="711.1" r="0.85" fill="#1a1a1a"/>
<circle cx="258.7" cy="714.1" r="0.85" fill="#1a1a1a"/>
<circle cx="252.6" cy="716.2" r="0.85" fill="#1a1a1a"/>
<circle cx="257.7" cy="719.7" r="0.85" fill="#1a1a1a"/>
<circle cx="253.1" cy="723.3" r="0.85" fill="#1a1a1a"/>
<circle cx="255.7" cy="727.3" r="0.85" fill="#1a1a1a"/>
<circle cx="259.2" cy="731.9" r="0.85" fill="#1a1a1a"/>
<circle cx="258.2" cy="734.5" r="0.85" fill="#1a1a1a"/>
<polyline points="448.8,557.9 457.3,560.1 454.5,563.0 457.3,565.3 439.6,567.4 448.2,568.7 443.0,574.4 463.6,579.0 455.0,583.0 462.5,585.9 450.5,588.2 461.3,589.9 454.5,592.2 452.2,594.5 454.5,598.5 455.0,601.9 457.3,605.3 451.0,607.6 458.5,608.8 452.8,611.0 457.3,613.3 449.9,614.5 452.8,616.8 447.0,617.9 453.3,620.2 449.3,622.5 445.3,623.6 441.3,625.9 432.7,628.2 419.6,629.9 422.4,633.9 420.2,636.2 413.9,637.1 409.9,639.6 412.2,641.9 409.3,645.3 404.7,648.8 407.0,653.4 405.3,655.6 406.4,657.9 400.1,659.6 403.6,661.9 400.1,664.2 400.0,667.4 403.0,670.5 407.6,676.6 399.2,681.9 398.6,688.0 398.3,695.2" fill="none" stroke="#3a3a3a" stroke-width="0.85" stroke-linejoin="round"/>
<circle cx="448.8" cy="557.9" r="0.85" fill="#1a1a1a"/>
<circle cx="457.3" cy="560.1" r="0.85" fill="#1a1a1a"/>
<circle cx="454.5" cy="563.0" r="0.85" fill="#1a1a1a"/>
<circle cx="457.3" cy="565.3" r="0.85" fill="#1a1a1a"/>
<circle cx="439.6" cy="567.4" r="0.85" fill="#1a1a1a"/>
<circle cx="448.2" cy="568.7" r="0.85" fill="#1a1a1a"/>
<circle cx="443.0" cy="574.4" r="0.85" fill="#1a1a1a"/>
<circle cx="463.6" cy="579.0" r="0.85" fill="#1a1a1a"/>
<circle cx="455.0" cy="583.0" r="0.85" fill="#1a1a1a"/>
<circle cx="462.5" cy="585.9" r="0.85" fill="#1a1a1a"/>
<circle cx="450.5" cy="588.2" r="0.85" fill="#1a1a1a"/>
<circle cx="461.3" cy="589.9" r="0.85" fill="#1a1a1a"/>
<circle cx="454.5" cy="592.2" r="0.85" fill="#1a1a1a"/>
<circle cx="452.2" cy="594.5" r="0.85" fill="#1a1a1a"/>
<circle cx="454.5" cy="598.5" r="0.85" fill="#1a1a1a"/>
<circle cx="455.0" cy="601.9" r="0.85" fill="#1a1a1a"/>
<circle cx="457.3" cy="605.3" r="0.85" fill="#1a1a1a"/>
<circle cx="451.0" cy="607.6" r="0.85" fill="#1a1a1a"/>
<circle cx="458.5" cy="608.8" r="0.85" fill="#1a1a1a"/>
<circle cx="452.8" cy="611.0" r="0.85" fill="#1a1a1a"/>
<circle cx="457.3" cy="613.3" r="0.85" fill="#1a1a1a"/>
<circle cx="449.9" cy="614.5" r="0.85" fill="#1a1a1a"/>
<circle cx="452.8" cy="616.8" r="0.85" fill="#1a1a1a"/>
<circle cx="447.0" cy="617.9" r="0.85" fill="#1a1a1a"/>
<circle cx="453.3" cy="620.2" r="0.85" fill="#1a1a1a"/>
<circle cx="449.3" cy="622.5" r="0.85" fill="#1a1a1a"/>
<circle cx="445.3" cy="623.6" r="0.85" fill="#1a1a1a"/>
<circle cx="441.3" cy="625.9" r="0.85" fill="#1a1a1a"/>
<circle cx="432.7" cy="628.2" r="0.85" fill="#1a1a1a"/>
<circle cx="419.6" cy="629.9" r="0.85" fill="#1a1a1a"/>
<circle cx="422.4" cy="633.9" r="0.85" fill="#1a1a1a"/>
<circle cx="420.2" cy="636.2" r="0.85" fill="#1a1a1a"/>
<circle cx="413.9" cy="637.1" r="0.85" fill="#1a1a1a"/>
<circle cx="409.9" cy="639.6" r="0.85" fill="#1a1a1a"/>
<circle cx="412.2" cy="641.9" r="0.85" fill="#1a1a1a"/>
<circle cx="409.3" cy="645.3" r="0.85" fill="#1a1a1a"/>
<circle cx="404.7" cy="648.8" r="0.85" fill="#1a1a1a"/>
<circle cx="407.0" cy="653.4" r="0.85" fill="#1a1a1a"/>
<circle cx="405.3" cy="655.6" r="0.85" fill="#1a1a1a"/>
<circle cx="406.4" cy="657.9" r="0.85" fill="#1a1a1a"/>
<circle cx="400.1" cy="659.6" r="0.85" fill="#1a1a1a"/>
<circle cx="403.6" cy="661.9" r="0.85" fill="#1a1a1a"/>
<circle cx="400.1" cy="664.2" r="0.85" fill="#1a1a1a"/>
<circle cx="400.0" cy="667.4" r="0.85" fill="#1a1a1a"/>
<circle cx="403.0" cy="670.5" r="0.85" fill="#1a1a1a"/>
<circle cx="407.6" cy="676.6" r="0.85" fill="#1a1a1a"/>
<circle cx="399.2" cy="681.9" r="0.85" fill="#1a1a1a"/>
<circle cx="398.6" cy="688.0" r="0.85" fill="#1a1a1a"/>
<circle cx="398.3" cy="695.2" r="0.85" fill="#1a1a1a"/>
<polyline points="606.5,556.1 595.0,559.0 594.5,562.4 604.8,564.1 609.3,566.4 604.8,569.3 595.0,572.2 595.0,573.9 581.9,576.2 593.3,579.0 587.6,580.7 592.8,583.6 588.8,585.9 591.6,588.2 585.3,591.6 585.3,594.5 583.0,598.5 583.0,601.3 585.3,604.2 584.2,607.6 588.2,610.5 577.9,612.8 573.3,615.0 574.5,617.9 577.3,621.3 579.6,623.0 576.2,624.8 546.9,630.5 548.2,632.4 544.4,637.5 547.2,640.0 544.4,642.2 548.8,645.1 548.5,649.9 545.6,652.4 546.3,659.7 549.1,662.3 547.2,664.2 553.6,667.0 552.0,669.6 554.2,674.3 549.5,676.6 555.2,678.5 559.0,681.7 556.8,684.2 558.0,686.4 549.8,691.2 547.5,695.3" fill="none" stroke="#3a3a3a" stroke-width="0.85" stroke-linejoin="round"/>
<circle cx="606.5" cy="556.1" r="0.85" fill="#1a1a1a"/>
<circle cx="595.0" cy="559.0" r="0.85" fill="#1a1a1a"/>
<circle cx="594.5" cy="562.4" r="0.85" fill="#1a1a1a"/>
<circle cx="604.8" cy="564.1" r="0.85" fill="#1a1a1a"/>
<circle cx="609.3" cy="566.4" r="0.85" fill="#1a1a1a"/>
<circle cx="604.8" cy="569.3" r="0.85" fill="#1a1a1a"/>
<circle cx="595.0" cy="572.2" r="0.85" fill="#1a1a1a"/>
<circle cx="595.0" cy="573.9" r="0.85" fill="#1a1a1a"/>
<circle cx="581.9" cy="576.2" r="0.85" fill="#1a1a1a"/>
<circle cx="593.3" cy="579.0" r="0.85" fill="#1a1a1a"/>
<circle cx="587.6" cy="580.7" r="0.85" fill="#1a1a1a"/>
<circle cx="592.8" cy="583.6" r="0.85" fill="#1a1a1a"/>
<circle cx="588.8" cy="585.9" r="0.85" fill="#1a1a1a"/>
<circle cx="591.6" cy="588.2" r="0.85" fill="#1a1a1a"/>
<circle cx="585.3" cy="591.6" r="0.85" fill="#1a1a1a"/>
<circle cx="585.3" cy="594.5" r="0.85" fill="#1a1a1a"/>
<circle cx="583.0" cy="598.5" r="0.85" fill="#1a1a1a"/>
<circle cx="583.0" cy="601.3" r="0.85" fill="#1a1a1a"/>
<circle cx="585.3" cy="604.2" r="0.85" fill="#1a1a1a"/>
<circle cx="584.2" cy="607.6" r="0.85" fill="#1a1a1a"/>
<circle cx="588.2" cy="610.5" r="0.85" fill="#1a1a1a"/>
<circle cx="577.9" cy="612.8" r="0.85" fill="#1a1a1a"/>
<circle cx="573.3" cy="615.0" r="0.85" fill="#1a1a1a"/>
<circle cx="574.5" cy="617.9" r="0.85" fill="#1a1a1a"/>
<circle cx="577.3" cy="621.3" r="0.85" fill="#1a1a1a"/>
<circle cx="579.6" cy="623.0" r="0.85" fill="#1a1a1a"/>
<circle cx="576.2" cy="624.8" r="0.85" fill="#1a1a1a"/>
<circle cx="546.9" cy="630.5" r="0.85" fill="#1a1a1a"/>
<circle cx="548.2" cy="632.4" r="0.85" fill="#1a1a1a"/>
<circle cx="544.4" cy="637.5" r="0.85" fill="#1a1a1a"/>
<circle cx="547.2" cy="640.0" r="0.85" fill="#1a1a1a"/>
<circle cx="544.4" cy="642.2" r="0.85" fill="#1a1a1a"/>
<circle cx="548.8" cy="645.1" r="0.85" fill="#1a1a1a"/>
<circle cx="548.5" cy="649.9" r="0.85" fill="#1a1a1a"/>
<circle cx="545.6" cy="652.4" r="0.85" fill="#1a1a1a"/>
<circle cx="546.3" cy="659.7" r="0.85" fill="#1a1a1a"/>
<circle cx="549.1" cy="662.3" r="0.85" fill="#1a1a1a"/>
<circle cx="547.2" cy="664.2" r="0.85" fill="#1a1a1a"/>
<circle cx="553.6" cy="667.0" r="0.85" fill="#1a1a1a"/>
<circle cx="552.0" cy="669.6" r="0.85" fill="#1a1a1a"/>
<circle cx="554.2" cy="674.3" r="0.85" fill="#1a1a1a"/>
<circle cx="549.5" cy="676.6" r="0.85" fill="#1a1a1a"/>
<circle cx="555.2" cy="678.5" r="0.85" fill="#1a1a1a"/>
<circle cx="559.0" cy="681.7" r="0.85" fill="#1a1a1a"/>
<circle cx="556.8" cy="684.2" r="0.85" fill="#1a1a1a"/>
<circle cx="558.0" cy="686.4" r="0.85" fill="#1a1a1a"/>
<circle cx="549.8" cy="691.2" r="0.85" fill="#1a1a1a"/>
<circle cx="547.5" cy="695.3" r="0.85" fill="#1a1a1a"/>
<polyline points="740.0,559.6 755.5,562.1 747.5,563.0 723.5,564.1 748.6,565.3 754.9,566.4 763.5,569.0 726.3,571.6 739.5,575.6 726.9,579.0 737.8,581.9 732.0,583.6 737.2,586.5 734.3,589.3 741.2,592.2 733.2,594.5 734.3,597.3 731.5,604.2 733.8,607.6 733.8,611.6 737.8,615.0 726.9,617.3 733.8,620.2 728.0,623.0 720.6,625.9 704.0,627.3 696.6,629.8 695.7,634.6 698.7,639.4 695.1,641.2 687.0,643.3 685.5,646.3 688.8,648.5 683.7,650.0 691.8,654.8 688.8,657.5 689.1,661.1 697.8,664.1 691.5,666.2 695.7,668.3 695.7,673.7 697.8,675.5 696.6,677.9 698.4,680.0 696.0,682.7 694.2,686.9 695.4,689.6" fill="none" stroke="#3a3a3a" stroke-width="0.85" stroke-linejoin="round"/>
<circle cx="740.0" cy="559.6" r="0.85" fill="#1a1a1a"/>
<circle cx="755.5" cy="562.1" r="0.85" fill="#1a1a1a"/>
<circle cx="747.5" cy="563.0" r="0.85" fill="#1a1a1a"/>
<circle cx="723.5" cy="564.1" r="0.85" fill="#1a1a1a"/>
<circle cx="748.6" cy="565.3" r="0.85" fill="#1a1a1a"/>
<circle cx="754.9" cy="566.4" r="0.85" fill="#1a1a1a"/>
<circle cx="763.5" cy="569.0" r="0.85" fill="#1a1a1a"/>
<circle cx="726.3" cy="571.6" r="0.85" fill="#1a1a1a"/>
<circle cx="739.5" cy="575.6" r="0.85" fill="#1a1a1a"/>
<circle cx="726.9" cy="579.0" r="0.85" fill="#1a1a1a"/>
<circle cx="737.8" cy="581.9" r="0.85" fill="#1a1a1a"/>
<circle cx="732.0" cy="583.6" r="0.85" fill="#1a1a1a"/>
<circle cx="737.2" cy="586.5" r="0.85" fill="#1a1a1a"/>
<circle cx="734.3" cy="589.3" r="0.85" fill="#1a1a1a"/>
<circle cx="741.2" cy="592.2" r="0.85" fill="#1a1a1a"/>
<circle cx="733.2" cy="594.5" r="0.85" fill="#1a1a1a"/>
<circle cx="734.3" cy="597.3" r="0.85" fill="#1a1a1a"/>
<circle cx="731.5" cy="604.2" r="0.85" fill="#1a1a1a"/>
<circle cx="733.8" cy="607.6" r="0.85" fill="#1a1a1a"/>
<circle cx="733.8" cy="611.6" r="0.85" fill="#1a1a1a"/>
<circle cx="737.8" cy="615.0" r="0.85" fill="#1a1a1a"/>
<circle cx="726.9" cy="617.3" r="0.85" fill="#1a1a1a"/>
<circle cx="733.8" cy="620.2" r="0.85" fill="#1a1a1a"/>
<circle cx="728.0" cy="623.0" r="0.85" fill="#1a1a1a"/>
<circle cx="720.6" cy="625.9" r="0.85" fill="#1a1a1a"/>
<circle cx="704.0" cy="627.3" r="0.85" fill="#1a1a1a"/>
<circle cx="696.6" cy="629.8" r="0.85" fill="#1a1a1a"/>
<circle cx="695.7" cy="634.6" r="0.85" fill="#1a1a1a"/>
<circle cx="698.7" cy="639.4" r="0.85" fill="#1a1a1a"/>
<circle cx="695.1" cy="641.2" r="0.85" fill="#1a1a1a"/>
<circle cx="687.0" cy="643.3" r="0.85" fill="#1a1a1a"/>
<circle cx="685.5" cy="646.3" r="0.85" fill="#1a1a1a"/>
<circle cx="688.8" cy="648.5" r="0.85" fill="#1a1a1a"/>
<circle cx="683.7" cy="650.0" r="0.85" fill="#1a1a1a"/>
<circle cx="691.8" cy="654.8" r="0.85" fill="#1a1a1a"/>
<circle cx="688.8" cy="657.5" r="0.85" fill="#1a1a1a"/>
<circle cx="689.1" cy="661.1" r="0.85" fill="#1a1a1a"/>
<circle cx="697.8" cy="664.1" r="0.85" fill="#1a1a1a"/>
<circle cx="691.5" cy="666.2" r="0.85" fill="#1a1a1a"/>
<circle cx="695.7" cy="668.3" r="0.85" fill="#1a1a1a"/>
<circle cx="695.7" cy="673.7" r="0.85" fill="#1a1a1a"/>
<circle cx="697.8" cy="675.5" r="0.85" fill="#1a1a1a"/>
<circle cx="696.6" cy="677.9" r="0.85" fill="#1a1a1a"/>
<circle cx="698.4" cy="680.0" r="0.85" fill="#1a1a1a"/>
<circle cx="696.0" cy="682.7" r="0.85" fill="#1a1a1a"/>
<circle cx="694.2" cy="686.9" r="0.85" fill="#1a1a1a"/>
<circle cx="695.4" cy="689.6" r="0.85" fill="#1a1a1a"/>
<path d="M138.7,636.8 L135.1,634.3 L135.1,635.3 L129.9,635.3 L129.9,638.3 L135.1,638.3 L135.1,639.3 Z" fill="#111"/>
<text transform="translate(102.88,641.60) scale(1.0,0.97)" text-anchor="start" font-size="12.85" fill="#333">920</text>
<rect x="125.9" y="679.8" width="5.1" height="2.3" fill="#111"/>
<text transform="translate(133.72,685.70) scale(1.0,0.97)" text-anchor="start" font-size="12.85" fill="#333">1780</text>
<rect x="105.4" y="764.2" width="5.4" height="2.3" fill="#111"/>
<text transform="translate(114.10,770.70) scale(1.0,0.97)" text-anchor="start" font-size="12.85" fill="#333">4400</text>
<rect x="300.2" y="579.6" width="4.6" height="2.3" fill="#111"/>
<text transform="translate(269.28,585.70) scale(1.0,1.1)" text-anchor="start" font-size="12.6" fill="#333">2210</text>
<path d="M287.0,647.7 L290.6,645.2 L290.6,646.2 L294.6,646.2 L294.6,649.2 L290.6,649.2 L290.6,650.2 Z" fill="#111"/>
<text transform="translate(297.81,652.80) scale(1.0,1.1)" text-anchor="start" font-size="12.6" fill="#333">4690</text>
<rect x="264.3" y="734.1" width="5.1" height="2.3" fill="#111"/>
<text transform="translate(270.34,739.70) scale(1.0,1.1)" text-anchor="start" font-size="12.6" fill="#333">11960</text>
<path d="M444.2,630.5 L447.8,628.0 L447.8,629.0 L452.2,629.0 L452.2,632.0 L447.8,632.0 L447.8,633.0 Z" fill="#111"/>
<text transform="translate(455.36,634.80) scale(1.0,1.06)" text-anchor="start" font-size="12.8" fill="#333">2050</text>
<rect x="403.0" y="693.8" width="5.4" height="2.3" fill="#111"/>
<text transform="translate(412.05,698.20) scale(1.0,1.06)" text-anchor="start" font-size="12.8" fill="#333">8600</text>
<path d="M580.7,626.5 L584.3,624.0 L584.3,625.0 L588.2,625.0 L588.2,628.0 L584.3,628.0 L584.3,629.0 Z" fill="#111"/>
<text transform="translate(589.61,630.70) scale(1.0,1.0)" text-anchor="start" font-size="12.85" fill="#333">3910</text>
<rect x="558.4" y="693.2" width="5.6" height="2.3" fill="#111"/>
<text transform="translate(565.34,699.20) scale(1.0,1.0)" text-anchor="start" font-size="12.85" fill="#333">7220</text>
<path d="M733.2,626.5 L736.8,624.0 L736.8,625.0 L741.2,625.0 L741.2,628.0 L736.8,628.0 L736.8,629.0 Z" fill="#111"/>
<text transform="translate(742.81,630.80) scale(1.0,1.0)" text-anchor="start" font-size="12.9" fill="#333">3800</text>
<rect x="702.9" y="687.1" width="5.4" height="2.3" fill="#111"/>
<text transform="translate(711.40,692.20) scale(1.0,1.0)" text-anchor="start" font-size="12.9" fill="#333">4690</text>
<rect x="70.1" y="847.4" width="17.30" height="122.30" fill="#999" stroke="#555" stroke-width="1"/>
<rect x="70.1" y="969.7" width="17.30" height="94.00" fill="#fff" stroke="#555" stroke-width="1"/>
<line x1="70.60" y1="971.70" x2="86.90" y2="971.70" stroke="#3a3a3a" stroke-width="1.3" stroke-dasharray="4.0 2.4" stroke-dashoffset="3.2"/>
<line x1="70.1" y1="974.90" x2="87.4" y2="974.90" stroke="#333" stroke-width="1.1"/>
<line x1="70.60" y1="978.10" x2="86.90" y2="978.10" stroke="#3a3a3a" stroke-width="1.3" stroke-dasharray="4.0 2.4" stroke-dashoffset="5.2"/>
<line x1="70.1" y1="981.30" x2="87.4" y2="981.30" stroke="#333" stroke-width="1.1"/>
<line x1="70.60" y1="984.50" x2="86.90" y2="984.50" stroke="#3a3a3a" stroke-width="1.3" stroke-dasharray="4.0 2.4" stroke-dashoffset="3.2"/>
<line x1="70.1" y1="987.70" x2="87.4" y2="987.70" stroke="#333" stroke-width="1.1"/>
<line x1="70.60" y1="990.90" x2="86.90" y2="990.90" stroke="#3a3a3a" stroke-width="1.3" stroke-dasharray="4.0 2.4" stroke-dashoffset="5.2"/>
<line x1="70.1" y1="994.10" x2="87.4" y2="994.10" stroke="#333" stroke-width="1.1"/>
<line x1="70.60" y1="997.30" x2="86.90" y2="997.30" stroke="#3a3a3a" stroke-width="1.3" stroke-dasharray="4.0 2.4" stroke-dashoffset="3.2"/>
<line x1="70.1" y1="1000.50" x2="87.4" y2="1000.50" stroke="#333" stroke-width="1.1"/>
<line x1="70.60" y1="1003.70" x2="86.90" y2="1003.70" stroke="#3a3a3a" stroke-width="1.3" stroke-dasharray="4.0 2.4" stroke-dashoffset="5.2"/>
<line x1="70.1" y1="1006.90" x2="87.4" y2="1006.90" stroke="#333" stroke-width="1.1"/>
<line x1="70.60" y1="1010.10" x2="86.90" y2="1010.10" stroke="#3a3a3a" stroke-width="1.3" stroke-dasharray="4.0 2.4" stroke-dashoffset="3.2"/>
<line x1="70.1" y1="1013.30" x2="87.4" y2="1013.30" stroke="#333" stroke-width="1.1"/>
<line x1="70.60" y1="1016.50" x2="86.90" y2="1016.50" stroke="#3a3a3a" stroke-width="1.3" stroke-dasharray="4.0 2.4" stroke-dashoffset="5.2"/>
<line x1="70.1" y1="1019.70" x2="87.4" y2="1019.70" stroke="#333" stroke-width="1.1"/>
<line x1="70.60" y1="1022.90" x2="86.90" y2="1022.90" stroke="#3a3a3a" stroke-width="1.3" stroke-dasharray="4.0 2.4" stroke-dashoffset="3.2"/>
<line x1="70.1" y1="1026.10" x2="87.4" y2="1026.10" stroke="#333" stroke-width="1.1"/>
<line x1="70.60" y1="1029.30" x2="86.90" y2="1029.30" stroke="#3a3a3a" stroke-width="1.3" stroke-dasharray="4.0 2.4" stroke-dashoffset="5.2"/>
<line x1="70.1" y1="1032.50" x2="87.4" y2="1032.50" stroke="#333" stroke-width="1.1"/>
<line x1="70.60" y1="1035.70" x2="86.90" y2="1035.70" stroke="#3a3a3a" stroke-width="1.3" stroke-dasharray="4.0 2.4" stroke-dashoffset="3.2"/>
<line x1="70.1" y1="1038.90" x2="87.4" y2="1038.90" stroke="#333" stroke-width="1.1"/>
<line x1="70.60" y1="1042.10" x2="86.90" y2="1042.10" stroke="#3a3a3a" stroke-width="1.3" stroke-dasharray="4.0 2.4" stroke-dashoffset="5.2"/>
<line x1="70.1" y1="1045.30" x2="87.4" y2="1045.30" stroke="#333" stroke-width="1.1"/>
<line x1="70.60" y1="1048.50" x2="86.90" y2="1048.50" stroke="#3a3a3a" stroke-width="1.3" stroke-dasharray="4.0 2.4" stroke-dashoffset="3.2"/>
<line x1="70.1" y1="1051.70" x2="87.4" y2="1051.70" stroke="#333" stroke-width="1.1"/>
<line x1="70.60" y1="1054.90" x2="86.90" y2="1054.90" stroke="#3a3a3a" stroke-width="1.3" stroke-dasharray="4.0 2.4" stroke-dashoffset="5.2"/>
<line x1="70.1" y1="1058.10" x2="87.4" y2="1058.10" stroke="#333" stroke-width="1.1"/>
<line x1="70.60" y1="1061.30" x2="86.90" y2="1061.30" stroke="#3a3a3a" stroke-width="1.3" stroke-dasharray="4.0 2.4" stroke-dashoffset="3.2"/>
<line x1="70.1" y1="1063.10" x2="87.4" y2="1063.10" stroke="#333" stroke-width="1.6"/>
<line x1="93.7" y1="845.4" x2="191.4" y2="845.4" stroke="#666" stroke-width="1"/>
<line x1="93.70" y1="840.4" x2="93.70" y2="845.4" stroke="#666" stroke-width="1"/>
<line x1="103.47" y1="842.4" x2="103.47" y2="845.4" stroke="#666" stroke-width="1"/>
<line x1="113.24" y1="840.4" x2="113.24" y2="845.4" stroke="#666" stroke-width="1"/>
<line x1="123.01" y1="842.4" x2="123.01" y2="845.4" stroke="#666" stroke-width="1"/>
<line x1="132.78" y1="840.4" x2="132.78" y2="845.4" stroke="#666" stroke-width="1"/>
<line x1="142.55" y1="842.4" x2="142.55" y2="845.4" stroke="#666" stroke-width="1"/>
<line x1="152.32" y1="840.4" x2="152.32" y2="845.4" stroke="#666" stroke-width="1"/>
<line x1="162.09" y1="842.4" x2="162.09" y2="845.4" stroke="#666" stroke-width="1"/>
<line x1="171.86" y1="840.4" x2="171.86" y2="845.4" stroke="#666" stroke-width="1"/>
<line x1="181.63" y1="842.4" x2="181.63" y2="845.4" stroke="#666" stroke-width="1"/>
<line x1="191.40" y1="840.4" x2="191.40" y2="845.4" stroke="#666" stroke-width="1"/>
<text transform="translate(90.34,837.80) scale(1.0,1.0)" text-anchor="start" font-size="12.1" fill="#333">0</text>
<text transform="translate(126.16,837.80) scale(1.0,1.0)" text-anchor="start" font-size="12.1" fill="#333">40</text>
<text transform="translate(165.11,837.80) scale(1.0,1.0)" text-anchor="start" font-size="12.1" fill="#333">80</text>
<text transform="translate(83.82,820.30) scale(1.0,1.0)" text-anchor="start" font-size="13.0" fill="#333">Organic matter (%)</text>
<text transform="translate(71.65,837.50) scale(1.0,1.0)" text-anchor="start" font-size="12.8" fill="#333">Z1</text>
<rect x="216.6" y="847.1" width="16.90" height="95.20" fill="#999" stroke="#555" stroke-width="1"/>
<rect x="216.6" y="942.3" width="16.90" height="55.70" fill="#fff" stroke="#555" stroke-width="1"/>
<line x1="217.10" y1="944.30" x2="233.00" y2="944.30" stroke="#3a3a3a" stroke-width="1.3" stroke-dasharray="4.0 2.4" stroke-dashoffset="3.2"/>
<line x1="216.6" y1="947.50" x2="233.5" y2="947.50" stroke="#333" stroke-width="1.1"/>
<line x1="217.10" y1="950.70" x2="233.00" y2="950.70" stroke="#3a3a3a" stroke-width="1.3" stroke-dasharray="4.0 2.4" stroke-dashoffset="5.2"/>
<line x1="216.6" y1="953.90" x2="233.5" y2="953.90" stroke="#333" stroke-width="1.1"/>
<line x1="217.10" y1="957.10" x2="233.00" y2="957.10" stroke="#3a3a3a" stroke-width="1.3" stroke-dasharray="4.0 2.4" stroke-dashoffset="3.2"/>
<line x1="216.6" y1="960.30" x2="233.5" y2="960.30" stroke="#333" stroke-width="1.1"/>
<line x1="217.10" y1="963.50" x2="233.00" y2="963.50" stroke="#3a3a3a" stroke-width="1.3" stroke-dasharray="4.0 2.4" stroke-dashoffset="5.2"/>
<line x1="216.6" y1="966.70" x2="233.5" y2="966.70" stroke="#333" stroke-width="1.1"/>
<line x1="217.10" y1="969.90" x2="233.00" y2="969.90" stroke="#3a3a3a" stroke-width="1.3" stroke-dasharray="4.0 2.4" stroke-dashoffset="3.2"/>
<line x1="216.6" y1="973.10" x2="233.5" y2="973.10" stroke="#333" stroke-width="1.1"/>
<line x1="217.10" y1="976.30" x2="233.00" y2="976.30" stroke="#3a3a3a" stroke-width="1.3" stroke-dasharray="4.0 2.4" stroke-dashoffset="5.2"/>
<line x1="216.6" y1="979.50" x2="233.5" y2="979.50" stroke="#333" stroke-width="1.1"/>
<line x1="217.10" y1="982.70" x2="233.00" y2="982.70" stroke="#3a3a3a" stroke-width="1.3" stroke-dasharray="4.0 2.4" stroke-dashoffset="3.2"/>
<line x1="216.6" y1="985.90" x2="233.5" y2="985.90" stroke="#333" stroke-width="1.1"/>
<line x1="217.10" y1="989.10" x2="233.00" y2="989.10" stroke="#3a3a3a" stroke-width="1.3" stroke-dasharray="4.0 2.4" stroke-dashoffset="5.2"/>
<line x1="216.6" y1="992.30" x2="233.5" y2="992.30" stroke="#333" stroke-width="1.1"/>
<line x1="217.10" y1="995.50" x2="233.00" y2="995.50" stroke="#3a3a3a" stroke-width="1.3" stroke-dasharray="4.0 2.4" stroke-dashoffset="3.2"/>
<line x1="216.6" y1="997.40" x2="233.5" y2="997.40" stroke="#333" stroke-width="1.6"/>
<line x1="238.8" y1="845.4" x2="336.6" y2="845.4" stroke="#666" stroke-width="1"/>
<line x1="238.80" y1="840.4" x2="238.80" y2="845.4" stroke="#666" stroke-width="1"/>
<line x1="248.58" y1="842.4" x2="248.58" y2="845.4" stroke="#666" stroke-width="1"/>
<line x1="258.36" y1="840.4" x2="258.36" y2="845.4" stroke="#666" stroke-width="1"/>
<line x1="268.14" y1="842.4" x2="268.14" y2="845.4" stroke="#666" stroke-width="1"/>
<line x1="277.92" y1="840.4" x2="277.92" y2="845.4" stroke="#666" stroke-width="1"/>
<line x1="287.70" y1="842.4" x2="287.70" y2="845.4" stroke="#666" stroke-width="1"/>
<line x1="297.48" y1="840.4" x2="297.48" y2="845.4" stroke="#666" stroke-width="1"/>
<line x1="307.26" y1="842.4" x2="307.26" y2="845.4" stroke="#666" stroke-width="1"/>
<line x1="317.04" y1="840.4" x2="317.04" y2="845.4" stroke="#666" stroke-width="1"/>
<line x1="326.82" y1="842.4" x2="326.82" y2="845.4" stroke="#666" stroke-width="1"/>
<line x1="336.60" y1="840.4" x2="336.60" y2="845.4" stroke="#666" stroke-width="1"/>
<text transform="translate(235.44,837.80) scale(1.0,1.0)" text-anchor="start" font-size="12.1" fill="#333">0</text>
<text transform="translate(271.30,837.80) scale(1.0,1.0)" text-anchor="start" font-size="12.1" fill="#333">40</text>
<text transform="translate(310.29,837.80) scale(1.0,1.0)" text-anchor="start" font-size="12.1" fill="#333">80</text>
<text transform="translate(229.02,820.30) scale(1.0,1.0)" text-anchor="start" font-size="13.0" fill="#333">Organic matter (%)</text>
<text transform="translate(215.95,837.50) scale(1.0,1.0)" text-anchor="start" font-size="12.8" fill="#333">X2</text>
<rect x="364.3" y="847.5" width="17.60" height="145.10" fill="#999" stroke="#555" stroke-width="1"/>
<rect x="364.3" y="992.6" width="17.60" height="36.80" fill="#fff" stroke="#555" stroke-width="1"/>
<line x1="364.80" y1="994.60" x2="381.40" y2="994.60" stroke="#3a3a3a" stroke-width="1.3" stroke-dasharray="4.0 2.4" stroke-dashoffset="3.2"/>
<line x1="364.3" y1="997.80" x2="381.9" y2="997.80" stroke="#333" stroke-width="1.1"/>
<line x1="364.80" y1="1001.00" x2="381.40" y2="1001.00" stroke="#3a3a3a" stroke-width="1.3" stroke-dasharray="4.0 2.4" stroke-dashoffset="5.2"/>
<line x1="364.3" y1="1004.20" x2="381.9" y2="1004.20" stroke="#333" stroke-width="1.1"/>
<line x1="364.80" y1="1007.40" x2="381.40" y2="1007.40" stroke="#3a3a3a" stroke-width="1.3" stroke-dasharray="4.0 2.4" stroke-dashoffset="3.2"/>
<line x1="364.3" y1="1010.60" x2="381.9" y2="1010.60" stroke="#333" stroke-width="1.1"/>
<line x1="364.80" y1="1013.80" x2="381.40" y2="1013.80" stroke="#3a3a3a" stroke-width="1.3" stroke-dasharray="4.0 2.4" stroke-dashoffset="5.2"/>
<line x1="364.3" y1="1017.00" x2="381.9" y2="1017.00" stroke="#333" stroke-width="1.1"/>
<line x1="364.80" y1="1020.20" x2="381.40" y2="1020.20" stroke="#3a3a3a" stroke-width="1.3" stroke-dasharray="4.0 2.4" stroke-dashoffset="3.2"/>
<line x1="364.3" y1="1023.40" x2="381.9" y2="1023.40" stroke="#333" stroke-width="1.1"/>
<line x1="364.80" y1="1026.60" x2="381.40" y2="1026.60" stroke="#3a3a3a" stroke-width="1.3" stroke-dasharray="4.0 2.4" stroke-dashoffset="5.2"/>
<line x1="364.3" y1="1028.80" x2="381.9" y2="1028.80" stroke="#333" stroke-width="1.6"/>
<line x1="388.5" y1="845.4" x2="486.0" y2="845.4" stroke="#666" stroke-width="1"/>
<line x1="388.50" y1="840.4" x2="388.50" y2="845.4" stroke="#666" stroke-width="1"/>
<line x1="398.25" y1="842.4" x2="398.25" y2="845.4" stroke="#666" stroke-width="1"/>
<line x1="408.00" y1="840.4" x2="408.00" y2="845.4" stroke="#666" stroke-width="1"/>
<line x1="417.75" y1="842.4" x2="417.75" y2="845.4" stroke="#666" stroke-width="1"/>
<line x1="427.50" y1="840.4" x2="427.50" y2="845.4" stroke="#666" stroke-width="1"/>
<line x1="437.25" y1="842.4" x2="437.25" y2="845.4" stroke="#666" stroke-width="1"/>
<line x1="447.00" y1="840.4" x2="447.00" y2="845.4" stroke="#666" stroke-width="1"/>
<line x1="456.75" y1="842.4" x2="456.75" y2="845.4" stroke="#666" stroke-width="1"/>
<line x1="466.50" y1="840.4" x2="466.50" y2="845.4" stroke="#666" stroke-width="1"/>
<line x1="476.25" y1="842.4" x2="476.25" y2="845.4" stroke="#666" stroke-width="1"/>
<line x1="486.00" y1="840.4" x2="486.00" y2="845.4" stroke="#666" stroke-width="1"/>
<text transform="translate(385.14,837.80) scale(1.0,1.0)" text-anchor="start" font-size="12.1" fill="#333">0</text>
<text transform="translate(420.88,837.80) scale(1.0,1.0)" text-anchor="start" font-size="12.1" fill="#333">40</text>
<text transform="translate(459.75,837.80) scale(1.0,1.0)" text-anchor="start" font-size="12.1" fill="#333">80</text>
<text transform="translate(378.42,820.30) scale(1.0,1.0)" text-anchor="start" font-size="13.0" fill="#333">Organic matter (%)</text>
<text transform="translate(364.75,837.50) scale(1.0,1.0)" text-anchor="start" font-size="12.8" fill="#333">X1</text>
<rect x="508.9" y="847.5" width="17.30" height="100.40" fill="#999" stroke="#555" stroke-width="1"/>
<rect x="508.9" y="947.9" width="17.30" height="93.60" fill="#fff" stroke="#555" stroke-width="1"/>
<line x1="509.40" y1="949.90" x2="525.70" y2="949.90" stroke="#3a3a3a" stroke-width="1.3" stroke-dasharray="4.0 2.4" stroke-dashoffset="3.2"/>
<line x1="508.9" y1="953.10" x2="526.2" y2="953.10" stroke="#333" stroke-width="1.1"/>
<line x1="509.40" y1="956.30" x2="525.70" y2="956.30" stroke="#3a3a3a" stroke-width="1.3" stroke-dasharray="4.0 2.4" stroke-dashoffset="5.2"/>
<line x1="508.9" y1="959.50" x2="526.2" y2="959.50" stroke="#333" stroke-width="1.1"/>
<line x1="509.40" y1="962.70" x2="525.70" y2="962.70" stroke="#3a3a3a" stroke-width="1.3" stroke-dasharray="4.0 2.4" stroke-dashoffset="3.2"/>
<line x1="508.9" y1="965.90" x2="526.2" y2="965.90" stroke="#333" stroke-width="1.1"/>
<line x1="509.40" y1="969.10" x2="525.70" y2="969.10" stroke="#3a3a3a" stroke-width="1.3" stroke-dasharray="4.0 2.4" stroke-dashoffset="5.2"/>
<line x1="508.9" y1="972.30" x2="526.2" y2="972.30" stroke="#333" stroke-width="1.1"/>
<line x1="509.40" y1="975.50" x2="525.70" y2="975.50" stroke="#3a3a3a" stroke-width="1.3" stroke-dasharray="4.0 2.4" stroke-dashoffset="3.2"/>
<line x1="508.9" y1="978.70" x2="526.2" y2="978.70" stroke="#333" stroke-width="1.1"/>
<line x1="509.40" y1="981.90" x2="525.70" y2="981.90" stroke="#3a3a3a" stroke-width="1.3" stroke-dasharray="4.0 2.4" stroke-dashoffset="5.2"/>
<line x1="508.9" y1="985.10" x2="526.2" y2="985.10" stroke="#333" stroke-width="1.1"/>
<line x1="509.40" y1="988.30" x2="525.70" y2="988.30" stroke="#3a3a3a" stroke-width="1.3" stroke-dasharray="4.0 2.4" stroke-dashoffset="3.2"/>
<line x1="508.9" y1="991.50" x2="526.2" y2="991.50" stroke="#333" stroke-width="1.1"/>
<line x1="509.40" y1="994.70" x2="525.70" y2="994.70" stroke="#3a3a3a" stroke-width="1.3" stroke-dasharray="4.0 2.4" stroke-dashoffset="5.2"/>
<line x1="508.9" y1="997.90" x2="526.2" y2="997.90" stroke="#333" stroke-width="1.1"/>
<line x1="509.40" y1="1001.10" x2="525.70" y2="1001.10" stroke="#3a3a3a" stroke-width="1.3" stroke-dasharray="4.0 2.4" stroke-dashoffset="3.2"/>
<line x1="508.9" y1="1004.30" x2="526.2" y2="1004.30" stroke="#333" stroke-width="1.1"/>
<line x1="509.40" y1="1007.50" x2="525.70" y2="1007.50" stroke="#3a3a3a" stroke-width="1.3" stroke-dasharray="4.0 2.4" stroke-dashoffset="5.2"/>
<line x1="508.9" y1="1010.70" x2="526.2" y2="1010.70" stroke="#333" stroke-width="1.1"/>
<line x1="509.40" y1="1013.90" x2="525.70" y2="1013.90" stroke="#3a3a3a" stroke-width="1.3" stroke-dasharray="4.0 2.4" stroke-dashoffset="3.2"/>
<line x1="508.9" y1="1017.10" x2="526.2" y2="1017.10" stroke="#333" stroke-width="1.1"/>
<line x1="509.40" y1="1020.30" x2="525.70" y2="1020.30" stroke="#3a3a3a" stroke-width="1.3" stroke-dasharray="4.0 2.4" stroke-dashoffset="5.2"/>
<line x1="508.9" y1="1023.50" x2="526.2" y2="1023.50" stroke="#333" stroke-width="1.1"/>
<line x1="509.40" y1="1026.70" x2="525.70" y2="1026.70" stroke="#3a3a3a" stroke-width="1.3" stroke-dasharray="4.0 2.4" stroke-dashoffset="3.2"/>
<line x1="508.9" y1="1029.90" x2="526.2" y2="1029.90" stroke="#333" stroke-width="1.1"/>
<line x1="509.40" y1="1033.10" x2="525.70" y2="1033.10" stroke="#3a3a3a" stroke-width="1.3" stroke-dasharray="4.0 2.4" stroke-dashoffset="5.2"/>
<line x1="508.9" y1="1036.30" x2="526.2" y2="1036.30" stroke="#333" stroke-width="1.1"/>
<line x1="509.40" y1="1039.50" x2="525.70" y2="1039.50" stroke="#3a3a3a" stroke-width="1.3" stroke-dasharray="4.0 2.4" stroke-dashoffset="3.2"/>
<line x1="508.9" y1="1040.90" x2="526.2" y2="1040.90" stroke="#333" stroke-width="1.6"/>
<line x1="532.3" y1="845.4" x2="630.1" y2="845.4" stroke="#666" stroke-width="1"/>
<line x1="532.30" y1="840.4" x2="532.30" y2="845.4" stroke="#666" stroke-width="1"/>
<line x1="542.08" y1="842.4" x2="542.08" y2="845.4" stroke="#666" stroke-width="1"/>
<line x1="551.86" y1="840.4" x2="551.86" y2="845.4" stroke="#666" stroke-width="1"/>
<line x1="561.64" y1="842.4" x2="561.64" y2="845.4" stroke="#666" stroke-width="1"/>
<line x1="571.42" y1="840.4" x2="571.42" y2="845.4" stroke="#666" stroke-width="1"/>
<line x1="581.20" y1="842.4" x2="581.20" y2="845.4" stroke="#666" stroke-width="1"/>
<line x1="590.98" y1="840.4" x2="590.98" y2="845.4" stroke="#666" stroke-width="1"/>
<line x1="600.76" y1="842.4" x2="600.76" y2="845.4" stroke="#666" stroke-width="1"/>
<line x1="610.54" y1="840.4" x2="610.54" y2="845.4" stroke="#666" stroke-width="1"/>
<line x1="620.32" y1="842.4" x2="620.32" y2="845.4" stroke="#666" stroke-width="1"/>
<line x1="630.10" y1="840.4" x2="630.10" y2="845.4" stroke="#666" stroke-width="1"/>
<text transform="translate(528.94,837.80) scale(1.0,1.0)" text-anchor="start" font-size="12.1" fill="#333">0</text>
<text transform="translate(564.80,837.80) scale(1.0,1.0)" text-anchor="start" font-size="12.1" fill="#333">40</text>
<text transform="translate(603.79,837.80) scale(1.0,1.0)" text-anchor="start" font-size="12.1" fill="#333">80</text>
<text transform="translate(522.52,820.30) scale(1.0,1.0)" text-anchor="start" font-size="13.0" fill="#333">Organic matter (%)</text>
<text transform="translate(508.76,837.50) scale(1.0,1.0)" text-anchor="start" font-size="12.8" fill="#333">ZJ</text>
<rect x="652.2" y="847.5" width="17.00" height="107.40" fill="#999" stroke="#555" stroke-width="1"/>
<rect x="652.2" y="954.9" width="17.00" height="41.60" fill="#fff" stroke="#555" stroke-width="1"/>
<line x1="652.70" y1="956.90" x2="668.70" y2="956.90" stroke="#3a3a3a" stroke-width="1.3" stroke-dasharray="4.0 2.4" stroke-dashoffset="3.2"/>
<line x1="652.2" y1="960.10" x2="669.2" y2="960.10" stroke="#333" stroke-width="1.1"/>
<line x1="652.70" y1="963.30" x2="668.70" y2="963.30" stroke="#3a3a3a" stroke-width="1.3" stroke-dasharray="4.0 2.4" stroke-dashoffset="5.2"/>
<line x1="652.2" y1="966.50" x2="669.2" y2="966.50" stroke="#333" stroke-width="1.1"/>
<line x1="652.70" y1="969.70" x2="668.70" y2="969.70" stroke="#3a3a3a" stroke-width="1.3" stroke-dasharray="4.0 2.4" stroke-dashoffset="3.2"/>
<line x1="652.2" y1="972.90" x2="669.2" y2="972.90" stroke="#333" stroke-width="1.1"/>
<line x1="652.70" y1="976.10" x2="668.70" y2="976.10" stroke="#3a3a3a" stroke-width="1.3" stroke-dasharray="4.0 2.4" stroke-dashoffset="5.2"/>
<line x1="652.2" y1="979.30" x2="669.2" y2="979.30" stroke="#333" stroke-width="1.1"/>
<line x1="652.70" y1="982.50" x2="668.70" y2="982.50" stroke="#3a3a3a" stroke-width="1.3" stroke-dasharray="4.0 2.4" stroke-dashoffset="3.2"/>
<line x1="652.2" y1="985.70" x2="669.2" y2="985.70" stroke="#333" stroke-width="1.1"/>
<line x1="652.70" y1="988.90" x2="668.70" y2="988.90" stroke="#3a3a3a" stroke-width="1.3" stroke-dasharray="4.0 2.4" stroke-dashoffset="5.2"/>
<line x1="652.2" y1="992.10" x2="669.2" y2="992.10" stroke="#333" stroke-width="1.1"/>
<line x1="652.70" y1="995.30" x2="668.70" y2="995.30" stroke="#3a3a3a" stroke-width="1.3" stroke-dasharray="4.0 2.4" stroke-dashoffset="3.2"/>
<line x1="652.2" y1="995.90" x2="669.2" y2="995.90" stroke="#333" stroke-width="1.6"/>
<line x1="677.3" y1="845.4" x2="774.6" y2="845.4" stroke="#666" stroke-width="1"/>
<line x1="677.30" y1="840.4" x2="677.30" y2="845.4" stroke="#666" stroke-width="1"/>
<line x1="687.03" y1="842.4" x2="687.03" y2="845.4" stroke="#666" stroke-width="1"/>
<line x1="696.76" y1="840.4" x2="696.76" y2="845.4" stroke="#666" stroke-width="1"/>
<line x1="706.49" y1="842.4" x2="706.49" y2="845.4" stroke="#666" stroke-width="1"/>
<line x1="716.22" y1="840.4" x2="716.22" y2="845.4" stroke="#666" stroke-width="1"/>
<line x1="725.95" y1="842.4" x2="725.95" y2="845.4" stroke="#666" stroke-width="1"/>
<line x1="735.68" y1="840.4" x2="735.68" y2="845.4" stroke="#666" stroke-width="1"/>
<line x1="745.41" y1="842.4" x2="745.41" y2="845.4" stroke="#666" stroke-width="1"/>
<line x1="755.14" y1="840.4" x2="755.14" y2="845.4" stroke="#666" stroke-width="1"/>
<line x1="764.87" y1="842.4" x2="764.87" y2="845.4" stroke="#666" stroke-width="1"/>
<line x1="774.60" y1="840.4" x2="774.60" y2="845.4" stroke="#666" stroke-width="1"/>
<text transform="translate(673.94,837.80) scale(1.0,1.0)" text-anchor="start" font-size="12.1" fill="#333">0</text>
<text transform="translate(709.60,837.80) scale(1.0,1.0)" text-anchor="start" font-size="12.1" fill="#333">40</text>
<text transform="translate(748.39,837.80) scale(1.0,1.0)" text-anchor="start" font-size="12.1" fill="#333">80</text>
<text transform="translate(667.02,820.30) scale(1.0,1.0)" text-anchor="start" font-size="13.0" fill="#333">Organic matter (%)</text>
<text transform="translate(652.09,837.50) scale(1.0,1.0)" text-anchor="start" font-size="12.8" fill="#333">W2</text>
<polyline points="176.2,847.7 173.5,850.4 173.0,853.6 174.6,855.2 168.7,856.8 152.5,859.0 167.6,861.4 159.0,863.3 155.2,866.5 152.0,870.8 152.5,873.0 160.6,875.7 165.5,877.3 161.1,882.7 159.5,885.9 167.1,888.6 166.5,891.3 158.5,893.5 160.1,897.2 157.4,904.2 159.0,908.5 157.4,911.2 162.2,913.4 159.0,915.5 160.6,918.2 153.6,920.4 154.1,922.5 150.4,925.2 153.1,927.9 148.8,931.7 153.6,933.8 147.7,936.3 166.0,938.5 152.5,942.4 149.3,946.2 149.8,948.4 156.3,952.1 148.8,954.3 149.9,958.2 144.5,963.1 151.0,965.8 136.5,968.5 137.5,970.1 134.8,973.8 130.0,974.9 109.3,978.2 110.1,980.5 105.9,982.5 111.3,984.9 107.3,987.1 105.9,991.6 106.1,996.0 105.5,998.4 106.1,1001.3 109.7,1002.9 106.5,1005.3 108.3,1007.5 108.1,1010.1 105.7,1011.6 105.3,1014.2 108.2,1016.3 120.2,1018.7 108.2,1021.2 113.3,1023.2 114.4,1025.8 109.0,1027.9 113.1,1030.3 113.8,1031.6 108.0,1032.6 109.0,1036.5 106.7,1038.5 108.0,1041.7 107.7,1044.3 111.8,1046.0 108.2,1048.1 107.3,1050.5 109.3,1052.9 111.8,1054.2 107.7,1057.0 107.3,1059.8" fill="none" stroke="#3a3a3a" stroke-width="0.85" stroke-linejoin="round"/>
<circle cx="176.2" cy="847.7" r="0.85" fill="#1a1a1a"/>
<circle cx="173.5" cy="850.4" r="0.85" fill="#1a1a1a"/>
<circle cx="173.0" cy="853.6" r="0.85" fill="#1a1a1a"/>
<circle cx="174.6" cy="855.2" r="0.85" fill="#1a1a1a"/>
<circle cx="168.7" cy="856.8" r="0.85" fill="#1a1a1a"/>
<circle cx="152.5" cy="859.0" r="0.85" fill="#1a1a1a"/>
<circle cx="167.6" cy="861.4" r="0.85" fill="#1a1a1a"/>
<circle cx="159.0" cy="863.3" r="0.85" fill="#1a1a1a"/>
<circle cx="155.2" cy="866.5" r="0.85" fill="#1a1a1a"/>
<circle cx="152.0" cy="870.8" r="0.85" fill="#1a1a1a"/>
<circle cx="152.5" cy="873.0" r="0.85" fill="#1a1a1a"/>
<circle cx="160.6" cy="875.7" r="0.85" fill="#1a1a1a"/>
<circle cx="165.5" cy="877.3" r="0.85" fill="#1a1a1a"/>
<circle cx="161.1" cy="882.7" r="0.85" fill="#1a1a1a"/>
<circle cx="159.5" cy="885.9" r="0.85" fill="#1a1a1a"/>
<circle cx="167.1" cy="888.6" r="0.85" fill="#1a1a1a"/>
<circle cx="166.5" cy="891.3" r="0.85" fill="#1a1a1a"/>
<circle cx="158.5" cy="893.5" r="0.85" fill="#1a1a1a"/>
<circle cx="160.1" cy="897.2" r="0.85" fill="#1a1a1a"/>
<circle cx="157.4" cy="904.2" r="0.85" fill="#1a1a1a"/>
<circle cx="159.0" cy="908.5" r="0.85" fill="#1a1a1a"/>
<circle cx="157.4" cy="911.2" r="0.85" fill="#1a1a1a"/>
<circle cx="162.2" cy="913.4" r="0.85" fill="#1a1a1a"/>
<circle cx="159.0" cy="915.5" r="0.85" fill="#1a1a1a"/>
<circle cx="160.6" cy="918.2" r="0.85" fill="#1a1a1a"/>
<circle cx="153.6" cy="920.4" r="0.85" fill="#1a1a1a"/>
<circle cx="154.1" cy="922.5" r="0.85" fill="#1a1a1a"/>
<circle cx="150.4" cy="925.2" r="0.85" fill="#1a1a1a"/>
<circle cx="153.1" cy="927.9" r="0.85" fill="#1a1a1a"/>
<circle cx="148.8" cy="931.7" r="0.85" fill="#1a1a1a"/>
<circle cx="153.6" cy="933.8" r="0.85" fill="#1a1a1a"/>
<circle cx="147.7" cy="936.3" r="0.85" fill="#1a1a1a"/>
<circle cx="166.0" cy="938.5" r="0.85" fill="#1a1a1a"/>
<circle cx="152.5" cy="942.4" r="0.85" fill="#1a1a1a"/>
<circle cx="149.3" cy="946.2" r="0.85" fill="#1a1a1a"/>
<circle cx="149.8" cy="948.4" r="0.85" fill="#1a1a1a"/>
<circle cx="156.3" cy="952.1" r="0.85" fill="#1a1a1a"/>
<circle cx="148.8" cy="954.3" r="0.85" fill="#1a1a1a"/>
<circle cx="149.9" cy="958.2" r="0.85" fill="#1a1a1a"/>
<circle cx="144.5" cy="963.1" r="0.85" fill="#1a1a1a"/>
<circle cx="151.0" cy="965.8" r="0.85" fill="#1a1a1a"/>
<circle cx="136.5" cy="968.5" r="0.85" fill="#1a1a1a"/>
<circle cx="137.5" cy="970.1" r="0.85" fill="#1a1a1a"/>
<circle cx="134.8" cy="973.8" r="0.85" fill="#1a1a1a"/>
<circle cx="130.0" cy="974.9" r="0.85" fill="#1a1a1a"/>
<circle cx="109.3" cy="978.2" r="0.85" fill="#1a1a1a"/>
<circle cx="110.1" cy="980.5" r="0.85" fill="#1a1a1a"/>
<circle cx="105.9" cy="982.5" r="0.85" fill="#1a1a1a"/>
<circle cx="111.3" cy="984.9" r="0.85" fill="#1a1a1a"/>
<circle cx="107.3" cy="987.1" r="0.85" fill="#1a1a1a"/>
<circle cx="105.9" cy="991.6" r="0.85" fill="#1a1a1a"/>
<circle cx="106.1" cy="996.0" r="0.85" fill="#1a1a1a"/>
<circle cx="105.5" cy="998.4" r="0.85" fill="#1a1a1a"/>
<circle cx="106.1" cy="1001.3" r="0.85" fill="#1a1a1a"/>
<circle cx="109.7" cy="1002.9" r="0.85" fill="#1a1a1a"/>
<circle cx="106.5" cy="1005.3" r="0.85" fill="#1a1a1a"/>
<circle cx="108.3" cy="1007.5" r="0.85" fill="#1a1a1a"/>
<circle cx="108.1" cy="1010.1" r="0.85" fill="#1a1a1a"/>
<circle cx="105.7" cy="1011.6" r="0.85" fill="#1a1a1a"/>
<circle cx="105.3" cy="1014.2" r="0.85" fill="#1a1a1a"/>
<circle cx="108.2" cy="1016.3" r="0.85" fill="#1a1a1a"/>
<circle cx="120.2" cy="1018.7" r="0.85" fill="#1a1a1a"/>
<circle cx="108.2" cy="1021.2" r="0.85" fill="#1a1a1a"/>
<circle cx="113.3" cy="1023.2" r="0.85" fill="#1a1a1a"/>
<circle cx="114.4" cy="1025.8" r="0.85" fill="#1a1a1a"/>
<circle cx="109.0" cy="1027.9" r="0.85" fill="#1a1a1a"/>
<circle cx="113.1" cy="1030.3" r="0.85" fill="#1a1a1a"/>
<circle cx="113.8" cy="1031.6" r="0.85" fill="#1a1a1a"/>
<circle cx="108.0" cy="1032.6" r="0.85" fill="#1a1a1a"/>
<circle cx="109.0" cy="1036.5" r="0.85" fill="#1a1a1a"/>
<circle cx="106.7" cy="1038.5" r="0.85" fill="#1a1a1a"/>
<circle cx="108.0" cy="1041.7" r="0.85" fill="#1a1a1a"/>
<circle cx="107.7" cy="1044.3" r="0.85" fill="#1a1a1a"/>
<circle cx="111.8" cy="1046.0" r="0.85" fill="#1a1a1a"/>
<circle cx="108.2" cy="1048.1" r="0.85" fill="#1a1a1a"/>
<circle cx="107.3" cy="1050.5" r="0.85" fill="#1a1a1a"/>
<circle cx="109.3" cy="1052.9" r="0.85" fill="#1a1a1a"/>
<circle cx="111.8" cy="1054.2" r="0.85" fill="#1a1a1a"/>
<circle cx="107.7" cy="1057.0" r="0.85" fill="#1a1a1a"/>
<circle cx="107.3" cy="1059.8" r="0.85" fill="#1a1a1a"/>
<polyline points="316.5,848.0 322.1,850.1 319.5,852.6 321.1,855.7 318.5,858.2 321.6,860.8 316.0,864.8 319.5,867.4 317.0,871.4 319.5,874.0 316.5,877.5 317.5,880.1 321.1,884.1 313.4,886.2 320.1,889.2 314.0,891.8 317.0,894.8 325.1,896.3 317.0,898.4 313.4,906.0 301.8,908.5 313.4,910.1 305.3,915.1 314.0,917.7 313.4,920.2 295.2,924.8 295.7,927.3 322.1,929.4 294.6,931.9 302.3,934.5 300.8,939.0 251.5,944.0 263.3,946.5 251.5,948.6 251.7,951.3 253.6,953.4 250.4,956.1 261.4,958.5 255.2,961.2 257.6,963.4 253.1,965.8 259.2,968.0 253.3,970.4 257.4,972.5 249.8,975.2 262.7,977.6 252.3,982.5 257.4,989.5 253.9,992.2 253.1,997.0" fill="none" stroke="#3a3a3a" stroke-width="0.85" stroke-linejoin="round"/>
<circle cx="316.5" cy="848.0" r="0.85" fill="#1a1a1a"/>
<circle cx="322.1" cy="850.1" r="0.85" fill="#1a1a1a"/>
<circle cx="319.5" cy="852.6" r="0.85" fill="#1a1a1a"/>
<circle cx="321.1" cy="855.7" r="0.85" fill="#1a1a1a"/>
<circle cx="318.5" cy="858.2" r="0.85" fill="#1a1a1a"/>
<circle cx="321.6" cy="860.8" r="0.85" fill="#1a1a1a"/>
<circle cx="316.0" cy="864.8" r="0.85" fill="#1a1a1a"/>
<circle cx="319.5" cy="867.4" r="0.85" fill="#1a1a1a"/>
<circle cx="317.0" cy="871.4" r="0.85" fill="#1a1a1a"/>
<circle cx="319.5" cy="874.0" r="0.85" fill="#1a1a1a"/>
<circle cx="316.5" cy="877.5" r="0.85" fill="#1a1a1a"/>
<circle cx="317.5" cy="880.1" r="0.85" fill="#1a1a1a"/>
<circle cx="321.1" cy="884.1" r="0.85" fill="#1a1a1a"/>
<circle cx="313.4" cy="886.2" r="0.85" fill="#1a1a1a"/>
<circle cx="320.1" cy="889.2" r="0.85" fill="#1a1a1a"/>
<circle cx="314.0" cy="891.8" r="0.85" fill="#1a1a1a"/>
<circle cx="317.0" cy="894.8" r="0.85" fill="#1a1a1a"/>
<circle cx="325.1" cy="896.3" r="0.85" fill="#1a1a1a"/>
<circle cx="317.0" cy="898.4" r="0.85" fill="#1a1a1a"/>
<circle cx="313.4" cy="906.0" r="0.85" fill="#1a1a1a"/>
<circle cx="301.8" cy="908.5" r="0.85" fill="#1a1a1a"/>
<circle cx="313.4" cy="910.1" r="0.85" fill="#1a1a1a"/>
<circle cx="305.3" cy="915.1" r="0.85" fill="#1a1a1a"/>
<circle cx="314.0" cy="917.7" r="0.85" fill="#1a1a1a"/>
<circle cx="313.4" cy="920.2" r="0.85" fill="#1a1a1a"/>
<circle cx="295.2" cy="924.8" r="0.85" fill="#1a1a1a"/>
<circle cx="295.7" cy="927.3" r="0.85" fill="#1a1a1a"/>
<circle cx="322.1" cy="929.4" r="0.85" fill="#1a1a1a"/>
<circle cx="294.6" cy="931.9" r="0.85" fill="#1a1a1a"/>
<circle cx="302.3" cy="934.5" r="0.85" fill="#1a1a1a"/>
<circle cx="300.8" cy="939.0" r="0.85" fill="#1a1a1a"/>
<circle cx="251.5" cy="944.0" r="0.85" fill="#1a1a1a"/>
<circle cx="263.3" cy="946.5" r="0.85" fill="#1a1a1a"/>
<circle cx="251.5" cy="948.6" r="0.85" fill="#1a1a1a"/>
<circle cx="251.7" cy="951.3" r="0.85" fill="#1a1a1a"/>
<circle cx="253.6" cy="953.4" r="0.85" fill="#1a1a1a"/>
<circle cx="250.4" cy="956.1" r="0.85" fill="#1a1a1a"/>
<circle cx="261.4" cy="958.5" r="0.85" fill="#1a1a1a"/>
<circle cx="255.2" cy="961.2" r="0.85" fill="#1a1a1a"/>
<circle cx="257.6" cy="963.4" r="0.85" fill="#1a1a1a"/>
<circle cx="253.1" cy="965.8" r="0.85" fill="#1a1a1a"/>
<circle cx="259.2" cy="968.0" r="0.85" fill="#1a1a1a"/>
<circle cx="253.3" cy="970.4" r="0.85" fill="#1a1a1a"/>
<circle cx="257.4" cy="972.5" r="0.85" fill="#1a1a1a"/>
<circle cx="249.8" cy="975.2" r="0.85" fill="#1a1a1a"/>
<circle cx="262.7" cy="977.6" r="0.85" fill="#1a1a1a"/>
<circle cx="252.3" cy="982.5" r="0.85" fill="#1a1a1a"/>
<circle cx="257.4" cy="989.5" r="0.85" fill="#1a1a1a"/>
<circle cx="253.9" cy="992.2" r="0.85" fill="#1a1a1a"/>
<circle cx="253.1" cy="997.0" r="0.85" fill="#1a1a1a"/>
<polyline points="454.5,848.2 450.0,849.0 451.7,851.1 455.7,853.1 454.5,855.5 456.1,857.9 459.3,859.5 456.9,861.2 460.1,862.4 455.3,864.8 454.5,866.8 456.5,868.4 452.5,870.4 456.1,871.7 459.3,873.3 457.3,875.3 455.7,877.7 457.7,879.7 454.1,881.8 456.1,883.8 458.9,885.8 456.9,887.4 459.3,889.0 457.7,891.4 458.9,892.7 454.5,895.1 458.1,897.1 462.2,898.7 465.4,900.3 461.8,901.5 463.0,904.8 457.7,906.0 453.7,908.0 458.9,909.6 461.3,912.4 457.7,914.1 452.9,916.1 447.6,917.3 450.4,918.9 459.3,920.5 455.7,922.1 458.1,924.6 456.5,927.4 458.1,930.6 458.1,933.2 455.7,936.1 450.8,939.3 444.4,940.5 442.0,941.3 452.5,942.5 441.2,943.3 437.1,945.3 443.6,946.6 439.5,947.4 445.2,949.4 456.5,950.2 446.8,952.6 453.3,953.8 447.6,955.0 454.1,956.7 456.5,958.3 446.8,959.9 435.5,961.9 449.2,962.7 438.7,963.9 447.6,965.1 451.3,965.9 451.7,968.0 453.7,970.0 444.4,971.2 436.3,972.0 441.2,972.4 434.7,974.0 445.2,976.0 435.5,977.3 440.3,978.5 455.3,980.9 453.3,982.5 441.2,984.9 431.5,987.4 442.8,989.4 444.5,990.6 435.8,993.1 405.3,995.7 402.8,997.2 398.2,998.7 400.2,1001.3 397.7,1003.3 400.2,1004.8 397.7,1007.4 397.2,1011.4 396.2,1015.5 401.8,1018.3 395.7,1019.6 395.2,1022.6 392.1,1026.2" fill="none" stroke="#3a3a3a" stroke-width="0.85" stroke-linejoin="round"/>
<circle cx="454.5" cy="848.2" r="0.85" fill="#1a1a1a"/>
<circle cx="450.0" cy="849.0" r="0.85" fill="#1a1a1a"/>
<circle cx="451.7" cy="851.1" r="0.85" fill="#1a1a1a"/>
<circle cx="455.7" cy="853.1" r="0.85" fill="#1a1a1a"/>
<circle cx="454.5" cy="855.5" r="0.85" fill="#1a1a1a"/>
<circle cx="456.1" cy="857.9" r="0.85" fill="#1a1a1a"/>
<circle cx="459.3" cy="859.5" r="0.85" fill="#1a1a1a"/>
<circle cx="456.9" cy="861.2" r="0.85" fill="#1a1a1a"/>
<circle cx="460.1" cy="862.4" r="0.85" fill="#1a1a1a"/>
<circle cx="455.3" cy="864.8" r="0.85" fill="#1a1a1a"/>
<circle cx="454.5" cy="866.8" r="0.85" fill="#1a1a1a"/>
<circle cx="456.5" cy="868.4" r="0.85" fill="#1a1a1a"/>
<circle cx="452.5" cy="870.4" r="0.85" fill="#1a1a1a"/>
<circle cx="456.1" cy="871.7" r="0.85" fill="#1a1a1a"/>
<circle cx="459.3" cy="873.3" r="0.85" fill="#1a1a1a"/>
<circle cx="457.3" cy="875.3" r="0.85" fill="#1a1a1a"/>
<circle cx="455.7" cy="877.7" r="0.85" fill="#1a1a1a"/>
<circle cx="457.7" cy="879.7" r="0.85" fill="#1a1a1a"/>
<circle cx="454.1" cy="881.8" r="0.85" fill="#1a1a1a"/>
<circle cx="456.1" cy="883.8" r="0.85" fill="#1a1a1a"/>
<circle cx="458.9" cy="885.8" r="0.85" fill="#1a1a1a"/>
<circle cx="456.9" cy="887.4" r="0.85" fill="#1a1a1a"/>
<circle cx="459.3" cy="889.0" r="0.85" fill="#1a1a1a"/>
<circle cx="457.7" cy="891.4" r="0.85" fill="#1a1a1a"/>
<circle cx="458.9" cy="892.7" r="0.85" fill="#1a1a1a"/>
<circle cx="454.5" cy="895.1" r="0.85" fill="#1a1a1a"/>
<circle cx="458.1" cy="897.1" r="0.85" fill="#1a1a1a"/>
<circle cx="462.2" cy="898.7" r="0.85" fill="#1a1a1a"/>
<circle cx="465.4" cy="900.3" r="0.85" fill="#1a1a1a"/>
<circle cx="461.8" cy="901.5" r="0.85" fill="#1a1a1a"/>
<circle cx="463.0" cy="904.8" r="0.85" fill="#1a1a1a"/>
<circle cx="457.7" cy="906.0" r="0.85" fill="#1a1a1a"/>
<circle cx="453.7" cy="908.0" r="0.85" fill="#1a1a1a"/>
<circle cx="458.9" cy="909.6" r="0.85" fill="#1a1a1a"/>
<circle cx="461.3" cy="912.4" r="0.85" fill="#1a1a1a"/>
<circle cx="457.7" cy="914.1" r="0.85" fill="#1a1a1a"/>
<circle cx="452.9" cy="916.1" r="0.85" fill="#1a1a1a"/>
<circle cx="447.6" cy="917.3" r="0.85" fill="#1a1a1a"/>
<circle cx="450.4" cy="918.9" r="0.85" fill="#1a1a1a"/>
<circle cx="459.3" cy="920.5" r="0.85" fill="#1a1a1a"/>
<circle cx="455.7" cy="922.1" r="0.85" fill="#1a1a1a"/>
<circle cx="458.1" cy="924.6" r="0.85" fill="#1a1a1a"/>
<circle cx="456.5" cy="927.4" r="0.85" fill="#1a1a1a"/>
<circle cx="458.1" cy="930.6" r="0.85" fill="#1a1a1a"/>
<circle cx="458.1" cy="933.2" r="0.85" fill="#1a1a1a"/>
<circle cx="455.7" cy="936.1" r="0.85" fill="#1a1a1a"/>
<circle cx="450.8" cy="939.3" r="0.85" fill="#1a1a1a"/>
<circle cx="444.4" cy="940.5" r="0.85" fill="#1a1a1a"/>
<circle cx="442.0" cy="941.3" r="0.85" fill="#1a1a1a"/>
<circle cx="452.5" cy="942.5" r="0.85" fill="#1a1a1a"/>
<circle cx="441.2" cy="943.3" r="0.85" fill="#1a1a1a"/>
<circle cx="437.1" cy="945.3" r="0.85" fill="#1a1a1a"/>
<circle cx="443.6" cy="946.6" r="0.85" fill="#1a1a1a"/>
<circle cx="439.5" cy="947.4" r="0.85" fill="#1a1a1a"/>
<circle cx="445.2" cy="949.4" r="0.85" fill="#1a1a1a"/>
<circle cx="456.5" cy="950.2" r="0.85" fill="#1a1a1a"/>
<circle cx="446.8" cy="952.6" r="0.85" fill="#1a1a1a"/>
<circle cx="453.3" cy="953.8" r="0.85" fill="#1a1a1a"/>
<circle cx="447.6" cy="955.0" r="0.85" fill="#1a1a1a"/>
<circle cx="454.1" cy="956.7" r="0.85" fill="#1a1a1a"/>
<circle cx="456.5" cy="958.3" r="0.85" fill="#1a1a1a"/>
<circle cx="446.8" cy="959.9" r="0.85" fill="#1a1a1a"/>
<circle cx="435.5" cy="961.9" r="0.85" fill="#1a1a1a"/>
<circle cx="449.2" cy="962.7" r="0.85" fill="#1a1a1a"/>
<circle cx="438.7" cy="963.9" r="0.85" fill="#1a1a1a"/>
<circle cx="447.6" cy="965.1" r="0.85" fill="#1a1a1a"/>
<circle cx="451.3" cy="965.9" r="0.85" fill="#1a1a1a"/>
<circle cx="451.7" cy="968.0" r="0.85" fill="#1a1a1a"/>
<circle cx="453.7" cy="970.0" r="0.85" fill="#1a1a1a"/>
<circle cx="444.4" cy="971.2" r="0.85" fill="#1a1a1a"/>
<circle cx="436.3" cy="972.0" r="0.85" fill="#1a1a1a"/>
<circle cx="441.2" cy="972.4" r="0.85" fill="#1a1a1a"/>
<circle cx="434.7" cy="974.0" r="0.85" fill="#1a1a1a"/>
<circle cx="445.2" cy="976.0" r="0.85" fill="#1a1a1a"/>
<circle cx="435.5" cy="977.3" r="0.85" fill="#1a1a1a"/>
<circle cx="440.3" cy="978.5" r="0.85" fill="#1a1a1a"/>
<circle cx="455.3" cy="980.9" r="0.85" fill="#1a1a1a"/>
<circle cx="453.3" cy="982.5" r="0.85" fill="#1a1a1a"/>
<circle cx="441.2" cy="984.9" r="0.85" fill="#1a1a1a"/>
<circle cx="431.5" cy="987.4" r="0.85" fill="#1a1a1a"/>
<circle cx="442.8" cy="989.4" r="0.85" fill="#1a1a1a"/>
<circle cx="444.5" cy="990.6" r="0.85" fill="#1a1a1a"/>
<circle cx="435.8" cy="993.1" r="0.85" fill="#1a1a1a"/>
<circle cx="405.3" cy="995.7" r="0.85" fill="#1a1a1a"/>
<circle cx="402.8" cy="997.2" r="0.85" fill="#1a1a1a"/>
<circle cx="398.2" cy="998.7" r="0.85" fill="#1a1a1a"/>
<circle cx="400.2" cy="1001.3" r="0.85" fill="#1a1a1a"/>
<circle cx="397.7" cy="1003.3" r="0.85" fill="#1a1a1a"/>
<circle cx="400.2" cy="1004.8" r="0.85" fill="#1a1a1a"/>
<circle cx="397.7" cy="1007.4" r="0.85" fill="#1a1a1a"/>
<circle cx="397.2" cy="1011.4" r="0.85" fill="#1a1a1a"/>
<circle cx="396.2" cy="1015.5" r="0.85" fill="#1a1a1a"/>
<circle cx="401.8" cy="1018.3" r="0.85" fill="#1a1a1a"/>
<circle cx="395.7" cy="1019.6" r="0.85" fill="#1a1a1a"/>
<circle cx="395.2" cy="1022.6" r="0.85" fill="#1a1a1a"/>
<circle cx="392.1" cy="1026.2" r="0.85" fill="#1a1a1a"/>
<polyline points="609.0,848.5 603.6,850.4 610.0,852.4 609.5,854.9 602.6,856.8 605.0,859.3 598.6,861.3 604.0,863.3 602.6,865.7 606.0,867.7 604.5,870.2 598.6,872.1 589.2,874.1 601.1,876.6 593.7,877.6 593.7,880.5 599.1,883.0 595.7,885.0 598.1,887.0 597.6,889.9 608.0,891.4 596.2,895.8 608.5,899.8 600.6,902.2 612.0,904.2 605.0,905.7 611.4,910.6 604.0,915.1 603.6,918.0 604.5,921.5 595.7,924.9 596.6,928.4 595.2,931.8 595.7,934.3 589.7,937.8 587.8,940.2 582.3,944.7 587.8,948.6 573.4,950.8 557.6,952.3 556.8,954.9 559.7,957.4 553.0,959.4 547.6,961.7 557.7,963.9 551.2,966.4 547.2,968.4 549.9,970.2 557.1,972.4 553.9,974.4 551.9,976.7 546.5,978.7 547.4,981.2 551.5,983.2 548.8,985.4 552.3,987.2 549.2,989.5 546.3,991.3 546.5,994.2 552.3,996.0 544.3,998.0 543.3,1001.7 542.2,1004.6 544.2,1008.0 545.5,1010.7 544.2,1013.1 547.3,1015.4 542.8,1017.8 542.6,1020.1 542.4,1022.8 544.6,1024.8 544.2,1027.7 544.4,1030.4 545.1,1032.2 544.9,1042.0" fill="none" stroke="#3a3a3a" stroke-width="0.85" stroke-linejoin="round"/>
<circle cx="609.0" cy="848.5" r="0.85" fill="#1a1a1a"/>
<circle cx="603.6" cy="850.4" r="0.85" fill="#1a1a1a"/>
<circle cx="610.0" cy="852.4" r="0.85" fill="#1a1a1a"/>
<circle cx="609.5" cy="854.9" r="0.85" fill="#1a1a1a"/>
<circle cx="602.6" cy="856.8" r="0.85" fill="#1a1a1a"/>
<circle cx="605.0" cy="859.3" r="0.85" fill="#1a1a1a"/>
<circle cx="598.6" cy="861.3" r="0.85" fill="#1a1a1a"/>
<circle cx="604.0" cy="863.3" r="0.85" fill="#1a1a1a"/>
<circle cx="602.6" cy="865.7" r="0.85" fill="#1a1a1a"/>
<circle cx="606.0" cy="867.7" r="0.85" fill="#1a1a1a"/>
<circle cx="604.5" cy="870.2" r="0.85" fill="#1a1a1a"/>
<circle cx="598.6" cy="872.1" r="0.85" fill="#1a1a1a"/>
<circle cx="589.2" cy="874.1" r="0.85" fill="#1a1a1a"/>
<circle cx="601.1" cy="876.6" r="0.85" fill="#1a1a1a"/>
<circle cx="593.7" cy="877.6" r="0.85" fill="#1a1a1a"/>
<circle cx="593.7" cy="880.5" r="0.85" fill="#1a1a1a"/>
<circle cx="599.1" cy="883.0" r="0.85" fill="#1a1a1a"/>
<circle cx="595.7" cy="885.0" r="0.85" fill="#1a1a1a"/>
<circle cx="598.1" cy="887.0" r="0.85" fill="#1a1a1a"/>
<circle cx="597.6" cy="889.9" r="0.85" fill="#1a1a1a"/>
<circle cx="608.0" cy="891.4" r="0.85" fill="#1a1a1a"/>
<circle cx="596.2" cy="895.8" r="0.85" fill="#1a1a1a"/>
<circle cx="608.5" cy="899.8" r="0.85" fill="#1a1a1a"/>
<circle cx="600.6" cy="902.2" r="0.85" fill="#1a1a1a"/>
<circle cx="612.0" cy="904.2" r="0.85" fill="#1a1a1a"/>
<circle cx="605.0" cy="905.7" r="0.85" fill="#1a1a1a"/>
<circle cx="611.4" cy="910.6" r="0.85" fill="#1a1a1a"/>
<circle cx="604.0" cy="915.1" r="0.85" fill="#1a1a1a"/>
<circle cx="603.6" cy="918.0" r="0.85" fill="#1a1a1a"/>
<circle cx="604.5" cy="921.5" r="0.85" fill="#1a1a1a"/>
<circle cx="595.7" cy="924.9" r="0.85" fill="#1a1a1a"/>
<circle cx="596.6" cy="928.4" r="0.85" fill="#1a1a1a"/>
<circle cx="595.2" cy="931.8" r="0.85" fill="#1a1a1a"/>
<circle cx="595.7" cy="934.3" r="0.85" fill="#1a1a1a"/>
<circle cx="589.7" cy="937.8" r="0.85" fill="#1a1a1a"/>
<circle cx="587.8" cy="940.2" r="0.85" fill="#1a1a1a"/>
<circle cx="582.3" cy="944.7" r="0.85" fill="#1a1a1a"/>
<circle cx="587.8" cy="948.6" r="0.85" fill="#1a1a1a"/>
<circle cx="573.4" cy="950.8" r="0.85" fill="#1a1a1a"/>
<circle cx="557.6" cy="952.3" r="0.85" fill="#1a1a1a"/>
<circle cx="556.8" cy="954.9" r="0.85" fill="#1a1a1a"/>
<circle cx="559.7" cy="957.4" r="0.85" fill="#1a1a1a"/>
<circle cx="553.0" cy="959.4" r="0.85" fill="#1a1a1a"/>
<circle cx="547.6" cy="961.7" r="0.85" fill="#1a1a1a"/>
<circle cx="557.7" cy="963.9" r="0.85" fill="#1a1a1a"/>
<circle cx="551.2" cy="966.4" r="0.85" fill="#1a1a1a"/>
<circle cx="547.2" cy="968.4" r="0.85" fill="#1a1a1a"/>
<circle cx="549.9" cy="970.2" r="0.85" fill="#1a1a1a"/>
<circle cx="557.1" cy="972.4" r="0.85" fill="#1a1a1a"/>
<circle cx="553.9" cy="974.4" r="0.85" fill="#1a1a1a"/>
<circle cx="551.9" cy="976.7" r="0.85" fill="#1a1a1a"/>
<circle cx="546.5" cy="978.7" r="0.85" fill="#1a1a1a"/>
<circle cx="547.4" cy="981.2" r="0.85" fill="#1a1a1a"/>
<circle cx="551.5" cy="983.2" r="0.85" fill="#1a1a1a"/>
<circle cx="548.8" cy="985.4" r="0.85" fill="#1a1a1a"/>
<circle cx="552.3" cy="987.2" r="0.85" fill="#1a1a1a"/>
<circle cx="549.2" cy="989.5" r="0.85" fill="#1a1a1a"/>
<circle cx="546.3" cy="991.3" r="0.85" fill="#1a1a1a"/>
<circle cx="546.5" cy="994.2" r="0.85" fill="#1a1a1a"/>
<circle cx="552.3" cy="996.0" r="0.85" fill="#1a1a1a"/>
<circle cx="544.3" cy="998.0" r="0.85" fill="#1a1a1a"/>
<circle cx="543.3" cy="1001.7" r="0.85" fill="#1a1a1a"/>
<circle cx="542.2" cy="1004.6" r="0.85" fill="#1a1a1a"/>
<circle cx="544.2" cy="1008.0" r="0.85" fill="#1a1a1a"/>
<circle cx="545.5" cy="1010.7" r="0.85" fill="#1a1a1a"/>
<circle cx="544.2" cy="1013.1" r="0.85" fill="#1a1a1a"/>
<circle cx="547.3" cy="1015.4" r="0.85" fill="#1a1a1a"/>
<circle cx="542.8" cy="1017.8" r="0.85" fill="#1a1a1a"/>
<circle cx="542.6" cy="1020.1" r="0.85" fill="#1a1a1a"/>
<circle cx="542.4" cy="1022.8" r="0.85" fill="#1a1a1a"/>
<circle cx="544.6" cy="1024.8" r="0.85" fill="#1a1a1a"/>
<circle cx="544.2" cy="1027.7" r="0.85" fill="#1a1a1a"/>
<circle cx="544.4" cy="1030.4" r="0.85" fill="#1a1a1a"/>
<circle cx="545.1" cy="1032.2" r="0.85" fill="#1a1a1a"/>
<circle cx="544.9" cy="1042.0" r="0.85" fill="#1a1a1a"/>
<polyline points="762.8,848.4 763.5,850.3 765.4,851.9 761.2,852.2 745.2,853.0 752.9,853.8 759.0,854.5 752.1,854.9 748.3,857.2 744.9,860.6 753.6,861.4 761.2,861.8 752.9,863.3 748.3,866.3 750.6,867.9 755.1,868.6 744.5,870.5 749.0,872.0 744.9,874.3 749.8,875.9 753.6,877.0 749.8,878.5 758.2,880.8 751.0,883.9 755.9,885.4 760.1,887.3 752.5,888.8 755.9,890.3 752.1,893.8 750.6,896.0 744.5,897.6 754.4,898.3 747.5,900.6 754.8,902.9 752.9,905.2 746.4,909.0 747.5,911.3 752.9,913.2 753.6,915.1 740.7,917.4 744.5,920.0 751.3,921.2 746.0,923.5 758.3,924.6 747.1,926.6 751.2,928.6 744.0,932.7 751.2,934.7 756.2,938.3 749.1,939.8 757.3,941.9 750.1,944.4 740.0,946.4 745.1,948.0 747.1,949.5 742.5,950.5 741.0,954.6 737.9,955.6 714.6,955.6 711.0,958.6 705.4,959.6 711.5,961.2 701.9,962.7 706.4,966.3 694.7,968.8 701.3,969.8 710.5,971.3 703.4,972.9 707.4,974.9 699.8,976.4 692.2,979.0 700.3,980.5 690.2,981.5 688.6,984.5 688.1,989.1 686.6,992.2 688.1,993.7" fill="none" stroke="#3a3a3a" stroke-width="0.85" stroke-linejoin="round"/>
<circle cx="762.8" cy="848.4" r="0.85" fill="#1a1a1a"/>
<circle cx="763.5" cy="850.3" r="0.85" fill="#1a1a1a"/>
<circle cx="765.4" cy="851.9" r="0.85" fill="#1a1a1a"/>
<circle cx="761.2" cy="852.2" r="0.85" fill="#1a1a1a"/>
<circle cx="745.2" cy="853.0" r="0.85" fill="#1a1a1a"/>
<circle cx="752.9" cy="853.8" r="0.85" fill="#1a1a1a"/>
<circle cx="759.0" cy="854.5" r="0.85" fill="#1a1a1a"/>
<circle cx="752.1" cy="854.9" r="0.85" fill="#1a1a1a"/>
<circle cx="748.3" cy="857.2" r="0.85" fill="#1a1a1a"/>
<circle cx="744.9" cy="860.6" r="0.85" fill="#1a1a1a"/>
<circle cx="753.6" cy="861.4" r="0.85" fill="#1a1a1a"/>
<circle cx="761.2" cy="861.8" r="0.85" fill="#1a1a1a"/>
<circle cx="752.9" cy="863.3" r="0.85" fill="#1a1a1a"/>
<circle cx="748.3" cy="866.3" r="0.85" fill="#1a1a1a"/>
<circle cx="750.6" cy="867.9" r="0.85" fill="#1a1a1a"/>
<circle cx="755.1" cy="868.6" r="0.85" fill="#1a1a1a"/>
<circle cx="744.5" cy="870.5" r="0.85" fill="#1a1a1a"/>
<circle cx="749.0" cy="872.0" r="0.85" fill="#1a1a1a"/>
<circle cx="744.9" cy="874.3" r="0.85" fill="#1a1a1a"/>
<circle cx="749.8" cy="875.9" r="0.85" fill="#1a1a1a"/>
<circle cx="753.6" cy="877.0" r="0.85" fill="#1a1a1a"/>
<circle cx="749.8" cy="878.5" r="0.85" fill="#1a1a1a"/>
<circle cx="758.2" cy="880.8" r="0.85" fill="#1a1a1a"/>
<circle cx="751.0" cy="883.9" r="0.85" fill="#1a1a1a"/>
<circle cx="755.9" cy="885.4" r="0.85" fill="#1a1a1a"/>
<circle cx="760.1" cy="887.3" r="0.85" fill="#1a1a1a"/>
<circle cx="752.5" cy="888.8" r="0.85" fill="#1a1a1a"/>
<circle cx="755.9" cy="890.3" r="0.85" fill="#1a1a1a"/>
<circle cx="752.1" cy="893.8" r="0.85" fill="#1a1a1a"/>
<circle cx="750.6" cy="896.0" r="0.85" fill="#1a1a1a"/>
<circle cx="744.5" cy="897.6" r="0.85" fill="#1a1a1a"/>
<circle cx="754.4" cy="898.3" r="0.85" fill="#1a1a1a"/>
<circle cx="747.5" cy="900.6" r="0.85" fill="#1a1a1a"/>
<circle cx="754.8" cy="902.9" r="0.85" fill="#1a1a1a"/>
<circle cx="752.9" cy="905.2" r="0.85" fill="#1a1a1a"/>
<circle cx="746.4" cy="909.0" r="0.85" fill="#1a1a1a"/>
<circle cx="747.5" cy="911.3" r="0.85" fill="#1a1a1a"/>
<circle cx="752.9" cy="913.2" r="0.85" fill="#1a1a1a"/>
<circle cx="753.6" cy="915.1" r="0.85" fill="#1a1a1a"/>
<circle cx="740.7" cy="917.4" r="0.85" fill="#1a1a1a"/>
<circle cx="744.5" cy="920.0" r="0.85" fill="#1a1a1a"/>
<circle cx="751.3" cy="921.2" r="0.85" fill="#1a1a1a"/>
<circle cx="746.0" cy="923.5" r="0.85" fill="#1a1a1a"/>
<circle cx="758.3" cy="924.6" r="0.85" fill="#1a1a1a"/>
<circle cx="747.1" cy="926.6" r="0.85" fill="#1a1a1a"/>
<circle cx="751.2" cy="928.6" r="0.85" fill="#1a1a1a"/>
<circle cx="744.0" cy="932.7" r="0.85" fill="#1a1a1a"/>
<circle cx="751.2" cy="934.7" r="0.85" fill="#1a1a1a"/>
<circle cx="756.2" cy="938.3" r="0.85" fill="#1a1a1a"/>
<circle cx="749.1" cy="939.8" r="0.85" fill="#1a1a1a"/>
<circle cx="757.3" cy="941.9" r="0.85" fill="#1a1a1a"/>
<circle cx="750.1" cy="944.4" r="0.85" fill="#1a1a1a"/>
<circle cx="740.0" cy="946.4" r="0.85" fill="#1a1a1a"/>
<circle cx="745.1" cy="948.0" r="0.85" fill="#1a1a1a"/>
<circle cx="747.1" cy="949.5" r="0.85" fill="#1a1a1a"/>
<circle cx="742.5" cy="950.5" r="0.85" fill="#1a1a1a"/>
<circle cx="741.0" cy="954.6" r="0.85" fill="#1a1a1a"/>
<circle cx="737.9" cy="955.6" r="0.85" fill="#1a1a1a"/>
<circle cx="714.6" cy="955.6" r="0.85" fill="#1a1a1a"/>
<circle cx="711.0" cy="958.6" r="0.85" fill="#1a1a1a"/>
<circle cx="705.4" cy="959.6" r="0.85" fill="#1a1a1a"/>
<circle cx="711.5" cy="961.2" r="0.85" fill="#1a1a1a"/>
<circle cx="701.9" cy="962.7" r="0.85" fill="#1a1a1a"/>
<circle cx="706.4" cy="966.3" r="0.85" fill="#1a1a1a"/>
<circle cx="694.7" cy="968.8" r="0.85" fill="#1a1a1a"/>
<circle cx="701.3" cy="969.8" r="0.85" fill="#1a1a1a"/>
<circle cx="710.5" cy="971.3" r="0.85" fill="#1a1a1a"/>
<circle cx="703.4" cy="972.9" r="0.85" fill="#1a1a1a"/>
<circle cx="707.4" cy="974.9" r="0.85" fill="#1a1a1a"/>
<circle cx="699.8" cy="976.4" r="0.85" fill="#1a1a1a"/>
<circle cx="692.2" cy="979.0" r="0.85" fill="#1a1a1a"/>
<circle cx="700.3" cy="980.5" r="0.85" fill="#1a1a1a"/>
<circle cx="690.2" cy="981.5" r="0.85" fill="#1a1a1a"/>
<circle cx="688.6" cy="984.5" r="0.85" fill="#1a1a1a"/>
<circle cx="688.1" cy="989.1" r="0.85" fill="#1a1a1a"/>
<circle cx="686.6" cy="992.2" r="0.85" fill="#1a1a1a"/>
<circle cx="688.1" cy="993.7" r="0.85" fill="#1a1a1a"/>
<path d="M139.1,977.1 L142.7,974.6 L142.7,975.6 L147.8,975.6 L147.8,978.6 L142.7,978.6 L142.7,979.6 Z" fill="#111"/>
<text transform="translate(149.81,979.50) scale(1.0,1.0)" text-anchor="start" font-size="12.85" fill="#333">3860</text>
<rect x="120.3" y="1055.0" width="5.9" height="2.3" fill="#111"/>
<text transform="translate(127.04,1061.30) scale(1.0,1.0)" text-anchor="start" font-size="12.85" fill="#333">6290</text>
<rect x="290.6" y="905.1" width="5.7" height="2.3" fill="#111"/>
<text transform="translate(257.74,910.90) scale(1.0,0.97)" text-anchor="start" font-size="12.8" fill="#333">3200</text>
<path d="M304.1,940.5 L307.7,938.0 L307.7,939.0 L311.7,939.0 L311.7,942.0 L307.7,942.0 L307.7,943.0 Z" fill="#111"/>
<text transform="translate(316.31,943.80) scale(1.0,0.97)" text-anchor="start" font-size="12.8" fill="#333">4500</text>
<path d="M447.3,993.0 L450.9,990.5 L450.9,991.5 L455.6,991.5 L455.6,994.5 L450.9,994.5 L450.9,995.5 Z" fill="#111"/>
<text transform="translate(458.41,998.00) scale(1.0,0.95)" text-anchor="start" font-size="12.7" fill="#333">4690</text>
<rect x="402.9" y="1024.8" width="5.7" height="2.3" fill="#111"/>
<text transform="translate(413.11,1030.50) scale(1.0,0.95)" text-anchor="start" font-size="12.7" fill="#333">4900</text>
<path d="M589.5,949.6 L593.1,947.1 L593.1,948.1 L597.1,948.1 L597.1,951.1 L593.1,951.1 L593.1,952.1 Z" fill="#111"/>
<text transform="translate(601.21,954.00) scale(1.0,0.94)" text-anchor="start" font-size="12.8" fill="#333">4170</text>
<rect x="549.8" y="1041.2" width="5.0" height="2.3" fill="#111"/>
<text transform="translate(556.85,1047.00) scale(1.0,0.94)" text-anchor="start" font-size="12.8" fill="#333">7230</text>
<rect x="734.4" y="925.1" width="5.1" height="2.3" fill="#111"/>
<text transform="translate(701.84,929.40) scale(1.0,0.98)" text-anchor="start" font-size="12.85" fill="#333">5980</text>
<path d="M745.1,954.6 L748.7,952.1 L748.7,953.1 L753.0,953.1 L753.0,956.1 L748.7,956.1 L748.7,957.1 Z" fill="#111"/>
<text transform="translate(755.24,960.70) scale(1.0,0.98)" text-anchor="start" font-size="12.85" fill="#333">6740</text>
<rect x="691.7" y="993.6" width="5.1" height="2.3" fill="#111"/>
<text transform="translate(699.60,998.50) scale(1.0,0.98)" text-anchor="start" font-size="12.85" fill="#333">9000</text>
<rect x="105.5" y="1100.5" width="20" height="9" fill="#999" stroke="#555" stroke-width="1"/>
<text x="131.5" y="1109" font-size="12.75" fill="#333">Brownish peat</text>
<rect x="229.8" y="1101.5" width="20" height="8.8" fill="#fff" stroke="#aaa" stroke-width="0.8"/>
<line x1="229.6" y1="1102.1" x2="249.9" y2="1102.1" stroke="#333" stroke-width="1.5"/>
<line x1="229.6" y1="1109.9" x2="249.9" y2="1109.9" stroke="#333" stroke-width="1.5"/>
<line x1="234.9" y1="1106.3" x2="243.9" y2="1106.3" stroke="#333" stroke-width="1.3"/>
<line x1="230.0" y1="1106.3" x2="231.3" y2="1106.3" stroke="#333" stroke-width="1.3"/>
<line x1="248.0" y1="1106.3" x2="249.4" y2="1106.3" stroke="#333" stroke-width="1.3"/>
<text x="255.6" y="1109" font-size="12.75" fill="#333">Grey-darkish gyttja</text>
<rect x="379.6" y="1102.7" width="4.4" height="2.6" fill="#111"/>
<text x="393.2" y="1108.7" font-size="12.9" fill="#333">Ages dated with AMS <tspan font-size="9" dy="-5">14</tspan><tspan dy="5">C method</tspan></text>
<path d="M604,1104.5 L607.4,1101.8 L607.4,1103.1 L612.7,1103.1 L612.7,1105.9 L607.4,1105.9 L607.4,1107.2 Z" fill="#111"/>
<text x="619.1" y="1108.8" font-size="12.75" fill="#333">Peat basal ages</text>
</svg></body></html>
